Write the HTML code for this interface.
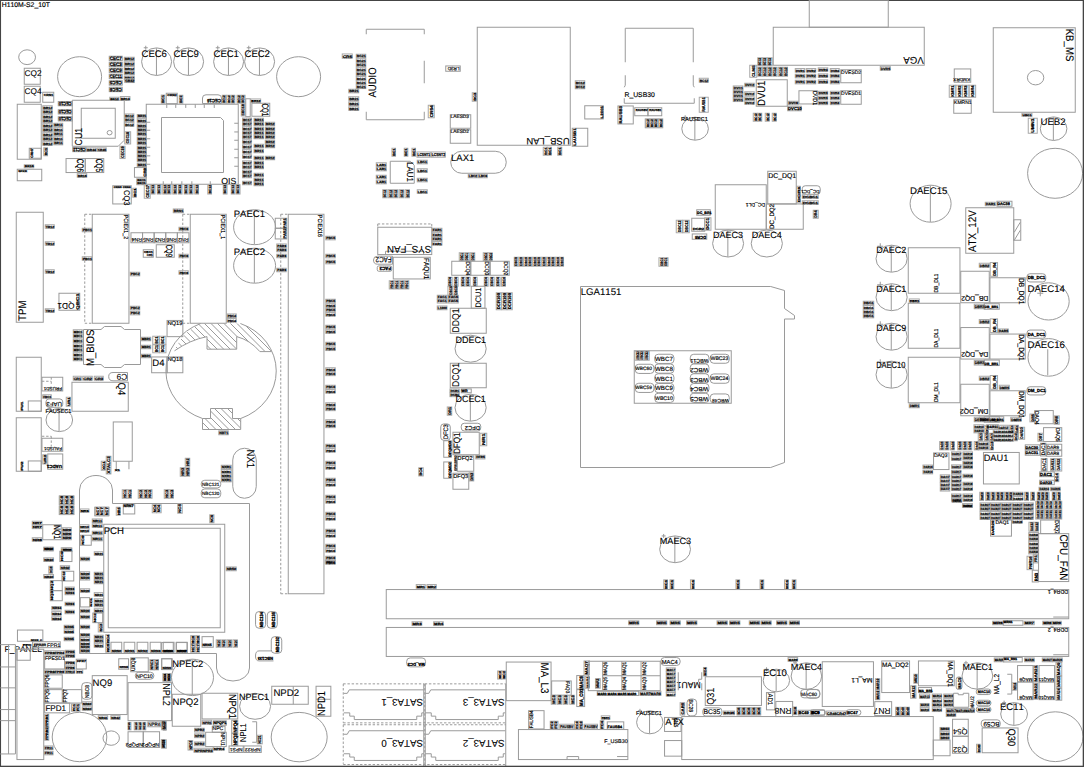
<!DOCTYPE html>
<html><head><meta charset="utf-8"><title>H110M-S2_10T</title>
<style>
html,body{margin:0;padding:0;background:#fff;}
body{width:1084px;height:767px;overflow:hidden;font-family:"Liberation Sans",sans-serif;}
svg{display:block}
svg rect,svg ellipse,svg line,svg polygon,svg polyline,svg path{fill:none;stroke:#9a9a9a;stroke-width:1}
svg text{font-family:"Liberation Sans",sans-serif;fill:#000;stroke:#000;stroke-width:0.1;font-kerning:none;text-rendering:geometricPrecision}
svg text.s{fill:#000;font-weight:bold;stroke:#000;stroke-width:0.25}
svg text.b{font-weight:bold}
svg rect.tb{stroke:#a8a8a8}
svg text.m{stroke:#000;stroke-width:0.16}
svg text.b{stroke:#000;stroke-width:0.3}
</style></head><body>
<svg width="1084" height="767" viewBox="0 0 1084 767">
<rect x="0" y="0" width="1084" height="767" style="fill:#fff;stroke:none"/>
<rect x="0" y="0" width="1084" height="1" style="fill:#444;stroke:none"/>
<rect x="0" y="0" width="1.05" height="767" style="fill:#444;stroke:none"/>
<text transform="translate(1.7 7.0)" font-size="6.85" text-anchor="start" class="t m">H110M-S2_10T</text>
<ellipse cx="27.1" cy="57.2" rx="8.4" ry="7.4"/>
<ellipse cx="79.6" cy="76.7" rx="22.0" ry="20.0"/>
<ellipse cx="298.6" cy="76.7" rx="22.0" ry="20.0"/>
<rect x="24.25" y="68.25" width="16.0" height="16.0"/>
<text transform="translate(24.5 76.0)" font-size="8.32" text-anchor="start" class="t">CQ2</text>
<rect x="24.25" y="86.25" width="16.0" height="16.0"/>
<text transform="translate(24.5 93.5)" font-size="8.32" text-anchor="start" class="t">CQ4</text>
<rect x="42.75" y="92.25" width="11.0" height="10.0"/>
<text x="43.7" y="95.6" font-size="3.0" textLength="9.4" lengthAdjust="spacingAndGlyphs" class="s">CRN1</text>
<rect x="17.25" y="104.25" width="24.0" height="55.0"/>
<rect x="29.25" y="148.25" width="12.0" height="10.0"/>
<text transform="translate(33.0 157.8) rotate(-90)" font-size="3.4" textLength="9.4" lengthAdjust="spacingAndGlyphs" class="s">CRN7</text>
<rect class="tb" x="42.75" y="105.75" width="9.5" height="3.6"/>
<text x="43.2" y="108.7" font-size="3.1" textLength="8.9" lengthAdjust="spacingAndGlyphs" class="s">BR12</text>
<rect class="tb" x="42.75" y="110.25" width="9.5" height="3.6"/>
<text x="43.2" y="113.2" font-size="3.1" textLength="8.9" lengthAdjust="spacingAndGlyphs" class="s">BR12</text>
<rect class="tb" x="42.75" y="114.75" width="9.5" height="3.6"/>
<text x="43.2" y="117.7" font-size="3.1" textLength="8.9" lengthAdjust="spacingAndGlyphs" class="s">BR12</text>
<rect class="tb" x="42.75" y="119.25" width="9.5" height="3.6"/>
<text x="43.2" y="122.2" font-size="3.1" textLength="8.9" lengthAdjust="spacingAndGlyphs" class="s">BR12</text>
<rect class="tb" x="42.75" y="123.75" width="9.5" height="3.6"/>
<text x="43.2" y="126.7" font-size="3.1" textLength="8.9" lengthAdjust="spacingAndGlyphs" class="s">BR12</text>
<rect class="tb" x="42.75" y="128.25" width="9.5" height="3.6"/>
<text x="43.2" y="131.2" font-size="3.1" textLength="8.9" lengthAdjust="spacingAndGlyphs" class="s">BR12</text>
<rect class="tb" x="42.75" y="132.75" width="9.5" height="3.6"/>
<text x="43.2" y="135.7" font-size="3.1" textLength="8.9" lengthAdjust="spacingAndGlyphs" class="s">BR12</text>
<rect class="tb" x="42.75" y="137.25" width="9.5" height="3.6"/>
<text x="43.2" y="140.2" font-size="3.1" textLength="8.9" lengthAdjust="spacingAndGlyphs" class="s">BR12</text>
<rect class="tb" x="42.75" y="141.75" width="9.5" height="3.6"/>
<text x="43.2" y="144.7" font-size="3.1" textLength="8.9" lengthAdjust="spacingAndGlyphs" class="s">BR12</text>
<rect class="tb" x="53.75" y="123.25" width="9.0" height="3.6"/>
<text x="54.2" y="126.2" font-size="3.1" textLength="8.4" lengthAdjust="spacingAndGlyphs" class="s">BR11</text>
<rect class="tb" x="53.75" y="127.75" width="9.0" height="3.6"/>
<text x="54.2" y="130.7" font-size="3.1" textLength="8.4" lengthAdjust="spacingAndGlyphs" class="s">BR11</text>
<rect class="tb" x="53.75" y="132.25" width="9.0" height="3.6"/>
<text x="54.2" y="135.2" font-size="3.1" textLength="8.4" lengthAdjust="spacingAndGlyphs" class="s">BR11</text>
<rect class="tb" x="53.75" y="136.75" width="9.0" height="3.6"/>
<text x="54.2" y="139.7" font-size="3.1" textLength="8.4" lengthAdjust="spacingAndGlyphs" class="s">BR11</text>
<rect class="tb" x="53.75" y="141.25" width="9.0" height="3.6"/>
<text x="54.2" y="144.2" font-size="3.1" textLength="8.4" lengthAdjust="spacingAndGlyphs" class="s">BR11</text>
<rect class="tb" x="43.75" y="147.75" width="3.8" height="8.0"/>
<text transform="translate(46.9 155.3) rotate(-90)" font-size="3.2" textLength="7.4" lengthAdjust="spacingAndGlyphs" class="s">BC1</text>
<rect x="58.25" y="101.55" width="14.0" height="4.2"/>
<text transform="translate(71.6 101.8) rotate(180)" font-size="4.9" text-anchor="start" textLength="12.8" lengthAdjust="spacingAndGlyphs" class="t b">CEC10</text>
<rect x="58.25" y="109.75" width="14.0" height="4.2"/>
<text transform="translate(71.6 110.0) rotate(180)" font-size="4.9" text-anchor="start" textLength="12.8" lengthAdjust="spacingAndGlyphs" class="t b">CEC10</text>
<rect x="58.25" y="116.75" width="14.0" height="4.2"/>
<text transform="translate(71.6 117.0) rotate(180)" font-size="4.9" text-anchor="start" textLength="12.8" lengthAdjust="spacingAndGlyphs" class="t b">CEC10</text>
<polygon points="72.25,100.25 124.25,100.25 124.25,140.25 118.25,146.25 72.25,146.25"/>
<rect x="81.25" y="108.25" width="34.0" height="30.0"/>
<ellipse cx="109.6" cy="132.7" rx="2.5" ry="2.2"/>
<text transform="translate(82.2 145.5) rotate(-90) scale(1 1.15)" font-size="8.83" text-anchor="start" class="t">CU1</text>
<rect class="tb" x="109.75" y="97.25" width="9.0" height="3.0"/>
<text x="110.2" y="99.7" font-size="2.5" textLength="8.4" lengthAdjust="spacingAndGlyphs" class="s">BR12</text>
<rect class="tb" x="120.25" y="96.55" width="9.7" height="3.7"/>
<text x="120.7" y="99.6" font-size="3.1" textLength="9.1" lengthAdjust="spacingAndGlyphs" class="s">BR13</text>
<rect class="tb" x="124.75" y="113.95" width="9.1" height="3.6"/>
<text x="125.2" y="116.9" font-size="3.1" textLength="8.5" lengthAdjust="spacingAndGlyphs" class="s">BC12</text>
<rect class="tb" x="124.75" y="118.25" width="9.1" height="3.6"/>
<text x="125.2" y="121.2" font-size="3.1" textLength="8.5" lengthAdjust="spacingAndGlyphs" class="s">BC12</text>
<rect class="tb" x="124.75" y="122.65" width="9.1" height="3.6"/>
<text x="125.2" y="125.6" font-size="3.1" textLength="8.5" lengthAdjust="spacingAndGlyphs" class="s">BC12</text>
<rect class="tb" x="124.75" y="131.75" width="5.9" height="12.2"/>
<text transform="translate(129.3 143.5) rotate(-90)" font-size="4.2" textLength="11.6" lengthAdjust="spacingAndGlyphs" class="s">CEC18</text>
<rect class="tb" x="119.95" y="146.25" width="5.1" height="12.3"/>
<text transform="translate(124.1 158.1) rotate(-90)" font-size="4.2" textLength="11.7" lengthAdjust="spacingAndGlyphs" class="s">CEC19</text>
<rect x="72.75" y="147.25" width="13.3" height="4.4"/>
<text transform="translate(85.5 147.7) rotate(180)" font-size="4.7" text-anchor="start" textLength="12.3" lengthAdjust="spacingAndGlyphs" class="t b">CEC12</text>
<rect class="tb" x="86.55" y="147.85" width="9.7" height="3.6"/>
<text x="87.0" y="150.8" font-size="3.1" textLength="9.1" lengthAdjust="spacingAndGlyphs" class="s">BR44</text>
<rect class="tb" x="97.25" y="147.85" width="9.0" height="3.6"/>
<text x="97.7" y="150.8" font-size="3.1" textLength="8.4" lengthAdjust="spacingAndGlyphs" class="s">CR45</text>
<rect x="66.05" y="158.55" width="19.2" height="14.0"/>
<rect x="85.25" y="158.55" width="18.5" height="14.0"/>
<text transform="translate(77.0 158.8) rotate(90) scale(1 1.45)" font-size="6.5" text-anchor="start" class="t m">CQ6</text>
<text transform="translate(96.0 158.8) rotate(90) scale(1 1.45)" font-size="6.5" text-anchor="start" class="t m">CQ5</text>
<rect class="tb" x="77.25" y="173.65" width="9.5" height="3.6"/>
<text x="77.7" y="176.6" font-size="3.1" textLength="8.9" lengthAdjust="spacingAndGlyphs" class="s">BR16</text>
<rect class="tb" x="24.25" y="164.75" width="9.5" height="3.0"/>
<text x="24.7" y="167.2" font-size="2.5" textLength="8.9" lengthAdjust="spacingAndGlyphs" class="s">BR15</text>
<rect x="17.25" y="169.25" width="24.5" height="11.5"/>
<text x="18.2" y="172.2" font-size="2.5" textLength="8.9" lengthAdjust="spacingAndGlyphs" class="s">SPKR</text>
<rect x="109.25" y="56.25" width="13.0" height="4.4"/>
<text transform="translate(109.8 60.2)" font-size="4.9" text-anchor="start" textLength="12.0" lengthAdjust="spacingAndGlyphs" class="t b">CEC7</text>
<rect x="109.25" y="62.25" width="13.0" height="4.4"/>
<text transform="translate(109.8 66.2)" font-size="4.9" text-anchor="start" textLength="12.0" lengthAdjust="spacingAndGlyphs" class="t b">CEC3</text>
<rect x="109.25" y="68.25" width="13.0" height="4.4"/>
<text transform="translate(109.8 72.2)" font-size="4.9" text-anchor="start" textLength="12.0" lengthAdjust="spacingAndGlyphs" class="t b">CEC9</text>
<rect x="109.25" y="74.25" width="13.0" height="4.4"/>
<text transform="translate(109.8 78.2)" font-size="4.9" text-anchor="start" textLength="12.0" lengthAdjust="spacingAndGlyphs" class="t b">CEC11</text>
<rect x="109.25" y="80.75" width="13.0" height="4.4"/>
<text transform="translate(121.7 81.2) rotate(180)" font-size="4.9" text-anchor="start" textLength="12.0" lengthAdjust="spacingAndGlyphs" class="t b">CEC5</text>
<rect x="109.25" y="87.25" width="13.0" height="4.4"/>
<text transform="translate(121.7 87.7) rotate(180)" font-size="4.9" text-anchor="start" textLength="12.0" lengthAdjust="spacingAndGlyphs" class="t b">CEC6</text>
<rect class="tb" x="124.25" y="57.25" width="10.0" height="3.6"/>
<text x="124.7" y="60.2" font-size="3.1" textLength="9.4" lengthAdjust="spacingAndGlyphs" class="s">BR12</text>
<rect class="tb" x="124.25" y="61.95" width="10.0" height="3.6"/>
<text x="124.7" y="64.9" font-size="3.1" textLength="9.4" lengthAdjust="spacingAndGlyphs" class="s">BR12</text>
<rect class="tb" x="124.25" y="66.55" width="10.0" height="3.6"/>
<text x="124.7" y="69.5" font-size="3.1" textLength="9.4" lengthAdjust="spacingAndGlyphs" class="s">BR12</text>
<rect class="tb" x="124.25" y="71.25" width="10.0" height="3.6"/>
<text x="124.7" y="74.2" font-size="3.1" textLength="9.4" lengthAdjust="spacingAndGlyphs" class="s">BR12</text>
<rect class="tb" x="124.25" y="76.25" width="10.0" height="3.6"/>
<text x="124.7" y="79.2" font-size="3.1" textLength="9.4" lengthAdjust="spacingAndGlyphs" class="s">BR12</text>
<rect class="tb" x="124.75" y="78.75" width="9.5" height="3.8"/>
<text x="125.2" y="81.9" font-size="3.2" textLength="8.9" lengthAdjust="spacingAndGlyphs" class="s">CR42</text>
<ellipse cx="156.6" cy="61.7" rx="15.0" ry="13.8"/>
<line x1="156.45" y1="48.25" x2="156.45" y2="75.25"/>
<line x1="145.75" y1="45.75" x2="145.75" y2="49.75"/>
<line x1="143.75" y1="47.75" x2="147.75" y2="47.75"/>
<text transform="translate(141.5 57.0)" font-size="9.54" text-anchor="start" class="t">CEC6</text>
<ellipse cx="188.6" cy="61.7" rx="15.0" ry="13.8"/>
<line x1="188.45" y1="48.25" x2="188.45" y2="75.25"/>
<line x1="177.75" y1="45.75" x2="177.75" y2="49.75"/>
<line x1="175.75" y1="47.75" x2="179.75" y2="47.75"/>
<text transform="translate(173.5 57.0)" font-size="9.54" text-anchor="start" class="t">CEC9</text>
<ellipse cx="228.6" cy="61.7" rx="15.0" ry="13.8"/>
<line x1="228.45" y1="48.25" x2="228.45" y2="75.25"/>
<line x1="217.75" y1="45.75" x2="217.75" y2="49.75"/>
<line x1="215.75" y1="47.75" x2="219.75" y2="47.75"/>
<text transform="translate(213.5 57.0)" font-size="9.54" text-anchor="start" class="t">CEC1</text>
<ellipse cx="259.6" cy="61.7" rx="15.0" ry="13.8"/>
<line x1="259.45" y1="48.25" x2="259.45" y2="75.25"/>
<line x1="248.75" y1="45.75" x2="248.75" y2="49.75"/>
<line x1="246.75" y1="47.75" x2="250.75" y2="47.75"/>
<text transform="translate(244.5 57.0)" font-size="9.54" text-anchor="start" class="t">CEC2</text>
<rect x="146.25" y="104.25" width="92.0" height="80.0"/>
<path d="M161.5 117.5 H220.5 L223.5 120.5 V172.5 H161.5 Z" />
<line x1="166.75" y1="104.25" x2="166.75" y2="107.95"/>
<line x1="175.75" y1="104.25" x2="175.75" y2="107.95"/>
<line x1="185.75" y1="104.25" x2="185.75" y2="107.95"/>
<line x1="195.25" y1="104.25" x2="195.25" y2="107.95"/>
<line x1="204.25" y1="104.25" x2="204.25" y2="107.95"/>
<line x1="214.25" y1="104.25" x2="214.25" y2="107.95"/>
<line x1="146.25" y1="122.25" x2="150.25" y2="122.25"/>
<line x1="146.25" y1="130.25" x2="150.25" y2="130.25"/>
<line x1="146.25" y1="138.75" x2="150.25" y2="138.75"/>
<line x1="146.25" y1="147.25" x2="150.25" y2="147.25"/>
<line x1="146.25" y1="155.85" x2="150.25" y2="155.85"/>
<line x1="146.25" y1="164.25" x2="150.25" y2="164.25"/>
<line x1="234.25" y1="123.25" x2="238.25" y2="123.25"/>
<line x1="234.25" y1="131.95" x2="238.25" y2="131.95"/>
<line x1="234.25" y1="140.25" x2="238.25" y2="140.25"/>
<line x1="234.25" y1="149.25" x2="238.25" y2="149.25"/>
<line x1="234.25" y1="157.75" x2="238.25" y2="157.75"/>
<line x1="234.25" y1="166.25" x2="238.25" y2="166.25"/>
<line x1="163.25" y1="181.25" x2="163.25" y2="184.25"/>
<line x1="171.75" y1="181.25" x2="171.75" y2="184.25"/>
<line x1="181.85" y1="181.25" x2="181.85" y2="184.25"/>
<line x1="191.85" y1="181.25" x2="191.85" y2="184.25"/>
<line x1="210.25" y1="181.25" x2="210.25" y2="184.25"/>
<text transform="translate(221.3 183.7)" font-size="8.73" text-anchor="start" class="t">OIS</text>
<rect class="tb" x="161.25" y="95.05" width="3.6" height="8.2"/>
<text transform="translate(164.2 102.8) rotate(-90)" font-size="3.1" textLength="7.6" lengthAdjust="spacingAndGlyphs" class="s">BC1</text>
<rect x="166.25" y="93.25" width="11.0" height="10.4"/>
<text x="167.2" y="96.2" font-size="2.7" textLength="9.4" lengthAdjust="spacingAndGlyphs" class="s">CRN2</text>
<rect class="tb" x="179.25" y="95.25" width="3.6" height="8.0"/>
<text transform="translate(182.2 102.8) rotate(-90)" font-size="3.1" textLength="7.4" lengthAdjust="spacingAndGlyphs" class="s">BC2</text>
<path d="M202.5 103.5 V98 Q202.5 94.8 206 94.8 H218 Q221.5 94.8 221.5 98 V103.5 Z" />
<text transform="translate(221.0 99.4) rotate(180)" font-size="4.9" text-anchor="start" textLength="14.0" lengthAdjust="spacingAndGlyphs" class="t b">CEC16</text>
<rect class="tb" x="222.25" y="95.25" width="3.6" height="8.0"/>
<text transform="translate(225.2 102.8) rotate(-90)" font-size="3.1" textLength="7.4" lengthAdjust="spacingAndGlyphs" class="s">BC12</text>
<rect class="tb" x="226.55" y="95.25" width="3.6" height="8.0"/>
<text transform="translate(229.5 102.8) rotate(-90)" font-size="3.1" textLength="7.4" lengthAdjust="spacingAndGlyphs" class="s">BC12</text>
<rect class="tb" x="231.25" y="95.25" width="3.6" height="8.0"/>
<text transform="translate(234.2 102.8) rotate(-90)" font-size="3.1" textLength="7.4" lengthAdjust="spacingAndGlyphs" class="s">BC12</text>
<rect class="tb" x="237.05" y="95.25" width="3.6" height="8.0"/>
<text transform="translate(240.0 102.8) rotate(-90)" font-size="3.1" textLength="7.4" lengthAdjust="spacingAndGlyphs" class="s">BC12</text>
<rect class="tb" x="241.45" y="95.25" width="3.6" height="8.0"/>
<text transform="translate(244.4 102.8) rotate(-90)" font-size="3.1" textLength="7.4" lengthAdjust="spacingAndGlyphs" class="s">BC12</text>
<rect class="tb" x="241.25" y="104.25" width="3.6" height="11.7"/>
<text transform="translate(244.2 115.5) rotate(-90)" font-size="3.1" textLength="11.1" lengthAdjust="spacingAndGlyphs" class="s">CEC18</text>
<rect x="245.75" y="98.75" width="4.5" height="17.9"/>
<rect class="tb" x="250.85" y="98.95" width="9.8" height="3.3"/>
<text x="251.3" y="101.7" font-size="2.8" textLength="9.2" lengthAdjust="spacingAndGlyphs" class="s">BR12</text>
<rect x="251.85" y="103.25" width="17.9" height="13.0"/>
<text transform="translate(262.3 103.5) rotate(90) scale(1 1.5)" font-size="6.2" text-anchor="start" class="t m">CQ1</text>
<rect class="tb" x="242.55" y="118.05" width="9.0" height="3.5"/>
<text x="243.0" y="120.9" font-size="3.0" textLength="8.4" lengthAdjust="spacingAndGlyphs" class="s">BC17</text>
<rect class="tb" x="242.55" y="122.25" width="9.0" height="3.5"/>
<text x="243.0" y="125.1" font-size="3.0" textLength="8.4" lengthAdjust="spacingAndGlyphs" class="s">BC17</text>
<rect class="tb" x="242.55" y="126.75" width="9.0" height="3.5"/>
<text x="243.0" y="129.6" font-size="3.0" textLength="8.4" lengthAdjust="spacingAndGlyphs" class="s">BC17</text>
<rect class="tb" x="242.55" y="131.25" width="9.0" height="3.5"/>
<text x="243.0" y="134.1" font-size="3.0" textLength="8.4" lengthAdjust="spacingAndGlyphs" class="s">BC17</text>
<rect class="tb" x="242.55" y="135.25" width="9.0" height="3.5"/>
<text x="243.0" y="138.1" font-size="3.0" textLength="8.4" lengthAdjust="spacingAndGlyphs" class="s">BC17</text>
<rect class="tb" x="242.55" y="139.85" width="9.0" height="3.5"/>
<text x="243.0" y="142.7" font-size="3.0" textLength="8.4" lengthAdjust="spacingAndGlyphs" class="s">BC17</text>
<rect class="tb" x="242.55" y="144.75" width="9.0" height="3.5"/>
<text x="243.0" y="147.6" font-size="3.0" textLength="8.4" lengthAdjust="spacingAndGlyphs" class="s">BC17</text>
<rect class="tb" x="242.55" y="149.65" width="9.0" height="3.5"/>
<text x="243.0" y="152.5" font-size="3.0" textLength="8.4" lengthAdjust="spacingAndGlyphs" class="s">BC17</text>
<rect class="tb" x="242.55" y="154.75" width="9.0" height="3.5"/>
<text x="243.0" y="157.6" font-size="3.0" textLength="8.4" lengthAdjust="spacingAndGlyphs" class="s">BC17</text>
<rect class="tb" x="242.55" y="160.85" width="9.0" height="3.5"/>
<text x="243.0" y="163.7" font-size="3.0" textLength="8.4" lengthAdjust="spacingAndGlyphs" class="s">BC17</text>
<rect class="tb" x="242.55" y="164.95" width="9.0" height="3.5"/>
<text x="243.0" y="167.8" font-size="3.0" textLength="8.4" lengthAdjust="spacingAndGlyphs" class="s">BC17</text>
<rect class="tb" x="242.55" y="170.05" width="9.0" height="3.5"/>
<text x="243.0" y="172.9" font-size="3.0" textLength="8.4" lengthAdjust="spacingAndGlyphs" class="s">BC17</text>
<rect class="tb" x="242.55" y="174.25" width="9.0" height="3.5"/>
<text x="243.0" y="177.1" font-size="3.0" textLength="8.4" lengthAdjust="spacingAndGlyphs" class="s">BC17</text>
<rect class="tb" x="242.55" y="181.25" width="9.0" height="3.5"/>
<text x="243.0" y="184.1" font-size="3.0" textLength="8.4" lengthAdjust="spacingAndGlyphs" class="s">BC17</text>
<rect class="tb" x="254.05" y="118.25" width="9.4" height="3.5"/>
<text x="254.5" y="121.1" font-size="3.0" textLength="8.8" lengthAdjust="spacingAndGlyphs" class="s">BR11</text>
<rect class="tb" x="254.05" y="122.25" width="9.4" height="3.5"/>
<text x="254.5" y="125.1" font-size="3.0" textLength="8.8" lengthAdjust="spacingAndGlyphs" class="s">BR11</text>
<rect class="tb" x="254.05" y="127.25" width="9.4" height="3.5"/>
<text x="254.5" y="130.1" font-size="3.0" textLength="8.8" lengthAdjust="spacingAndGlyphs" class="s">BR11</text>
<rect class="tb" x="254.05" y="131.25" width="9.4" height="3.5"/>
<text x="254.5" y="134.1" font-size="3.0" textLength="8.8" lengthAdjust="spacingAndGlyphs" class="s">BR11</text>
<rect class="tb" x="254.05" y="135.25" width="9.4" height="3.5"/>
<text x="254.5" y="138.1" font-size="3.0" textLength="8.8" lengthAdjust="spacingAndGlyphs" class="s">BR11</text>
<rect class="tb" x="254.05" y="144.25" width="9.4" height="3.5"/>
<text x="254.5" y="147.1" font-size="3.0" textLength="8.8" lengthAdjust="spacingAndGlyphs" class="s">BR11</text>
<rect class="tb" x="254.05" y="149.25" width="9.4" height="3.5"/>
<text x="254.5" y="152.1" font-size="3.0" textLength="8.8" lengthAdjust="spacingAndGlyphs" class="s">BR11</text>
<rect class="tb" x="254.05" y="156.25" width="9.4" height="3.5"/>
<text x="254.5" y="159.1" font-size="3.0" textLength="8.8" lengthAdjust="spacingAndGlyphs" class="s">BR11</text>
<rect class="tb" x="254.05" y="161.25" width="9.4" height="3.5"/>
<text x="254.5" y="164.1" font-size="3.0" textLength="8.8" lengthAdjust="spacingAndGlyphs" class="s">BR11</text>
<rect class="tb" x="254.05" y="165.25" width="9.4" height="3.5"/>
<text x="254.5" y="168.1" font-size="3.0" textLength="8.8" lengthAdjust="spacingAndGlyphs" class="s">BR11</text>
<rect class="tb" x="254.05" y="173.25" width="9.4" height="3.5"/>
<text x="254.5" y="176.1" font-size="3.0" textLength="8.8" lengthAdjust="spacingAndGlyphs" class="s">BR11</text>
<rect class="tb" x="254.05" y="178.25" width="9.4" height="3.5"/>
<text x="254.5" y="181.1" font-size="3.0" textLength="8.8" lengthAdjust="spacingAndGlyphs" class="s">BR11</text>
<rect class="tb" x="254.05" y="182.25" width="9.4" height="3.5"/>
<text x="254.5" y="185.1" font-size="3.0" textLength="8.8" lengthAdjust="spacingAndGlyphs" class="s">BR11</text>
<rect class="tb" x="265.25" y="122.25" width="9.4" height="3.5"/>
<text x="265.7" y="125.1" font-size="3.0" textLength="8.8" lengthAdjust="spacingAndGlyphs" class="s">BR12</text>
<rect class="tb" x="265.25" y="127.25" width="9.4" height="3.5"/>
<text x="265.7" y="130.1" font-size="3.0" textLength="8.8" lengthAdjust="spacingAndGlyphs" class="s">BR12</text>
<rect class="tb" x="265.25" y="131.25" width="9.4" height="3.5"/>
<text x="265.7" y="134.1" font-size="3.0" textLength="8.8" lengthAdjust="spacingAndGlyphs" class="s">BR12</text>
<rect class="tb" x="265.25" y="135.25" width="9.4" height="3.5"/>
<text x="265.7" y="138.1" font-size="3.0" textLength="8.8" lengthAdjust="spacingAndGlyphs" class="s">BR12</text>
<rect class="tb" x="265.25" y="140.25" width="9.4" height="3.5"/>
<text x="265.7" y="143.1" font-size="3.0" textLength="8.8" lengthAdjust="spacingAndGlyphs" class="s">BR12</text>
<rect class="tb" x="265.25" y="144.25" width="9.4" height="3.5"/>
<text x="265.7" y="147.1" font-size="3.0" textLength="8.8" lengthAdjust="spacingAndGlyphs" class="s">BR12</text>
<rect class="tb" x="265.25" y="156.25" width="9.4" height="3.5"/>
<text x="265.7" y="159.1" font-size="3.0" textLength="8.8" lengthAdjust="spacingAndGlyphs" class="s">BR12</text>
<rect class="tb" x="137.25" y="114.55" width="9.0" height="3.5"/>
<text x="137.7" y="117.4" font-size="3.0" textLength="8.4" lengthAdjust="spacingAndGlyphs" class="s">BR21</text>
<rect class="tb" x="137.25" y="118.85" width="9.0" height="3.5"/>
<text x="137.7" y="121.7" font-size="3.0" textLength="8.4" lengthAdjust="spacingAndGlyphs" class="s">BR21</text>
<rect class="tb" x="137.25" y="123.95" width="9.0" height="3.5"/>
<text x="137.7" y="126.8" font-size="3.0" textLength="8.4" lengthAdjust="spacingAndGlyphs" class="s">BR21</text>
<rect class="tb" x="137.25" y="128.25" width="9.0" height="3.5"/>
<text x="137.7" y="131.1" font-size="3.0" textLength="8.4" lengthAdjust="spacingAndGlyphs" class="s">BR21</text>
<rect class="tb" x="137.25" y="132.25" width="9.0" height="3.5"/>
<text x="137.7" y="135.1" font-size="3.0" textLength="8.4" lengthAdjust="spacingAndGlyphs" class="s">BR21</text>
<rect class="tb" x="137.25" y="137.25" width="9.0" height="3.5"/>
<text x="137.7" y="140.1" font-size="3.0" textLength="8.4" lengthAdjust="spacingAndGlyphs" class="s">BR21</text>
<rect class="tb" x="137.25" y="141.25" width="9.0" height="3.5"/>
<text x="137.7" y="144.1" font-size="3.0" textLength="8.4" lengthAdjust="spacingAndGlyphs" class="s">BR21</text>
<rect class="tb" x="137.25" y="146.25" width="9.0" height="3.5"/>
<text x="137.7" y="149.1" font-size="3.0" textLength="8.4" lengthAdjust="spacingAndGlyphs" class="s">BR21</text>
<rect class="tb" x="137.25" y="150.25" width="9.0" height="3.5"/>
<text x="137.7" y="153.1" font-size="3.0" textLength="8.4" lengthAdjust="spacingAndGlyphs" class="s">BR21</text>
<rect class="tb" x="137.25" y="154.25" width="9.0" height="3.5"/>
<text x="137.7" y="157.1" font-size="3.0" textLength="8.4" lengthAdjust="spacingAndGlyphs" class="s">BR21</text>
<rect class="tb" x="137.25" y="158.25" width="9.0" height="3.5"/>
<text x="137.7" y="161.1" font-size="3.0" textLength="8.4" lengthAdjust="spacingAndGlyphs" class="s">BR21</text>
<rect class="tb" x="137.25" y="163.25" width="9.0" height="3.5"/>
<text x="137.7" y="166.1" font-size="3.0" textLength="8.4" lengthAdjust="spacingAndGlyphs" class="s">BR21</text>
<rect x="134.45" y="167.55" width="11.8" height="9.7"/>
<text transform="translate(145.5 176.8) rotate(-90)" font-size="3.4" textLength="8.9" lengthAdjust="spacingAndGlyphs" class="s">CR8</text>
<rect class="tb" x="136.75" y="178.75" width="9.0" height="3.0"/>
<text x="137.2" y="181.2" font-size="2.5" textLength="8.4" lengthAdjust="spacingAndGlyphs" class="s">BR21</text>
<rect class="tb" x="136.75" y="181.75" width="9.0" height="3.0"/>
<text x="137.2" y="184.2" font-size="2.5" textLength="8.4" lengthAdjust="spacingAndGlyphs" class="s">BR21</text>
<polyline points="366.25,34.25 366.25,29.25 424.25,29.25 424.25,34.25"/>
<polyline points="366.25,111.75 366.25,119.75 424.25,119.75 424.25,111.75"/>
<line x1="424.25" y1="60.75" x2="424.25" y2="83.25"/>
<text transform="translate(376.0 97.5) rotate(-90) scale(1 1.13)" font-size="9.54" text-anchor="start" class="t">AUDIO</text>
<rect class="tb" x="342.25" y="53.95" width="10.0" height="4.3"/>
<text x="342.7" y="57.5" font-size="3.7" textLength="9.4" lengthAdjust="spacingAndGlyphs" class="s">CR5</text>
<rect class="tb" x="356.25" y="54.25" width="9.5" height="3.6"/>
<text x="356.7" y="57.2" font-size="3.1" textLength="8.9" lengthAdjust="spacingAndGlyphs" class="s">BC21</text>
<rect class="tb" x="356.25" y="58.75" width="9.5" height="3.6"/>
<text x="356.7" y="61.7" font-size="3.1" textLength="8.9" lengthAdjust="spacingAndGlyphs" class="s">BC21</text>
<rect class="tb" x="356.25" y="63.25" width="9.5" height="3.6"/>
<text x="356.7" y="66.2" font-size="3.1" textLength="8.9" lengthAdjust="spacingAndGlyphs" class="s">BC21</text>
<rect class="tb" x="356.25" y="67.75" width="9.5" height="3.6"/>
<text x="356.7" y="70.7" font-size="3.1" textLength="8.9" lengthAdjust="spacingAndGlyphs" class="s">BC21</text>
<rect class="tb" x="356.25" y="72.25" width="9.5" height="3.6"/>
<text x="356.7" y="75.2" font-size="3.1" textLength="8.9" lengthAdjust="spacingAndGlyphs" class="s">BC21</text>
<rect class="tb" x="356.25" y="76.55" width="9.5" height="3.6"/>
<text x="356.7" y="79.5" font-size="3.1" textLength="8.9" lengthAdjust="spacingAndGlyphs" class="s">BC21</text>
<rect class="tb" x="356.25" y="80.75" width="9.5" height="3.6"/>
<text x="356.7" y="83.7" font-size="3.1" textLength="8.9" lengthAdjust="spacingAndGlyphs" class="s">BC21</text>
<rect class="tb" x="356.25" y="84.95" width="9.5" height="3.6"/>
<text x="356.7" y="87.9" font-size="3.1" textLength="8.9" lengthAdjust="spacingAndGlyphs" class="s">BC21</text>
<rect class="tb" x="348.75" y="89.25" width="10.0" height="3.6"/>
<text x="349.2" y="92.2" font-size="3.1" textLength="9.4" lengthAdjust="spacingAndGlyphs" class="s">BR21</text>
<rect class="tb" x="348.75" y="96.75" width="10.0" height="3.6"/>
<text x="349.2" y="99.7" font-size="3.1" textLength="9.4" lengthAdjust="spacingAndGlyphs" class="s">BR21</text>
<rect class="tb" x="348.75" y="101.75" width="10.0" height="3.6"/>
<text x="349.2" y="104.7" font-size="3.1" textLength="9.4" lengthAdjust="spacingAndGlyphs" class="s">BR21</text>
<rect class="tb" x="348.75" y="106.75" width="10.0" height="3.6"/>
<text x="349.2" y="109.7" font-size="3.1" textLength="9.4" lengthAdjust="spacingAndGlyphs" class="s">BR21</text>
<rect class="tb" x="428.25" y="105.25" width="6.0" height="12.5"/>
<text transform="translate(432.8 117.3) rotate(-90)" font-size="4.2" textLength="11.9" lengthAdjust="spacingAndGlyphs" class="s">CR54</text>
<rect x="445.75" y="65.95" width="14.5" height="5.3"/>
<text transform="translate(459.4 67.1) rotate(180)" font-size="4.6" text-anchor="start" class="t m">LR3D</text>
<rect class="tb" x="472.25" y="92.75" width="4.0" height="8.5"/>
<text transform="translate(475.5 100.8) rotate(-90)" font-size="3.4" textLength="7.9" lengthAdjust="spacingAndGlyphs" class="s">BC3</text>
<rect x="477.25" y="27.25" width="93.0" height="118.0"/>
<text transform="translate(569.7 137.6) rotate(180)" font-size="9.54" text-anchor="start" class="t">USB_LAN</text>
<rect x="450.25" y="114.75" width="20.5" height="13.5"/>
<text transform="translate(450.6 118.3)" font-size="4.8" text-anchor="start" class="t m">LAESD3</text>
<rect x="450.25" y="129.75" width="20.5" height="13.5"/>
<text transform="translate(450.6 133.3)" font-size="4.8" text-anchor="start" class="t m">LAESD2</text>
<rect x="450.75" y="151.25" width="55.5" height="22.0" rx="11" ry="11"/>
<text transform="translate(451.0 160.7)" font-size="9.54" text-anchor="start" class="t">LAX1</text>
<rect class="tb" x="468.25" y="174.25" width="9.0" height="3.5"/>
<text x="468.7" y="177.1" font-size="3.0" textLength="8.4" lengthAdjust="spacingAndGlyphs" class="s">LBC2</text>
<rect class="tb" x="478.25" y="174.25" width="9.0" height="3.5"/>
<text x="478.7" y="177.1" font-size="3.0" textLength="8.4" lengthAdjust="spacingAndGlyphs" class="s">LBC3</text>
<rect class="tb" x="391.95" y="148.25" width="3.6" height="8.0"/>
<text transform="translate(394.9 155.8) rotate(-90)" font-size="3.1" textLength="7.4" lengthAdjust="spacingAndGlyphs" class="s">BC1</text>
<rect class="tb" x="404.25" y="148.25" width="3.6" height="8.0"/>
<text transform="translate(407.2 155.8) rotate(-90)" font-size="3.1" textLength="7.4" lengthAdjust="spacingAndGlyphs" class="s">BC1</text>
<rect class="tb" x="411.95" y="148.25" width="3.6" height="8.0"/>
<text transform="translate(414.9 155.8) rotate(-90)" font-size="3.1" textLength="7.4" lengthAdjust="spacingAndGlyphs" class="s">BC1</text>
<rect class="tb" x="416.95" y="151.95" width="13.3" height="5.3"/>
<text x="417.4" y="156.2" font-size="4.2" textLength="12.7" lengthAdjust="spacingAndGlyphs" class="s">LCSNT1</text>
<rect class="tb" x="431.25" y="151.95" width="14.0" height="5.3"/>
<text x="431.7" y="156.2" font-size="4.2" textLength="13.4" lengthAdjust="spacingAndGlyphs" class="s">LCSNT2</text>
<polygon points="390.25,161.25 410.25,161.25 414.25,165.25 414.25,183.25 390.25,183.25"/>
<text transform="translate(406.5 162.0) rotate(90) scale(1 1.13)" font-size="7.92" text-anchor="start" class="t">LAU1</text>
<rect class="tb" x="376.25" y="162.75" width="10.0" height="3.6"/>
<text x="376.7" y="165.7" font-size="3.1" textLength="9.4" lengthAdjust="spacingAndGlyphs" class="s">LAR1</text>
<rect class="tb" x="376.25" y="167.25" width="10.0" height="3.6"/>
<text x="376.7" y="170.2" font-size="3.1" textLength="9.4" lengthAdjust="spacingAndGlyphs" class="s">LAR1</text>
<rect class="tb" x="376.25" y="175.25" width="10.0" height="3.6"/>
<text x="376.7" y="178.2" font-size="3.1" textLength="9.4" lengthAdjust="spacingAndGlyphs" class="s">LAR1</text>
<rect class="tb" x="376.25" y="180.25" width="10.0" height="3.6"/>
<text x="376.7" y="183.2" font-size="3.1" textLength="9.4" lengthAdjust="spacingAndGlyphs" class="s">LAR1</text>
<rect class="tb" x="417.25" y="160.25" width="10.0" height="3.6"/>
<text x="417.7" y="163.2" font-size="3.1" textLength="9.4" lengthAdjust="spacingAndGlyphs" class="s">LBC1</text>
<rect class="tb" x="417.25" y="168.75" width="10.0" height="3.6"/>
<text x="417.7" y="171.7" font-size="3.1" textLength="9.4" lengthAdjust="spacingAndGlyphs" class="s">LBC1</text>
<rect class="tb" x="417.25" y="178.25" width="10.0" height="3.6"/>
<text x="417.7" y="181.2" font-size="3.1" textLength="9.4" lengthAdjust="spacingAndGlyphs" class="s">LBC1</text>
<rect class="tb" x="417.25" y="189.75" width="10.0" height="3.6"/>
<text x="417.7" y="192.7" font-size="3.1" textLength="9.4" lengthAdjust="spacingAndGlyphs" class="s">LBC1</text>
<rect class="tb" x="382.75" y="189.75" width="4.4" height="8.0"/>
<text transform="translate(386.3 197.3) rotate(-90)" font-size="3.7" textLength="7.4" lengthAdjust="spacingAndGlyphs" class="s">BC12</text>
<rect class="tb" x="388.25" y="189.75" width="4.4" height="8.0"/>
<text transform="translate(391.8 197.3) rotate(-90)" font-size="3.7" textLength="7.4" lengthAdjust="spacingAndGlyphs" class="s">BC12</text>
<rect class="tb" x="393.55" y="189.75" width="4.4" height="8.0"/>
<text transform="translate(397.1 197.3) rotate(-90)" font-size="3.7" textLength="7.4" lengthAdjust="spacingAndGlyphs" class="s">BC12</text>
<rect class="tb" x="399.25" y="189.75" width="4.4" height="8.0"/>
<text transform="translate(402.8 197.3) rotate(-90)" font-size="3.7" textLength="7.4" lengthAdjust="spacingAndGlyphs" class="s">BC12</text>
<rect class="tb" x="405.05" y="189.75" width="4.4" height="8.0"/>
<text transform="translate(408.6 197.3) rotate(-90)" font-size="3.7" textLength="7.4" lengthAdjust="spacingAndGlyphs" class="s">BC12</text>
<rect class="tb" x="575.25" y="80.75" width="9.5" height="3.5"/>
<text x="575.7" y="83.6" font-size="3.0" textLength="8.9" lengthAdjust="spacingAndGlyphs" class="s">BC12</text>
<rect class="tb" x="575.25" y="85.25" width="9.5" height="3.5"/>
<text x="575.7" y="88.1" font-size="3.0" textLength="8.9" lengthAdjust="spacingAndGlyphs" class="s">BC12</text>
<rect x="584.75" y="105.75" width="18.5" height="13.2"/>
<text transform="translate(602.5 118.5) rotate(-90)" font-size="3.4" textLength="12.6" lengthAdjust="spacingAndGlyphs" class="s">L2001</text>
<rect x="572.25" y="128.25" width="15.5" height="18.0"/>
<text transform="translate(575.9 145.8) rotate(-90)" font-size="3.8" textLength="17.4" lengthAdjust="spacingAndGlyphs" class="s">LAUSB1</text>
<rect class="tb" x="543.25" y="147.25" width="4.0" height="8.0"/>
<text transform="translate(546.5 154.8) rotate(-90)" font-size="3.4" textLength="7.4" lengthAdjust="spacingAndGlyphs" class="s">BC1</text>
<rect class="tb" x="547.25" y="147.25" width="4.0" height="8.0"/>
<text transform="translate(550.5 154.8) rotate(-90)" font-size="3.4" textLength="7.4" lengthAdjust="spacingAndGlyphs" class="s">BC1</text>
<rect class="tb" x="557.75" y="147.25" width="4.0" height="8.0"/>
<text transform="translate(561.0 154.8) rotate(-90)" font-size="3.4" textLength="7.4" lengthAdjust="spacingAndGlyphs" class="s">BC1</text>
<polyline points="625.25,62.25 625.25,28.25 693.25,28.25 693.25,62.25"/>
<line x1="625.25" y1="75.25" x2="625.25" y2="85.25"/>
<line x1="693.25" y1="75.25" x2="693.25" y2="85.25"/>
<line x1="625.25" y1="85.25" x2="624.25" y2="87.25"/>
<line x1="693.25" y1="85.25" x2="694.25" y2="87.25"/>
<polyline points="624.25,98.25 624.25,103.25 694.25,103.25 694.25,98.25"/>
<text transform="translate(624.5 97.0)" font-size="6.8" text-anchor="start" class="t m">R_USB30</text>
<rect class="tb" x="699.25" y="78.25" width="9.0" height="4.0"/>
<text x="699.7" y="81.5" font-size="3.4" textLength="8.4" lengthAdjust="spacingAndGlyphs" class="s">BC12</text>
<rect class="tb" x="699.25" y="97.25" width="9.0" height="15.0"/>
<text transform="translate(705.3 111.8) rotate(-90)" font-size="4.2" textLength="14.4" lengthAdjust="spacingAndGlyphs" class="s">RAUSB1</text>
<rect x="617.95" y="105.95" width="15.3" height="18.0"/>
<text transform="translate(621.9 123.5) rotate(-90)" font-size="4.1" textLength="17.4" lengthAdjust="spacingAndGlyphs" class="s">RAUSB3</text>
<rect x="634.75" y="107.75" width="13.2" height="8.0"/>
<rect x="647.95" y="107.75" width="13.8" height="8.0"/>
<text x="635.7" y="110.7" font-size="2.8" textLength="11.9" lengthAdjust="spacingAndGlyphs" class="s">RAUSBV</text>
<text x="649.2" y="110.7" font-size="2.8" textLength="11.9" lengthAdjust="spacingAndGlyphs" class="s">RAUSB1</text>
<rect x="645.25" y="118.95" width="17.5" height="8.8"/>
<rect class="tb" x="645.75" y="119.25" width="3.8" height="8.3"/>
<text transform="translate(648.9 127.1) rotate(-90)" font-size="3.2" textLength="7.7" lengthAdjust="spacingAndGlyphs" class="s">BC12</text>
<rect class="tb" x="649.95" y="119.25" width="3.8" height="8.3"/>
<text transform="translate(653.1 127.1) rotate(-90)" font-size="3.2" textLength="7.7" lengthAdjust="spacingAndGlyphs" class="s">BC12</text>
<rect class="tb" x="654.25" y="119.25" width="3.8" height="8.3"/>
<text transform="translate(657.4 127.1) rotate(-90)" font-size="3.2" textLength="7.7" lengthAdjust="spacingAndGlyphs" class="s">BC12</text>
<rect class="tb" x="658.55" y="119.25" width="3.8" height="8.3"/>
<text transform="translate(661.7 127.1) rotate(-90)" font-size="3.2" textLength="7.7" lengthAdjust="spacingAndGlyphs" class="s">BC12</text>
<ellipse cx="695.1" cy="128.7" rx="13.3" ry="11.5"/>
<line x1="694.85" y1="117.45" x2="694.85" y2="139.95"/>
<line x1="685.17" y1="115.25" x2="685.17" y2="119.25"/>
<line x1="683.17" y1="117.25" x2="687.17" y2="117.25"/>
<text transform="translate(681.0 121.0)" font-size="5.7" text-anchor="start" class="t m">RAUSEC1</text>
<rect x="756.25" y="79.75" width="31.0" height="26.5"/>
<text transform="translate(765.0 106.0) rotate(-90) scale(1 1.13)" font-size="9.54" text-anchor="start" class="t">DVU1</text>
<rect x="773.25" y="27.25" width="151.0" height="38.0"/>
<rect x="809.25" y="0.25" width="79.0" height="27.0"/>
<text transform="translate(923.7 57.0) rotate(180)" font-size="9.64" text-anchor="start" class="t">VGA</text>
<rect class="tb" x="757.75" y="57.75" width="4.5" height="8.0"/>
<text transform="translate(761.4 65.3) rotate(-90)" font-size="3.8" textLength="7.4" lengthAdjust="spacingAndGlyphs" class="s">BC12</text>
<rect class="tb" x="762.75" y="57.75" width="4.5" height="8.0"/>
<text transform="translate(766.4 65.3) rotate(-90)" font-size="3.8" textLength="7.4" lengthAdjust="spacingAndGlyphs" class="s">BC12</text>
<rect class="tb" x="767.75" y="57.75" width="4.5" height="8.0"/>
<text transform="translate(771.4 65.3) rotate(-90)" font-size="3.8" textLength="7.4" lengthAdjust="spacingAndGlyphs" class="s">BC12</text>
<rect class="tb" x="749.75" y="65.25" width="7.0" height="12.0"/>
<text transform="translate(754.8 76.8) rotate(-90)" font-size="4.2" textLength="11.4" lengthAdjust="spacingAndGlyphs" class="s">CLMS</text>
<rect class="tb" x="757.75" y="67.25" width="4.3" height="9.0"/>
<text transform="translate(761.3 75.8) rotate(-90)" font-size="3.7" textLength="8.4" lengthAdjust="spacingAndGlyphs" class="s">BC12</text>
<rect class="tb" x="762.55" y="67.25" width="4.3" height="9.0"/>
<text transform="translate(766.1 75.8) rotate(-90)" font-size="3.7" textLength="8.4" lengthAdjust="spacingAndGlyphs" class="s">BC12</text>
<rect class="tb" x="767.25" y="67.25" width="4.3" height="9.0"/>
<text transform="translate(770.8 75.8) rotate(-90)" font-size="3.7" textLength="8.4" lengthAdjust="spacingAndGlyphs" class="s">BC12</text>
<rect class="tb" x="772.75" y="67.25" width="4.3" height="9.0"/>
<text transform="translate(776.3 75.8) rotate(-90)" font-size="3.7" textLength="8.4" lengthAdjust="spacingAndGlyphs" class="s">BC12</text>
<rect class="tb" x="778.25" y="67.25" width="4.3" height="9.0"/>
<text transform="translate(781.8 75.8) rotate(-90)" font-size="3.7" textLength="8.4" lengthAdjust="spacingAndGlyphs" class="s">BC12</text>
<rect class="tb" x="783.25" y="67.25" width="4.3" height="9.0"/>
<text transform="translate(786.8 75.8) rotate(-90)" font-size="3.7" textLength="8.4" lengthAdjust="spacingAndGlyphs" class="s">BC12</text>
<rect class="tb" x="795.25" y="68.55" width="9.5" height="3.6"/>
<text x="795.7" y="71.5" font-size="3.1" textLength="8.9" lengthAdjust="spacingAndGlyphs" class="s">DVR1</text>
<rect class="tb" x="795.25" y="74.25" width="9.5" height="3.6"/>
<text x="795.7" y="77.2" font-size="3.1" textLength="8.9" lengthAdjust="spacingAndGlyphs" class="s">DVR1</text>
<rect class="tb" x="795.25" y="80.25" width="9.5" height="3.6"/>
<text x="795.7" y="83.2" font-size="3.1" textLength="8.9" lengthAdjust="spacingAndGlyphs" class="s">DVR1</text>
<rect class="tb" x="806.25" y="68.55" width="9.5" height="3.6"/>
<text x="806.7" y="71.5" font-size="3.1" textLength="8.9" lengthAdjust="spacingAndGlyphs" class="s">DVR2</text>
<rect class="tb" x="806.25" y="74.25" width="9.5" height="3.6"/>
<text x="806.7" y="77.2" font-size="3.1" textLength="8.9" lengthAdjust="spacingAndGlyphs" class="s">DVR2</text>
<rect class="tb" x="806.25" y="80.25" width="9.5" height="3.6"/>
<text x="806.7" y="83.2" font-size="3.1" textLength="8.9" lengthAdjust="spacingAndGlyphs" class="s">DVR2</text>
<rect class="tb" x="733.25" y="85.95" width="9.7" height="3.5"/>
<text x="733.7" y="88.8" font-size="3.0" textLength="9.1" lengthAdjust="spacingAndGlyphs" class="s">DVC1</text>
<rect class="tb" x="733.25" y="90.25" width="9.7" height="3.5"/>
<text x="733.7" y="93.1" font-size="3.0" textLength="9.1" lengthAdjust="spacingAndGlyphs" class="s">DVC1</text>
<rect class="tb" x="733.25" y="94.25" width="9.7" height="3.5"/>
<text x="733.7" y="97.1" font-size="3.0" textLength="9.1" lengthAdjust="spacingAndGlyphs" class="s">DVC1</text>
<rect class="tb" x="733.25" y="98.05" width="9.7" height="3.5"/>
<text x="733.7" y="100.9" font-size="3.0" textLength="9.1" lengthAdjust="spacingAndGlyphs" class="s">DVC1</text>
<rect class="tb" x="744.75" y="83.25" width="9.5" height="3.5"/>
<text x="745.2" y="86.1" font-size="3.0" textLength="8.9" lengthAdjust="spacingAndGlyphs" class="s">DVC2</text>
<rect class="tb" x="744.75" y="91.75" width="9.5" height="3.5"/>
<text x="745.2" y="94.6" font-size="3.0" textLength="8.9" lengthAdjust="spacingAndGlyphs" class="s">DVC2</text>
<rect class="tb" x="744.75" y="96.75" width="9.5" height="3.5"/>
<text x="745.2" y="99.6" font-size="3.0" textLength="8.9" lengthAdjust="spacingAndGlyphs" class="s">DVC2</text>
<rect class="tb" x="744.75" y="100.75" width="9.5" height="3.5"/>
<text x="745.2" y="103.6" font-size="3.0" textLength="8.9" lengthAdjust="spacingAndGlyphs" class="s">DVC2</text>
<rect x="798.95" y="90.75" width="18.3" height="13.2"/>
<text transform="translate(812.8 91.0) rotate(90) scale(1 1.13)" font-size="5.3" text-anchor="start" class="t m">DVD1</text>
<rect class="tb" x="788.25" y="101.25" width="10.0" height="3.5"/>
<text x="788.7" y="104.1" font-size="3.0" textLength="9.4" lengthAdjust="spacingAndGlyphs" class="s">DVC9</text>
<rect x="787.75" y="106.25" width="13.5" height="4.5"/>
<text transform="translate(788.1 109.9)" font-size="4.2" text-anchor="start" class="t b">DVC10</text>
<rect class="tb" x="753.25" y="113.25" width="4.0" height="8.0"/>
<text transform="translate(756.5 120.8) rotate(-90)" font-size="3.4" textLength="7.4" lengthAdjust="spacingAndGlyphs" class="s">BC12</text>
<rect class="tb" x="757.75" y="113.25" width="4.0" height="8.0"/>
<text transform="translate(761.0 120.8) rotate(-90)" font-size="3.4" textLength="7.4" lengthAdjust="spacingAndGlyphs" class="s">BC12</text>
<rect class="tb" x="765.25" y="113.25" width="4.0" height="8.0"/>
<text transform="translate(768.5 120.8) rotate(-90)" font-size="3.4" textLength="7.4" lengthAdjust="spacingAndGlyphs" class="s">BC12</text>
<rect class="tb" x="772.25" y="113.25" width="4.0" height="8.0"/>
<text transform="translate(775.5 120.8) rotate(-90)" font-size="3.4" textLength="7.4" lengthAdjust="spacingAndGlyphs" class="s">BC12</text>
<rect x="767.75" y="171.25" width="28.5" height="32.7"/>
<text transform="translate(768.2 178.2)" font-size="6.9" text-anchor="start" class="t m">DC_DQ1</text>
<rect x="715.25" y="184.75" width="51.0" height="44.5"/>
<rect class="tb" x="880.25" y="66.25" width="10.0" height="4.0"/>
<text x="880.7" y="69.5" font-size="3.4" textLength="9.4" lengthAdjust="spacingAndGlyphs" class="s">DVR5</text>
<rect x="840.75" y="69.75" width="20.5" height="13.0"/>
<text transform="translate(841.1 73.5)" font-size="5" text-anchor="start" class="t m">DVESD2</text>
<rect x="840.75" y="90.75" width="20.5" height="13.5"/>
<text transform="translate(841.1 94.5)" font-size="5" text-anchor="start" class="t m">DVESD1</text>
<rect class="tb" x="818.25" y="67.85" width="9.5" height="3.6"/>
<text x="818.7" y="70.8" font-size="3.1" textLength="8.9" lengthAdjust="spacingAndGlyphs" class="s">DVR3</text>
<rect class="tb" x="818.25" y="73.85" width="9.5" height="3.6"/>
<text x="818.7" y="76.8" font-size="3.1" textLength="8.9" lengthAdjust="spacingAndGlyphs" class="s">DVR3</text>
<rect class="tb" x="818.25" y="79.85" width="9.5" height="3.6"/>
<text x="818.7" y="82.8" font-size="3.1" textLength="8.9" lengthAdjust="spacingAndGlyphs" class="s">DVR3</text>
<rect class="tb" x="830.25" y="68.55" width="9.0" height="3.6"/>
<text x="830.7" y="71.5" font-size="3.1" textLength="8.4" lengthAdjust="spacingAndGlyphs" class="s">DVR4</text>
<rect class="tb" x="830.25" y="74.25" width="9.0" height="3.6"/>
<text x="830.7" y="77.2" font-size="3.1" textLength="8.4" lengthAdjust="spacingAndGlyphs" class="s">DVR4</text>
<rect class="tb" x="830.25" y="80.25" width="9.0" height="3.6"/>
<text x="830.7" y="83.2" font-size="3.1" textLength="8.4" lengthAdjust="spacingAndGlyphs" class="s">DVR4</text>
<rect class="tb" x="818.25" y="91.25" width="9.5" height="3.4"/>
<text x="818.7" y="94.0" font-size="2.9" textLength="8.9" lengthAdjust="spacingAndGlyphs" class="s">DVR3</text>
<rect class="tb" x="818.25" y="96.25" width="9.5" height="3.4"/>
<text x="818.7" y="99.0" font-size="2.9" textLength="8.9" lengthAdjust="spacingAndGlyphs" class="s">DVR3</text>
<rect class="tb" x="818.25" y="101.25" width="9.5" height="3.4"/>
<text x="818.7" y="104.0" font-size="2.9" textLength="8.9" lengthAdjust="spacingAndGlyphs" class="s">DVR3</text>
<rect class="tb" x="830.25" y="91.25" width="9.0" height="3.4"/>
<text x="830.7" y="94.0" font-size="2.9" textLength="8.4" lengthAdjust="spacingAndGlyphs" class="s">DVR4</text>
<rect class="tb" x="830.25" y="96.25" width="9.0" height="3.4"/>
<text x="830.7" y="99.0" font-size="2.9" textLength="8.4" lengthAdjust="spacingAndGlyphs" class="s">DVR4</text>
<rect class="tb" x="830.25" y="101.25" width="9.0" height="3.4"/>
<text x="830.7" y="104.0" font-size="2.9" textLength="8.4" lengthAdjust="spacingAndGlyphs" class="s">DVR4</text>
<rect x="954.25" y="68.95" width="16.5" height="13.3"/>
<text transform="translate(969.9 78.1) rotate(180)" font-size="4.6" text-anchor="start" class="t m">KMDRX</text>
<rect class="tb" x="949.25" y="85.25" width="6.6" height="12.0"/>
<text transform="translate(954.1 96.8) rotate(-90)" font-size="4.2" textLength="11.4" lengthAdjust="spacingAndGlyphs" class="s">KMR1</text>
<rect class="tb" x="955.85" y="85.25" width="6.6" height="12.0"/>
<text transform="translate(960.7 96.8) rotate(-90)" font-size="4.2" textLength="11.4" lengthAdjust="spacingAndGlyphs" class="s">KMR2</text>
<rect class="tb" x="962.45" y="85.25" width="6.6" height="12.0"/>
<text transform="translate(967.3 96.8) rotate(-90)" font-size="4.2" textLength="11.4" lengthAdjust="spacingAndGlyphs" class="s">KMR3</text>
<rect class="tb" x="969.05" y="85.25" width="6.6" height="12.0"/>
<text transform="translate(973.9 96.8) rotate(-90)" font-size="4.2" textLength="11.4" lengthAdjust="spacingAndGlyphs" class="s">KMR4</text>
<rect x="953.75" y="99.75" width="17.5" height="13.5"/>
<text transform="translate(954.1 103.5)" font-size="5" text-anchor="start" class="t m">KMRN1</text>
<rect x="993.25" y="27.75" width="82.0" height="84.5"/>
<ellipse cx="1035.6" cy="77.7" rx="8.2" ry="7.2"/>
<text transform="translate(1065.8 28.7) rotate(90) scale(1 1.13)" font-size="9.64" text-anchor="start" class="t">KB_MS</text>
<rect class="tb" x="1021.95" y="113.25" width="10.0" height="3.0"/>
<text x="1022.4" y="115.7" font-size="2.5" textLength="9.4" lengthAdjust="spacingAndGlyphs" class="s">UBC1</text>
<rect class="tb" x="1028.25" y="118.25" width="9.0" height="15.0"/>
<text transform="translate(1034.3 132.8) rotate(-90)" font-size="4.2" textLength="14.4" lengthAdjust="spacingAndGlyphs" class="s">UMN1</text>
<ellipse cx="1053.6" cy="128.7" rx="13.3" ry="11.8"/>
<line x1="1053.35" y1="117.15" x2="1053.35" y2="140.25"/>
<text transform="translate(1040.5 124.5)" font-size="9.64" text-anchor="start" class="t">UEB2</text>
<ellipse cx="1055.1" cy="173.3" rx="27.5" ry="25.0"/>
<rect class="tb" x="144.25" y="184.75" width="6.0" height="13.5"/>
<text transform="translate(148.8 197.8) rotate(-90)" font-size="4.2" textLength="12.9" lengthAdjust="spacingAndGlyphs" class="s">CEC17</text>
<rect class="tb" x="151.25" y="184.75" width="3.8" height="9.3"/>
<text transform="translate(154.4 193.6) rotate(-90)" font-size="3.2" textLength="8.7" lengthAdjust="spacingAndGlyphs" class="s">BC12</text>
<rect class="tb" x="157.25" y="184.75" width="3.8" height="9.3"/>
<text transform="translate(160.4 193.6) rotate(-90)" font-size="3.2" textLength="8.7" lengthAdjust="spacingAndGlyphs" class="s">BC12</text>
<rect class="tb" x="162.75" y="184.75" width="3.8" height="9.3"/>
<text transform="translate(165.9 193.6) rotate(-90)" font-size="3.2" textLength="8.7" lengthAdjust="spacingAndGlyphs" class="s">BC12</text>
<rect class="tb" x="167.25" y="184.75" width="3.8" height="9.3"/>
<text transform="translate(170.4 193.6) rotate(-90)" font-size="3.2" textLength="8.7" lengthAdjust="spacingAndGlyphs" class="s">BC12</text>
<rect class="tb" x="172.75" y="184.75" width="3.8" height="9.3"/>
<text transform="translate(175.9 193.6) rotate(-90)" font-size="3.2" textLength="8.7" lengthAdjust="spacingAndGlyphs" class="s">BC12</text>
<rect class="tb" x="178.25" y="184.75" width="3.8" height="9.3"/>
<text transform="translate(181.4 193.6) rotate(-90)" font-size="3.2" textLength="8.7" lengthAdjust="spacingAndGlyphs" class="s">BC12</text>
<rect class="tb" x="184.25" y="184.75" width="3.8" height="9.3"/>
<text transform="translate(187.4 193.6) rotate(-90)" font-size="3.2" textLength="8.7" lengthAdjust="spacingAndGlyphs" class="s">BC12</text>
<rect class="tb" x="189.25" y="184.75" width="3.8" height="9.3"/>
<text transform="translate(192.4 193.6) rotate(-90)" font-size="3.2" textLength="8.7" lengthAdjust="spacingAndGlyphs" class="s">BC12</text>
<rect class="tb" x="194.75" y="184.75" width="3.8" height="9.3"/>
<text transform="translate(197.9 193.6) rotate(-90)" font-size="3.2" textLength="8.7" lengthAdjust="spacingAndGlyphs" class="s">BC12</text>
<rect class="tb" x="207.75" y="184.75" width="3.8" height="9.3"/>
<text transform="translate(210.9 193.6) rotate(-90)" font-size="3.2" textLength="8.7" lengthAdjust="spacingAndGlyphs" class="s">BC12</text>
<rect class="tb" x="223.25" y="184.75" width="3.8" height="9.3"/>
<text transform="translate(226.4 193.6) rotate(-90)" font-size="3.2" textLength="8.7" lengthAdjust="spacingAndGlyphs" class="s">BC12</text>
<rect class="tb" x="231.25" y="184.75" width="3.8" height="9.3"/>
<text transform="translate(234.4 193.6) rotate(-90)" font-size="3.2" textLength="8.7" lengthAdjust="spacingAndGlyphs" class="s">BC12</text>
<rect class="tb" x="236.25" y="184.75" width="3.8" height="9.3"/>
<text transform="translate(239.4 193.6) rotate(-90)" font-size="3.2" textLength="8.7" lengthAdjust="spacingAndGlyphs" class="s">BC12</text>
<rect x="112.75" y="185.75" width="18.5" height="18.2"/>
<text x="113.7" y="188.4" font-size="2.5" textLength="7.9" lengthAdjust="spacingAndGlyphs" class="s">CRN5</text>
<text x="122.7" y="188.4" font-size="2.5" textLength="7.9" lengthAdjust="spacingAndGlyphs" class="s">CRN6</text>
<text transform="translate(123.5 190.0) rotate(90) scale(1 1.1)" font-size="7.51" text-anchor="start" class="t">CQ3</text>
<rect class="tb" x="132.75" y="188.25" width="3.5" height="9.0"/>
<text transform="translate(135.6 196.8) rotate(-90)" font-size="3.0" textLength="8.4" lengthAdjust="spacingAndGlyphs" class="s">BC1</text>
<rect x="16.25" y="212.25" width="27.0" height="110.0"/>
<text transform="translate(26.0 321.0) rotate(-90) scale(1 1.13)" font-size="9.74" text-anchor="start" class="t">TPM</text>
<rect class="tb" x="45.25" y="224.75" width="9.0" height="3.5"/>
<text x="45.7" y="227.6" font-size="3.0" textLength="8.4" lengthAdjust="spacingAndGlyphs" class="s">TR12</text>
<rect class="tb" x="45.25" y="241.75" width="9.0" height="3.5"/>
<text x="45.7" y="244.6" font-size="3.0" textLength="8.4" lengthAdjust="spacingAndGlyphs" class="s">TR12</text>
<rect class="tb" x="45.25" y="269.75" width="9.0" height="3.5"/>
<text x="45.7" y="272.6" font-size="3.0" textLength="8.4" lengthAdjust="spacingAndGlyphs" class="s">TR12</text>
<rect class="tb" x="45.25" y="308.75" width="9.0" height="3.5"/>
<text x="45.7" y="311.6" font-size="3.0" textLength="8.4" lengthAdjust="spacingAndGlyphs" class="s">TR12</text>
<line x1="84.75" y1="214.25" x2="84.75" y2="323.25" stroke-dasharray="2.4 1.8"/>
<line x1="84.75" y1="214.25" x2="92.25" y2="214.25" stroke-dasharray="2.4 1.8"/>
<line x1="84.75" y1="323.25" x2="92.25" y2="323.25" stroke-dasharray="2.4 1.8"/>
<rect x="92.25" y="214.25" width="36.7" height="109.0"/>
<text transform="translate(123.5 214.8) rotate(90) scale(1 1.13)" font-size="5.2" text-anchor="start" class="t m">PCIEX1_2</text>
<rect class="tb" x="82.25" y="228.25" width="9.7" height="3.5"/>
<text x="82.7" y="231.1" font-size="3.0" textLength="9.1" lengthAdjust="spacingAndGlyphs" class="s">PBC1</text>
<rect class="tb" x="82.25" y="256.75" width="9.7" height="3.5"/>
<text x="82.7" y="259.6" font-size="3.0" textLength="9.1" lengthAdjust="spacingAndGlyphs" class="s">PBC1</text>
<rect class="tb" x="130.25" y="272.25" width="9.5" height="3.6"/>
<text x="130.7" y="275.2" font-size="3.1" textLength="8.9" lengthAdjust="spacingAndGlyphs" class="s">PBC2</text>
<rect class="tb" x="130.25" y="306.25" width="9.5" height="3.6"/>
<text x="130.7" y="309.2" font-size="3.1" textLength="8.9" lengthAdjust="spacingAndGlyphs" class="s">PBC2</text>
<rect class="tb" x="130.25" y="311.25" width="9.5" height="3.6"/>
<text x="130.7" y="314.2" font-size="3.1" textLength="8.9" lengthAdjust="spacingAndGlyphs" class="s">PBC2</text>
<rect x="130.95" y="232.75" width="11.6" height="10.0"/>
<text transform="translate(142.0 238.3) rotate(180)" font-size="5.2" text-anchor="start" class="t m">RN4</text>
<rect x="142.55" y="232.75" width="11.6" height="10.0"/>
<text transform="translate(153.6 238.3) rotate(180)" font-size="5.2" text-anchor="start" class="t m">RN5</text>
<rect x="154.15" y="232.75" width="11.6" height="10.0"/>
<text transform="translate(165.2 238.3) rotate(180)" font-size="5.2" text-anchor="start" class="t m">RN3</text>
<rect x="165.75" y="232.75" width="11.6" height="10.0"/>
<text transform="translate(176.8 238.3) rotate(180)" font-size="5.2" text-anchor="start" class="t m">RN6</text>
<rect x="177.35" y="232.75" width="11.6" height="10.0"/>
<text transform="translate(188.4 238.3) rotate(180)" font-size="5.2" text-anchor="start" class="t m">RN2</text>
<rect x="156.25" y="244.75" width="18.0" height="12.5"/>
<text transform="translate(166.3 244.8) rotate(90) scale(1 1.55)" font-size="5.9" text-anchor="start" class="t m">CQ9</text>
<rect x="143.25" y="249.75" width="10.0" height="7.5"/>
<text x="144.0" y="252.7" font-size="2.8" textLength="8.8" lengthAdjust="spacingAndGlyphs" class="s">CBC1</text>
<text x="146.7" y="256.3" font-size="2.9" textLength="6.1" lengthAdjust="spacingAndGlyphs" class="s">CR1</text>
<rect class="tb" x="173.25" y="208.95" width="10.0" height="3.8"/>
<text x="173.7" y="212.1" font-size="3.2" textLength="9.4" lengthAdjust="spacingAndGlyphs" class="s">BRN1</text>
<line x1="182.75" y1="214.25" x2="182.75" y2="323.25" stroke-dasharray="2.4 1.8"/>
<line x1="182.75" y1="214.25" x2="190.25" y2="214.25" stroke-dasharray="2.4 1.8"/>
<line x1="182.75" y1="323.25" x2="190.25" y2="323.25" stroke-dasharray="2.4 1.8"/>
<rect x="190.25" y="214.25" width="36.0" height="109.0"/>
<text transform="translate(221.0 214.8) rotate(90) scale(1 1.13)" font-size="5.2" text-anchor="start" class="t m">PCIEX1_1</text>
<rect class="tb" x="178.95" y="227.25" width="9.3" height="3.5"/>
<text x="179.4" y="230.1" font-size="3.0" textLength="8.7" lengthAdjust="spacingAndGlyphs" class="s">PBC3</text>
<rect class="tb" x="178.95" y="254.25" width="9.3" height="3.5"/>
<text x="179.4" y="257.1" font-size="3.0" textLength="8.7" lengthAdjust="spacingAndGlyphs" class="s">PBC3</text>
<rect class="tb" x="178.95" y="270.75" width="9.3" height="3.5"/>
<text x="179.4" y="273.6" font-size="3.0" textLength="8.7" lengthAdjust="spacingAndGlyphs" class="s">PBC3</text>
<rect class="tb" x="227.25" y="313.95" width="9.0" height="3.6"/>
<text x="227.7" y="316.9" font-size="3.1" textLength="8.4" lengthAdjust="spacingAndGlyphs" class="s">PBC4</text>
<rect class="tb" x="227.25" y="318.55" width="9.0" height="3.6"/>
<text x="227.7" y="321.5" font-size="3.1" textLength="8.4" lengthAdjust="spacingAndGlyphs" class="s">PBC4</text>
<ellipse cx="254.6" cy="227.2" rx="21.0" ry="17.5"/>
<line x1="254.35" y1="209.95" x2="254.35" y2="244.45"/>
<text transform="translate(233.7 216.7)" font-size="9.54" text-anchor="start" class="t">PAEC1</text>
<ellipse cx="254.6" cy="265.7" rx="21.0" ry="17.5"/>
<line x1="254.35" y1="248.45" x2="254.35" y2="282.95"/>
<text transform="translate(233.7 255.0)" font-size="9.54" text-anchor="start" class="t">PAEC2</text>
<rect x="58.95" y="293.25" width="20.8" height="17.0"/>
<text transform="translate(74.5 302.7) rotate(180)" font-size="8.32" text-anchor="start" class="t">QD1</text>
<text transform="translate(78.9 309.8) rotate(-90)" font-size="3.8" textLength="16.4" lengthAdjust="spacingAndGlyphs" class="s">QBC1</text>
<path d="M83.5 329.5 H101 L104.5 326.5 H121 L124.5 329.5 H140.5 V364.5 H124.5 L121 367.5 H104.5 L101 364.5 H83.5 Z" />
<text transform="translate(94.3 366.0) rotate(-90) scale(1 1.13)" font-size="9.64" text-anchor="start" class="t">M_BIOS</text>
<rect class="tb" x="73.25" y="329.75" width="9.0" height="3.5"/>
<text x="73.7" y="332.6" font-size="3.0" textLength="8.4" lengthAdjust="spacingAndGlyphs" class="s">MBC1</text>
<rect class="tb" x="73.25" y="334.25" width="9.0" height="3.5"/>
<text x="73.7" y="337.1" font-size="3.0" textLength="8.4" lengthAdjust="spacingAndGlyphs" class="s">MBC1</text>
<rect class="tb" x="73.25" y="338.95" width="9.0" height="3.5"/>
<text x="73.7" y="341.8" font-size="3.0" textLength="8.4" lengthAdjust="spacingAndGlyphs" class="s">MBC1</text>
<rect class="tb" x="73.25" y="343.75" width="9.0" height="3.5"/>
<text x="73.7" y="346.6" font-size="3.0" textLength="8.4" lengthAdjust="spacingAndGlyphs" class="s">MBC1</text>
<rect class="tb" x="73.25" y="348.25" width="9.0" height="3.5"/>
<text x="73.7" y="351.1" font-size="3.0" textLength="8.4" lengthAdjust="spacingAndGlyphs" class="s">MBC1</text>
<rect class="tb" x="73.25" y="352.75" width="9.0" height="3.5"/>
<text x="73.7" y="355.6" font-size="3.0" textLength="8.4" lengthAdjust="spacingAndGlyphs" class="s">MBC1</text>
<rect class="tb" x="73.25" y="357.25" width="9.0" height="3.5"/>
<text x="73.7" y="360.1" font-size="3.0" textLength="8.4" lengthAdjust="spacingAndGlyphs" class="s">MBC1</text>
<rect class="tb" x="141.25" y="337.25" width="9.5" height="3.5"/>
<text x="141.7" y="340.1" font-size="3.0" textLength="8.9" lengthAdjust="spacingAndGlyphs" class="s">MBR1</text>
<rect class="tb" x="141.25" y="345.25" width="9.5" height="3.5"/>
<text x="141.7" y="348.1" font-size="3.0" textLength="8.9" lengthAdjust="spacingAndGlyphs" class="s">MBR1</text>
<rect class="tb" x="141.25" y="354.25" width="9.5" height="3.5"/>
<text x="141.7" y="357.1" font-size="3.0" textLength="8.9" lengthAdjust="spacingAndGlyphs" class="s">MBR1</text>
<rect class="tb" x="152.75" y="336.25" width="6.5" height="8.0"/>
<text transform="translate(157.6 343.8) rotate(-90)" font-size="4.2" textLength="7.4" lengthAdjust="spacingAndGlyphs" class="s">BC1</text>
<rect class="tb" x="159.45" y="336.25" width="6.5" height="8.0"/>
<text transform="translate(164.3 343.8) rotate(-90)" font-size="4.2" textLength="7.4" lengthAdjust="spacingAndGlyphs" class="s">BC1</text>
<rect class="tb" x="152.75" y="344.75" width="6.5" height="8.0"/>
<text transform="translate(157.6 352.3) rotate(-90)" font-size="4.2" textLength="7.4" lengthAdjust="spacingAndGlyphs" class="s">BC1</text>
<rect class="tb" x="159.45" y="344.75" width="6.5" height="8.0"/>
<text transform="translate(164.3 352.3) rotate(-90)" font-size="4.2" textLength="7.4" lengthAdjust="spacingAndGlyphs" class="s">BC1</text>
<rect x="167.05" y="320.45" width="15.8" height="16.2"/>
<text transform="translate(167.4 324.8)" font-size="5.8" text-anchor="start" class="t m">NQ19</text>
<rect x="167.05" y="356.95" width="15.8" height="15.8"/>
<text transform="translate(167.4 361.3)" font-size="5.8" text-anchor="start" class="t m">NQ18</text>
<rect x="151.65" y="356.95" width="15.4" height="15.8"/>
<text transform="translate(152.3 365.6)" font-size="9.54" text-anchor="start" class="t">D4</text>
<path d="M200.7 323.5 A55.3 50.8 0 0 0 202.5 418.5 M240.7 418.5 A55.3 50.8 0 0 0 240.4 323.5" />
<clipPath id="cres"><path d="M174.5 350.8 Q190 340 207 336.6 V349.2 H236.7 V336.6 Q250 340 259.9 351.6 H271.4 A55.3 50.8 0 0 0 240.4 323.5 H200.7 A55.3 50.8 0 0 0 174.5 350.8 Z"/></clipPath>
<path d="M174.5 350.8 Q190 340 207 336.6 V349.2 H236.7 V336.6 Q250 340 259.9 351.6 H271.4" />
<g clip-path="url(#cres)"><line x1="95.0" y1="318" x2="135.0" y2="358"/><line x1="101.5" y1="318" x2="141.5" y2="358"/><line x1="108.0" y1="318" x2="148.0" y2="358"/><line x1="114.5" y1="318" x2="154.5" y2="358"/><line x1="121.0" y1="318" x2="161.0" y2="358"/><line x1="127.5" y1="318" x2="167.5" y2="358"/><line x1="134.0" y1="318" x2="174.0" y2="358"/><line x1="140.5" y1="318" x2="180.5" y2="358"/><line x1="147.0" y1="318" x2="187.0" y2="358"/><line x1="153.5" y1="318" x2="193.5" y2="358"/><line x1="160.0" y1="318" x2="200.0" y2="358"/><line x1="166.5" y1="318" x2="206.5" y2="358"/><line x1="173.0" y1="318" x2="213.0" y2="358"/><line x1="179.5" y1="318" x2="219.5" y2="358"/><line x1="186.0" y1="318" x2="226.0" y2="358"/><line x1="192.5" y1="318" x2="232.5" y2="358"/><line x1="199.0" y1="318" x2="239.0" y2="358"/><line x1="205.5" y1="318" x2="245.5" y2="358"/><line x1="212.0" y1="318" x2="252.0" y2="358"/><line x1="218.5" y1="318" x2="258.5" y2="358"/><line x1="225.0" y1="318" x2="265.0" y2="358"/><line x1="231.5" y1="318" x2="271.5" y2="358"/><line x1="238.0" y1="318" x2="278.0" y2="358"/><line x1="244.5" y1="318" x2="284.5" y2="358"/><line x1="251.0" y1="318" x2="291.0" y2="358"/><line x1="257.5" y1="318" x2="297.5" y2="358"/><line x1="264.0" y1="318" x2="304.0" y2="358"/><line x1="270.5" y1="318" x2="310.5" y2="358"/><line x1="277.0" y1="318" x2="317.0" y2="358"/><line x1="283.5" y1="318" x2="323.5" y2="358"/><line x1="290.0" y1="318" x2="330.0" y2="358"/><line x1="296.5" y1="318" x2="336.5" y2="358"/><line x1="303.0" y1="318" x2="343.0" y2="358"/><line x1="309.5" y1="318" x2="349.5" y2="358"/><line x1="316.0" y1="318" x2="356.0" y2="358"/><line x1="322.5" y1="318" x2="362.5" y2="358"/><line x1="329.0" y1="318" x2="369.0" y2="358"/><line x1="335.5" y1="318" x2="375.5" y2="358"/><line x1="342.0" y1="318" x2="382.0" y2="358"/><line x1="348.5" y1="318" x2="388.5" y2="358"/></g>
<clipPath id="clipb"><path d="M210.5 408.5 H232.5 V418.5 H240.7 V429.5 H202.5 V418.5 H210.5 Z"/></clipPath>
<path d="M210.5 408.5 H232.5 V418.5 H240.7 V429.5 H202.5 V418.5 H210.5 Z" />
<g clip-path="url(#clipb)"><line x1="115.0" y1="400" x2="155.0" y2="440"/><line x1="121.5" y1="400" x2="161.5" y2="440"/><line x1="128.0" y1="400" x2="168.0" y2="440"/><line x1="134.5" y1="400" x2="174.5" y2="440"/><line x1="141.0" y1="400" x2="181.0" y2="440"/><line x1="147.5" y1="400" x2="187.5" y2="440"/><line x1="154.0" y1="400" x2="194.0" y2="440"/><line x1="160.5" y1="400" x2="200.5" y2="440"/><line x1="167.0" y1="400" x2="207.0" y2="440"/><line x1="173.5" y1="400" x2="213.5" y2="440"/><line x1="180.0" y1="400" x2="220.0" y2="440"/><line x1="186.5" y1="400" x2="226.5" y2="440"/><line x1="193.0" y1="400" x2="233.0" y2="440"/><line x1="199.5" y1="400" x2="239.5" y2="440"/><line x1="206.0" y1="400" x2="246.0" y2="440"/><line x1="212.5" y1="400" x2="252.5" y2="440"/><line x1="219.0" y1="400" x2="259.0" y2="440"/><line x1="225.5" y1="400" x2="265.5" y2="440"/><line x1="232.0" y1="400" x2="272.0" y2="440"/><line x1="238.5" y1="400" x2="278.5" y2="440"/><line x1="245.0" y1="400" x2="285.0" y2="440"/><line x1="251.5" y1="400" x2="291.5" y2="440"/><line x1="258.0" y1="400" x2="298.0" y2="440"/><line x1="264.5" y1="400" x2="304.5" y2="440"/><line x1="271.0" y1="400" x2="311.0" y2="440"/><line x1="277.5" y1="400" x2="317.5" y2="440"/><line x1="284.0" y1="400" x2="324.0" y2="440"/><line x1="290.5" y1="400" x2="330.5" y2="440"/><line x1="297.0" y1="400" x2="337.0" y2="440"/><line x1="303.5" y1="400" x2="343.5" y2="440"/></g>
<rect class="tb" x="218.75" y="430.85" width="9.5" height="3.9"/>
<text x="219.2" y="434.0" font-size="3.3" textLength="8.9" lengthAdjust="spacingAndGlyphs" class="s">NBT1</text>
<rect x="16.25" y="357.25" width="25.0" height="54.0"/>
<rect x="28.25" y="400.95" width="13.0" height="10.3"/>
<text transform="translate(22.6 410.8) rotate(-90)" font-size="3.0" textLength="9.4" lengthAdjust="spacingAndGlyphs" class="s">FU1</text>
<line x1="280.75" y1="214.25" x2="280.75" y2="593.75" stroke-dasharray="2.4 1.8"/>
<line x1="280.75" y1="214.25" x2="288.25" y2="214.25" stroke-dasharray="2.4 1.8"/>
<line x1="280.75" y1="593.75" x2="288.25" y2="593.75" stroke-dasharray="2.4 1.8"/>
<rect x="288.25" y="214.25" width="35.7" height="379.5"/>
<text transform="translate(318.2 214.8) rotate(90) scale(1 1.13)" font-size="5.4" text-anchor="start" class="t m">PCIEX16</text>
<rect x="275.25" y="218.25" width="11.5" height="10.0"/>
<rect x="275.25" y="228.25" width="11.5" height="10.7"/>
<text transform="translate(285.9 227.8) rotate(-90)" font-size="3.8" textLength="9.4" lengthAdjust="spacingAndGlyphs" class="s">PAR1</text>
<text transform="translate(285.9 238.5) rotate(-90)" font-size="3.8" textLength="10.1" lengthAdjust="spacingAndGlyphs" class="s">PAR2</text>
<rect class="tb" x="276.75" y="243.95" width="9.5" height="3.5"/>
<text x="277.2" y="246.8" font-size="3.0" textLength="8.9" lengthAdjust="spacingAndGlyphs" class="s">PAR3</text>
<rect class="tb" x="276.75" y="248.25" width="9.5" height="3.5"/>
<text x="277.2" y="251.1" font-size="3.0" textLength="8.9" lengthAdjust="spacingAndGlyphs" class="s">PAR3</text>
<rect class="tb" x="276.75" y="254.25" width="9.5" height="3.5"/>
<text x="277.2" y="257.1" font-size="3.0" textLength="8.9" lengthAdjust="spacingAndGlyphs" class="s">PAR3</text>
<rect class="tb" x="276.75" y="268.25" width="9.5" height="3.5"/>
<text x="277.2" y="271.1" font-size="3.0" textLength="8.9" lengthAdjust="spacingAndGlyphs" class="s">PAR3</text>
<rect class="tb" x="325.75" y="236.25" width="9.5" height="3.6"/>
<text x="326.2" y="239.2" font-size="3.1" textLength="8.9" lengthAdjust="spacingAndGlyphs" class="s">PBC5</text>
<rect class="tb" x="325.75" y="254.25" width="9.5" height="3.6"/>
<text x="326.2" y="257.2" font-size="3.1" textLength="8.9" lengthAdjust="spacingAndGlyphs" class="s">PBC5</text>
<rect class="tb" x="325.75" y="260.25" width="9.5" height="3.6"/>
<text x="326.2" y="263.2" font-size="3.1" textLength="8.9" lengthAdjust="spacingAndGlyphs" class="s">PBC5</text>
<rect class="tb" x="325.75" y="299.25" width="9.5" height="3.6"/>
<text x="326.2" y="302.2" font-size="3.1" textLength="8.9" lengthAdjust="spacingAndGlyphs" class="s">PBC5</text>
<rect class="tb" x="325.75" y="303.75" width="9.5" height="3.6"/>
<text x="326.2" y="306.7" font-size="3.1" textLength="8.9" lengthAdjust="spacingAndGlyphs" class="s">PBC5</text>
<rect class="tb" x="325.75" y="308.25" width="9.5" height="3.6"/>
<text x="326.2" y="311.2" font-size="3.1" textLength="8.9" lengthAdjust="spacingAndGlyphs" class="s">PBC5</text>
<rect class="tb" x="325.75" y="312.55" width="9.5" height="3.6"/>
<text x="326.2" y="315.5" font-size="3.1" textLength="8.9" lengthAdjust="spacingAndGlyphs" class="s">PBC5</text>
<rect class="tb" x="325.75" y="325.25" width="9.5" height="3.6"/>
<text x="326.2" y="328.2" font-size="3.1" textLength="8.9" lengthAdjust="spacingAndGlyphs" class="s">PBC5</text>
<rect class="tb" x="325.75" y="329.75" width="9.5" height="3.6"/>
<text x="326.2" y="332.7" font-size="3.1" textLength="8.9" lengthAdjust="spacingAndGlyphs" class="s">PBC5</text>
<rect class="tb" x="325.75" y="342.25" width="9.5" height="3.6"/>
<text x="326.2" y="345.2" font-size="3.1" textLength="8.9" lengthAdjust="spacingAndGlyphs" class="s">PBC5</text>
<rect class="tb" x="325.75" y="346.95" width="9.5" height="3.6"/>
<text x="326.2" y="349.9" font-size="3.1" textLength="8.9" lengthAdjust="spacingAndGlyphs" class="s">PBC5</text>
<rect class="tb" x="325.75" y="367.75" width="9.5" height="3.6"/>
<text x="326.2" y="370.7" font-size="3.1" textLength="8.9" lengthAdjust="spacingAndGlyphs" class="s">PBC6</text>
<rect class="tb" x="325.75" y="372.05" width="9.5" height="3.6"/>
<text x="326.2" y="375.0" font-size="3.1" textLength="8.9" lengthAdjust="spacingAndGlyphs" class="s">PBC6</text>
<rect class="tb" x="325.75" y="385.25" width="9.5" height="3.6"/>
<text x="326.2" y="388.2" font-size="3.1" textLength="8.9" lengthAdjust="spacingAndGlyphs" class="s">PBC6</text>
<rect class="tb" x="325.75" y="389.55" width="9.5" height="3.6"/>
<text x="326.2" y="392.5" font-size="3.1" textLength="8.9" lengthAdjust="spacingAndGlyphs" class="s">PBC6</text>
<rect class="tb" x="325.75" y="402.75" width="9.5" height="3.6"/>
<text x="326.2" y="405.7" font-size="3.1" textLength="8.9" lengthAdjust="spacingAndGlyphs" class="s">PBC6</text>
<rect class="tb" x="325.75" y="407.05" width="9.5" height="3.6"/>
<text x="326.2" y="410.0" font-size="3.1" textLength="8.9" lengthAdjust="spacingAndGlyphs" class="s">PBC6</text>
<rect class="tb" x="325.75" y="419.75" width="9.5" height="3.6"/>
<text x="326.2" y="422.7" font-size="3.1" textLength="8.9" lengthAdjust="spacingAndGlyphs" class="s">PBC6</text>
<rect class="tb" x="325.75" y="424.05" width="9.5" height="3.6"/>
<text x="326.2" y="427.0" font-size="3.1" textLength="8.9" lengthAdjust="spacingAndGlyphs" class="s">PBC6</text>
<rect class="tb" x="325.75" y="444.25" width="9.5" height="3.6"/>
<text x="326.2" y="447.2" font-size="3.1" textLength="8.9" lengthAdjust="spacingAndGlyphs" class="s">PBC6</text>
<rect class="tb" x="325.75" y="448.55" width="9.5" height="3.6"/>
<text x="326.2" y="451.5" font-size="3.1" textLength="8.9" lengthAdjust="spacingAndGlyphs" class="s">PBC6</text>
<rect class="tb" x="325.75" y="461.25" width="9.5" height="3.6"/>
<text x="326.2" y="464.2" font-size="3.1" textLength="8.9" lengthAdjust="spacingAndGlyphs" class="s">PBC6</text>
<rect class="tb" x="325.75" y="465.55" width="9.5" height="3.6"/>
<text x="326.2" y="468.5" font-size="3.1" textLength="8.9" lengthAdjust="spacingAndGlyphs" class="s">PBC6</text>
<rect class="tb" x="325.75" y="478.25" width="9.5" height="3.6"/>
<text x="326.2" y="481.2" font-size="3.1" textLength="8.9" lengthAdjust="spacingAndGlyphs" class="s">PBC6</text>
<rect class="tb" x="325.75" y="482.55" width="9.5" height="3.6"/>
<text x="326.2" y="485.5" font-size="3.1" textLength="8.9" lengthAdjust="spacingAndGlyphs" class="s">PBC6</text>
<rect class="tb" x="325.75" y="495.25" width="9.5" height="3.6"/>
<text x="326.2" y="498.2" font-size="3.1" textLength="8.9" lengthAdjust="spacingAndGlyphs" class="s">PBC6</text>
<rect class="tb" x="325.75" y="499.55" width="9.5" height="3.6"/>
<text x="326.2" y="502.5" font-size="3.1" textLength="8.9" lengthAdjust="spacingAndGlyphs" class="s">PBC6</text>
<rect class="tb" x="325.75" y="512.25" width="9.5" height="3.6"/>
<text x="326.2" y="515.2" font-size="3.1" textLength="8.9" lengthAdjust="spacingAndGlyphs" class="s">PBC6</text>
<rect class="tb" x="325.75" y="516.55" width="9.5" height="3.6"/>
<text x="326.2" y="519.5" font-size="3.1" textLength="8.9" lengthAdjust="spacingAndGlyphs" class="s">PBC6</text>
<rect class="tb" x="325.75" y="529.25" width="9.5" height="3.6"/>
<text x="326.2" y="532.2" font-size="3.1" textLength="8.9" lengthAdjust="spacingAndGlyphs" class="s">PBC6</text>
<rect class="tb" x="325.75" y="533.55" width="9.5" height="3.6"/>
<text x="326.2" y="536.5" font-size="3.1" textLength="8.9" lengthAdjust="spacingAndGlyphs" class="s">PBC6</text>
<rect class="tb" x="325.75" y="544.25" width="9.5" height="3.6"/>
<text x="326.2" y="547.2" font-size="3.1" textLength="8.9" lengthAdjust="spacingAndGlyphs" class="s">PBC6</text>
<rect class="tb" x="325.75" y="548.55" width="9.5" height="3.6"/>
<text x="326.2" y="551.5" font-size="3.1" textLength="8.9" lengthAdjust="spacingAndGlyphs" class="s">PBC6</text>
<rect class="tb" x="325.25" y="560.25" width="10.0" height="3.5"/>
<text x="325.7" y="563.1" font-size="3.0" textLength="9.4" lengthAdjust="spacingAndGlyphs" class="s">PBC7</text>
<line x1="377.75" y1="223.95" x2="431.75" y2="223.95" stroke-dasharray="2.4 1.8"/>
<line x1="377.75" y1="223.95" x2="377.75" y2="227.25" stroke-dasharray="2.4 1.8"/>
<line x1="431.75" y1="223.95" x2="431.75" y2="227.25" stroke-dasharray="2.4 1.8"/>
<rect x="377.75" y="227.25" width="54.0" height="27.3"/>
<polyline points="385.55,254.55 385.55,251.25 423.65,251.25 423.65,254.55"/>
<text transform="translate(431.3 245.6) rotate(180)" font-size="9.74" text-anchor="start" class="t">SYS_FAN</text>
<rect class="tb" x="432.25" y="228.25" width="9.7" height="3.6"/>
<text x="432.7" y="231.2" font-size="3.1" textLength="9.1" lengthAdjust="spacingAndGlyphs" class="s">FAR1</text>
<rect class="tb" x="432.25" y="232.75" width="9.7" height="3.6"/>
<text x="432.7" y="235.7" font-size="3.1" textLength="9.1" lengthAdjust="spacingAndGlyphs" class="s">FAR1</text>
<rect class="tb" x="432.25" y="237.25" width="9.7" height="3.6"/>
<text x="432.7" y="240.2" font-size="3.1" textLength="9.1" lengthAdjust="spacingAndGlyphs" class="s">FAR1</text>
<rect class="tb" x="432.25" y="241.55" width="9.7" height="3.6"/>
<text x="432.7" y="244.5" font-size="3.1" textLength="9.1" lengthAdjust="spacingAndGlyphs" class="s">FAR1</text>
<path d="M392.5 256.2 H377.5 Q373.5 256.2 373.5 260 Q373.5 264.2 377.5 264.2 H392.5 Z" />
<text transform="translate(391.7 257.4) rotate(180) scale(1 1.2)" font-size="6.3" text-anchor="start" class="t m">FAC2</text>
<rect x="377.25" y="265.95" width="14.5" height="5.3" rx="1.5" ry="1.5"/>
<text transform="translate(391.0 267.4) rotate(180)" font-size="4.4" text-anchor="start" class="t b">FAC3</text>
<rect x="393.25" y="257.25" width="37.0" height="21.7"/>
<text transform="translate(423.6 258.0) rotate(90) scale(1 1.13)" font-size="6.4" text-anchor="start" class="t m">FAQU1</text>
<rect class="tb" x="389.25" y="280.75" width="4.3" height="8.2"/>
<text transform="translate(392.8 288.5) rotate(-90)" font-size="3.7" textLength="7.6" lengthAdjust="spacingAndGlyphs" class="s">FBC1</text>
<rect class="tb" x="394.25" y="280.75" width="4.3" height="8.2"/>
<text transform="translate(397.8 288.5) rotate(-90)" font-size="3.7" textLength="7.6" lengthAdjust="spacingAndGlyphs" class="s">FBC1</text>
<rect class="tb" x="399.25" y="280.75" width="4.3" height="8.2"/>
<text transform="translate(402.8 288.5) rotate(-90)" font-size="3.7" textLength="7.6" lengthAdjust="spacingAndGlyphs" class="s">FBC1</text>
<rect class="tb" x="404.55" y="280.75" width="4.3" height="8.2"/>
<text transform="translate(408.1 288.5) rotate(-90)" font-size="3.7" textLength="7.6" lengthAdjust="spacingAndGlyphs" class="s">FBC1</text>
<rect class="tb" x="459.25" y="252.75" width="4.5" height="8.0"/>
<text transform="translate(462.9 260.3) rotate(-90)" font-size="3.8" textLength="7.4" lengthAdjust="spacingAndGlyphs" class="s">DBC1</text>
<rect class="tb" x="464.75" y="252.75" width="4.5" height="8.0"/>
<text transform="translate(468.4 260.3) rotate(-90)" font-size="3.8" textLength="7.4" lengthAdjust="spacingAndGlyphs" class="s">DBC1</text>
<rect class="tb" x="470.25" y="252.75" width="4.5" height="8.0"/>
<text transform="translate(473.9 260.3) rotate(-90)" font-size="3.8" textLength="7.4" lengthAdjust="spacingAndGlyphs" class="s">DBC1</text>
<rect class="tb" x="483.25" y="252.75" width="4.3" height="8.0"/>
<text transform="translate(486.8 260.3) rotate(-90)" font-size="3.7" textLength="7.4" lengthAdjust="spacingAndGlyphs" class="s">DBC2</text>
<rect class="tb" x="487.95" y="252.75" width="4.3" height="8.0"/>
<text transform="translate(491.5 260.3) rotate(-90)" font-size="3.7" textLength="7.4" lengthAdjust="spacingAndGlyphs" class="s">DBC2</text>
<rect x="451.75" y="261.25" width="19.0" height="14.0"/>
<text transform="translate(465.8 261.5) rotate(90) scale(1 1.13)" font-size="5" text-anchor="start" class="t m">DCQ4</text>
<rect x="470.75" y="261.25" width="19.0" height="14.0"/>
<text transform="translate(484.8 261.5) rotate(90) scale(1 1.13)" font-size="5" text-anchor="start" class="t m">DCQ3</text>
<rect x="490.25" y="261.25" width="19.0" height="14.0"/>
<text transform="translate(504.3 261.5) rotate(90) scale(1 1.13)" font-size="5" text-anchor="start" class="t m">DCQ2</text>
<rect class="tb" x="514.25" y="257.25" width="3.8" height="9.0"/>
<text transform="translate(517.4 265.8) rotate(-90)" font-size="3.2" textLength="8.4" lengthAdjust="spacingAndGlyphs" class="s">DBC3</text>
<rect class="tb" x="518.85" y="257.25" width="3.8" height="9.0"/>
<text transform="translate(522.0 265.8) rotate(-90)" font-size="3.2" textLength="8.4" lengthAdjust="spacingAndGlyphs" class="s">DBC3</text>
<rect class="tb" x="523.45" y="257.25" width="3.8" height="9.0"/>
<text transform="translate(526.6 265.8) rotate(-90)" font-size="3.2" textLength="8.4" lengthAdjust="spacingAndGlyphs" class="s">DBC3</text>
<rect class="tb" x="528.05" y="257.25" width="3.8" height="9.0"/>
<text transform="translate(531.2 265.8) rotate(-90)" font-size="3.2" textLength="8.4" lengthAdjust="spacingAndGlyphs" class="s">DBC3</text>
<rect class="tb" x="532.65" y="257.25" width="3.8" height="9.0"/>
<text transform="translate(535.8 265.8) rotate(-90)" font-size="3.2" textLength="8.4" lengthAdjust="spacingAndGlyphs" class="s">DBC3</text>
<rect class="tb" x="537.25" y="257.25" width="3.8" height="9.0"/>
<text transform="translate(540.4 265.8) rotate(-90)" font-size="3.2" textLength="8.4" lengthAdjust="spacingAndGlyphs" class="s">DBC3</text>
<rect class="tb" x="541.85" y="257.25" width="3.8" height="9.0"/>
<text transform="translate(545.0 265.8) rotate(-90)" font-size="3.2" textLength="8.4" lengthAdjust="spacingAndGlyphs" class="s">DBC3</text>
<rect class="tb" x="546.45" y="257.25" width="3.8" height="9.0"/>
<text transform="translate(549.6 265.8) rotate(-90)" font-size="3.2" textLength="8.4" lengthAdjust="spacingAndGlyphs" class="s">DBC3</text>
<rect class="tb" x="551.05" y="257.25" width="3.8" height="9.0"/>
<text transform="translate(554.2 265.8) rotate(-90)" font-size="3.2" textLength="8.4" lengthAdjust="spacingAndGlyphs" class="s">DBC3</text>
<rect class="tb" x="555.65" y="257.25" width="3.8" height="9.0"/>
<text transform="translate(558.8 265.8) rotate(-90)" font-size="3.2" textLength="8.4" lengthAdjust="spacingAndGlyphs" class="s">DBC3</text>
<rect class="tb" x="559.75" y="257.25" width="3.8" height="9.0"/>
<text transform="translate(562.9 265.8) rotate(-90)" font-size="3.2" textLength="8.4" lengthAdjust="spacingAndGlyphs" class="s">DBC3</text>
<rect class="tb" x="448.25" y="277.25" width="3.9" height="9.0"/>
<text transform="translate(451.4 285.8) rotate(-90)" font-size="3.3" textLength="8.4" lengthAdjust="spacingAndGlyphs" class="s">DBC4</text>
<rect class="tb" x="454.25" y="277.25" width="3.9" height="9.0"/>
<text transform="translate(457.4 285.8) rotate(-90)" font-size="3.3" textLength="8.4" lengthAdjust="spacingAndGlyphs" class="s">DBC4</text>
<rect class="tb" x="461.25" y="277.25" width="3.9" height="9.0"/>
<text transform="translate(464.4 285.8) rotate(-90)" font-size="3.3" textLength="8.4" lengthAdjust="spacingAndGlyphs" class="s">DBC4</text>
<rect class="tb" x="466.25" y="277.25" width="3.9" height="9.0"/>
<text transform="translate(469.4 285.8) rotate(-90)" font-size="3.3" textLength="8.4" lengthAdjust="spacingAndGlyphs" class="s">DBC4</text>
<rect class="tb" x="473.25" y="277.25" width="3.9" height="9.0"/>
<text transform="translate(476.4 285.8) rotate(-90)" font-size="3.3" textLength="8.4" lengthAdjust="spacingAndGlyphs" class="s">DBC4</text>
<rect class="tb" x="484.25" y="277.25" width="3.9" height="9.0"/>
<text transform="translate(487.4 285.8) rotate(-90)" font-size="3.3" textLength="8.4" lengthAdjust="spacingAndGlyphs" class="s">DBC4</text>
<rect class="tb" x="490.25" y="277.25" width="3.9" height="9.0"/>
<text transform="translate(493.4 285.8) rotate(-90)" font-size="3.3" textLength="8.4" lengthAdjust="spacingAndGlyphs" class="s">DBC4</text>
<rect class="tb" x="496.25" y="277.25" width="3.9" height="9.0"/>
<text transform="translate(499.4 285.8) rotate(-90)" font-size="3.3" textLength="8.4" lengthAdjust="spacingAndGlyphs" class="s">DBC4</text>
<rect class="tb" x="501.55" y="277.25" width="3.9" height="9.0"/>
<text transform="translate(504.7 285.8) rotate(-90)" font-size="3.3" textLength="8.4" lengthAdjust="spacingAndGlyphs" class="s">DBC4</text>
<rect class="tb" x="447.95" y="286.25" width="4.3" height="9.0"/>
<text transform="translate(451.5 294.8) rotate(-90)" font-size="3.7" textLength="8.4" lengthAdjust="spacingAndGlyphs" class="s">DBC5</text>
<rect class="tb" x="452.95" y="286.25" width="4.3" height="9.0"/>
<text transform="translate(456.5 294.8) rotate(-90)" font-size="3.7" textLength="8.4" lengthAdjust="spacingAndGlyphs" class="s">DBC5</text>
<rect class="tb" x="437.25" y="295.25" width="9.7" height="3.6"/>
<text x="437.7" y="298.2" font-size="3.1" textLength="9.1" lengthAdjust="spacingAndGlyphs" class="s">FAC1</text>
<rect class="tb" x="437.25" y="299.45" width="9.7" height="3.6"/>
<text x="437.7" y="302.4" font-size="3.1" textLength="9.1" lengthAdjust="spacingAndGlyphs" class="s">FAC1</text>
<rect class="tb" x="447.95" y="295.25" width="10.3" height="3.6"/>
<text x="448.4" y="298.2" font-size="3.1" textLength="9.7" lengthAdjust="spacingAndGlyphs" class="s">FAC5</text>
<rect class="tb" x="447.95" y="299.45" width="10.3" height="3.6"/>
<text x="448.4" y="302.4" font-size="3.1" textLength="9.7" lengthAdjust="spacingAndGlyphs" class="s">FAC5</text>
<rect class="tb" x="437.25" y="305.95" width="9.7" height="3.8"/>
<text x="437.7" y="309.1" font-size="3.2" textLength="9.1" lengthAdjust="spacingAndGlyphs" class="s">L1000</text>
<rect x="471.25" y="286.25" width="13.7" height="22.0"/>
<text transform="translate(480.8 307.5) rotate(-90) scale(1 1.1)" font-size="7.31" text-anchor="start" class="t">DCU1</text>
<rect class="tb" x="496.25" y="292.75" width="5.0" height="17.0"/>
<text transform="translate(500.3 309.3) rotate(-90)" font-size="4.2" textLength="16.4" lengthAdjust="spacingAndGlyphs" class="s">DCR100</text>
<rect class="tb" x="501.75" y="292.75" width="5.0" height="17.0"/>
<text transform="translate(505.8 309.3) rotate(-90)" font-size="4.2" textLength="16.4" lengthAdjust="spacingAndGlyphs" class="s">DCR100</text>
<rect class="tb" x="507.25" y="292.75" width="5.0" height="17.0"/>
<text transform="translate(511.3 309.3) rotate(-90)" font-size="4.2" textLength="16.4" lengthAdjust="spacingAndGlyphs" class="s">DCR100</text>
<rect x="450.25" y="308.25" width="36.0" height="25.0"/>
<text transform="translate(459.0 332.5) rotate(-90) scale(1 1.13)" font-size="8.63" text-anchor="start" class="t">DDQ1</text>
<ellipse cx="470.6" cy="348.7" rx="15.6" ry="13.5"/>
<text transform="translate(455.6 342.8)" font-size="8.98" text-anchor="start" class="t">DDEC1</text>
<rect x="450.25" y="363.25" width="36.0" height="24.5"/>
<text transform="translate(459.0 387.0) rotate(-90) scale(1 1.13)" font-size="8.63" text-anchor="start" class="t">DCQ1</text>
<rect class="tb" x="449.95" y="388.95" width="9.3" height="3.6"/>
<text x="450.4" y="391.9" font-size="3.1" textLength="8.7" lengthAdjust="spacingAndGlyphs" class="s">DCR1</text>
<rect class="tb" x="449.95" y="393.05" width="9.3" height="3.6"/>
<text x="450.4" y="396.0" font-size="3.1" textLength="8.7" lengthAdjust="spacingAndGlyphs" class="s">DCR1</text>
<rect x="461.25" y="388.95" width="10.0" height="3.8"/>
<text transform="translate(461.6 391.6)" font-size="3.6" text-anchor="start" class="t b">WR</text>
<ellipse cx="470.6" cy="407.7" rx="15.6" ry="13.5"/>
<line x1="470.35" y1="394.45" x2="470.35" y2="420.95"/>
<text transform="translate(455.5 402.0)" font-size="8.93" text-anchor="start" class="t">DCEC1</text>
<rect class="tb" x="447.25" y="406.95" width="4.5" height="8.3"/>
<text transform="translate(450.9 414.8) rotate(-90)" font-size="3.8" textLength="7.7" lengthAdjust="spacingAndGlyphs" class="s">DR1</text>
<rect x="461.25" y="423.25" width="19.5" height="7.7" rx="3" ry="3"/>
<text transform="translate(480.0 425.6) rotate(180)" font-size="5.8" text-anchor="start" class="t m">DFC2</text>
<rect x="440.75" y="423.95" width="9.5" height="16.3" rx="3" ry="3"/>
<text transform="translate(448.3 439.3) rotate(-90) scale(1 1.13)" font-size="5.8" text-anchor="start" class="t m">DFC3</text>
<rect x="452.95" y="432.25" width="26.3" height="22.5"/>
<text transform="translate(460.2 454.0) rotate(-90) scale(1 1.13)" font-size="8.12" text-anchor="start" class="t">DFQ1</text>
<rect class="tb" x="479.95" y="433.25" width="6.8" height="12.5"/>
<text transform="translate(484.9 445.3) rotate(-90)" font-size="4.2" textLength="11.9" lengthAdjust="spacingAndGlyphs" class="s">NR1</text>
<rect x="443.75" y="440.75" width="7.5" height="16.5"/>
<text transform="translate(450.5 456.8) rotate(-90)" font-size="3.4" textLength="15.9" lengthAdjust="spacingAndGlyphs" class="s">DFQMD3</text>
<rect x="443.75" y="461.95" width="7.5" height="16.3"/>
<text transform="translate(450.5 477.8) rotate(-90)" font-size="3.4" textLength="15.7" lengthAdjust="spacingAndGlyphs" class="s">DFQMD2</text>
<text transform="translate(456.5 470.8) rotate(-90)" font-size="3.7" textLength="15.4" lengthAdjust="spacingAndGlyphs" class="s">DFR1DFR2</text>
<rect x="457.25" y="455.95" width="16.5" height="15.3"/>
<text transform="translate(457.6 460.2)" font-size="5.6" text-anchor="start" class="t m">DFQ2</text>
<rect class="tb" x="475.75" y="455.25" width="9.2" height="3.7"/>
<text x="476.2" y="458.3" font-size="3.1" textLength="8.6" lengthAdjust="spacingAndGlyphs" class="s">DFR5</text>
<rect x="452.95" y="473.25" width="15.8" height="16.0"/>
<text transform="translate(453.3 477.5)" font-size="5.6" text-anchor="start" class="t m">DFQ3</text>
<rect class="tb" x="469.25" y="472.75" width="4.5" height="8.2"/>
<text transform="translate(472.9 480.5) rotate(-90)" font-size="3.8" textLength="7.6" lengthAdjust="spacingAndGlyphs" class="s">DR3</text>
<rect class="tb" x="418.75" y="467.75" width="4.5" height="8.2"/>
<text transform="translate(422.4 475.5) rotate(-90)" font-size="3.8" textLength="7.6" lengthAdjust="spacingAndGlyphs" class="s">BC4</text>
<text transform="translate(765.0 202.7) rotate(180)" font-size="5" text-anchor="start" class="t m">DC_DL1</text>
<rect x="766.25" y="203.95" width="37.0" height="25.3"/>
<text transform="translate(773.8 228.9) rotate(-90) scale(1 1.04)" font-size="6.15" text-anchor="start" class="t m">DC_DQ2</text>
<rect class="tb" x="796.75" y="186.25" width="3.5" height="16.5"/>
<text transform="translate(799.6 202.3) rotate(-90)" font-size="3.0" textLength="15.9" lengthAdjust="spacingAndGlyphs" class="s">DCR1</text>
<rect x="802.25" y="185.75" width="18.0" height="8.5" rx="3" ry="3"/>
<text transform="translate(819.5 189.7) rotate(180)" font-size="4.6" text-anchor="start" class="t m">DC_DC1</text>
<rect class="tb" x="802.25" y="194.75" width="16.0" height="3.6"/>
<text x="802.7" y="197.7" font-size="3.1" textLength="15.4" lengthAdjust="spacingAndGlyphs" class="s">DCBC1</text>
<rect class="tb" x="802.25" y="200.75" width="16.0" height="3.6"/>
<text x="802.7" y="203.7" font-size="3.1" textLength="15.4" lengthAdjust="spacingAndGlyphs" class="s">DCBC1</text>
<rect class="tb" x="813.25" y="210.25" width="5.0" height="8.0"/>
<text transform="translate(817.3 217.8) rotate(-90)" font-size="4.2" textLength="7.4" lengthAdjust="spacingAndGlyphs" class="s">DR4</text>
<rect x="696.75" y="209.75" width="13.5" height="5.5"/>
<text transform="translate(697.1 214.4)" font-size="3.6" text-anchor="start" class="t b">DC_BR1</text>
<rect class="tb" x="676.25" y="220.25" width="6.3" height="12.5"/>
<text transform="translate(681.0 232.3) rotate(-90)" font-size="4.2" textLength="11.9" lengthAdjust="spacingAndGlyphs" class="s">DBC12</text>
<rect class="tb" x="682.95" y="220.25" width="6.3" height="12.5"/>
<text transform="translate(687.7 232.3) rotate(-90)" font-size="4.2" textLength="11.9" lengthAdjust="spacingAndGlyphs" class="s">DBC12</text>
<rect x="691.75" y="218.25" width="13.0" height="13.0"/>
<text x="692.7" y="230.3" font-size="3.1" textLength="11.4" lengthAdjust="spacingAndGlyphs" class="s">DCR2</text>
<rect class="tb" x="704.75" y="217.75" width="6.2" height="12.5"/>
<text transform="translate(709.4 229.8) rotate(-90)" font-size="4.2" textLength="11.9" lengthAdjust="spacingAndGlyphs" class="s">DCC1</text>
<rect x="692.25" y="233.95" width="14.5" height="5.3"/>
<text transform="translate(705.9 235.5) rotate(180)" font-size="4" text-anchor="start" class="t b">DCR5</text>
<ellipse cx="728.1" cy="243.5" rx="15.5" ry="13.5"/>
<line x1="727.85" y1="230.25" x2="727.85" y2="256.75"/>
<text transform="translate(713.0 238.3)" font-size="9.03" text-anchor="start" class="t">DAEC3</text>
<ellipse cx="766.8" cy="243.5" rx="15.6" ry="13.5"/>
<text transform="translate(751.7 238.3)" font-size="9.03" text-anchor="start" class="t">DAEC4</text>
<rect class="tb" x="658.95" y="257.75" width="4.3" height="8.5"/>
<text transform="translate(662.5 265.8) rotate(-90)" font-size="3.7" textLength="7.9" lengthAdjust="spacingAndGlyphs" class="s">DBC1</text>
<rect class="tb" x="663.75" y="257.75" width="4.3" height="8.5"/>
<text transform="translate(667.3 265.8) rotate(-90)" font-size="3.7" textLength="7.9" lengthAdjust="spacingAndGlyphs" class="s">DBC1</text>
<path d="M580.5 286.5 H770.7 L784.5 290.5 V308.5 L794.5 315.5 V319 H784.5 V462.5 L770.7 467.5 H580.5 Z" />
<text transform="translate(580.7 295.2)" font-size="9.64" text-anchor="start" class="t">LGA1151</text>
<rect x="634.25" y="350.75" width="97.0" height="52.5"/>
<rect class="tb" x="634.95" y="351.25" width="4.5" height="9.0"/>
<text transform="translate(638.6 359.8) rotate(-90)" font-size="3.8" textLength="8.4" lengthAdjust="spacingAndGlyphs" class="s">WBC12</text>
<rect class="tb" x="639.75" y="351.25" width="4.5" height="9.0"/>
<text transform="translate(643.4 359.8) rotate(-90)" font-size="3.8" textLength="8.4" lengthAdjust="spacingAndGlyphs" class="s">WBC12</text>
<rect class="tb" x="644.75" y="351.25" width="4.5" height="9.0"/>
<text transform="translate(648.4 359.8) rotate(-90)" font-size="3.8" textLength="8.4" lengthAdjust="spacingAndGlyphs" class="s">WBC12</text>
<rect x="654.75" y="354.25" width="19.2" height="9.2" rx="3.5" ry="3.5"/>
<text transform="translate(655.0 361.0)" font-size="6.2" text-anchor="start" class="t m">WBC7</text>
<rect x="654.75" y="364.00" width="19.2" height="9.2" rx="3.5" ry="3.5"/>
<text transform="translate(655.0 370.8)" font-size="6.2" text-anchor="start" class="t m">WBC8</text>
<rect x="654.75" y="373.75" width="19.2" height="9.2" rx="3.5" ry="3.5"/>
<text transform="translate(655.0 380.5)" font-size="6.2" text-anchor="start" class="t m">WBC1</text>
<rect x="654.75" y="383.50" width="19.2" height="9.2" rx="3.5" ry="3.5"/>
<text transform="translate(655.0 390.2)" font-size="6.2" text-anchor="start" class="t m">WBC9</text>
<rect x="654.75" y="393.25" width="19.2" height="9.2" rx="3.5" ry="3.5"/>
<text transform="translate(655.0 400.0)" font-size="5.2" text-anchor="start" class="t m">WBC10</text>
<rect x="635.25" y="364.25" width="18.7" height="9.2" rx="3.5" ry="3.5"/>
<text transform="translate(635.3 370.0)" font-size="4.8" text-anchor="start" class="t m">WBC60</text>
<rect x="635.25" y="383.25" width="18.7" height="9.2" rx="3.5" ry="3.5"/>
<text transform="translate(635.3 389.0)" font-size="4.8" text-anchor="start" class="t m">WBC59</text>
<rect x="690.25" y="354.25" width="18.7" height="9.2" rx="3.5" ry="3.5"/>
<text transform="translate(708.3 358.9) rotate(180)" font-size="5.2" text-anchor="start" class="t m">WBC11</text>
<rect x="690.25" y="364.00" width="18.7" height="9.2" rx="3.5" ry="3.5"/>
<text transform="translate(708.3 367.9) rotate(180)" font-size="6.2" text-anchor="start" class="t m">WBC2</text>
<rect x="690.25" y="373.75" width="18.7" height="9.2" rx="3.5" ry="3.5"/>
<text transform="translate(708.3 377.7) rotate(180)" font-size="6.2" text-anchor="start" class="t m">WBC3</text>
<rect x="690.25" y="383.50" width="18.7" height="9.2" rx="3.5" ry="3.5"/>
<text transform="translate(708.3 387.4) rotate(180)" font-size="6.2" text-anchor="start" class="t m">WBC4</text>
<rect x="690.25" y="393.25" width="18.7" height="9.2" rx="3.5" ry="3.5"/>
<text transform="translate(708.3 397.2) rotate(180)" font-size="6.2" text-anchor="start" class="t m">WBC5</text>
<rect x="710.25" y="354.25" width="19.0" height="9.0" rx="3.5" ry="3.5"/>
<text transform="translate(710.5 360.3)" font-size="5.2" text-anchor="start" class="t m">WBC23</text>
<rect x="710.25" y="373.95" width="19.0" height="9.3" rx="3.5" ry="3.5"/>
<text transform="translate(710.5 380.0)" font-size="5.2" text-anchor="start" class="t m">WBC24</text>
<rect x="710.25" y="393.95" width="19.0" height="9.0" rx="3.5" ry="3.5"/>
<text transform="translate(728.7 398.6) rotate(180)" font-size="4.8" text-anchor="start" class="t m">WBC48</text>
<ellipse cx="930.6" cy="203.7" rx="20.5" ry="18.5"/>
<line x1="930.35" y1="185.45" x2="930.35" y2="221.95"/>
<text transform="translate(910.0 193.8)" font-size="9.64" text-anchor="start" class="t">DAEC15</text>
<rect class="tb" x="985.25" y="202.25" width="10.0" height="3.5"/>
<text x="985.7" y="205.1" font-size="3.0" textLength="9.4" lengthAdjust="spacingAndGlyphs" class="s">DAR1</text>
<rect x="996.95" y="201.25" width="15.0" height="5.0"/>
<text transform="translate(997.3 205.4)" font-size="3.8" text-anchor="start" class="t b">DAC38</text>
<rect x="965.75" y="207.75" width="48.0" height="45.5"/>
<rect x="1013.75" y="219.75" width="7.0" height="20.5"/>
<line x1="1014.25" y1="232.25" x2="1020.25" y2="222.25"/>
<line x1="1014.25" y1="240.25" x2="1020.25" y2="230.25"/>
<text transform="translate(975.5 252.0) rotate(-90) scale(1 1.13)" font-size="9.74" text-anchor="start" class="t">ATX_12V</text>
<ellipse cx="891.6" cy="258.7" rx="15.6" ry="13.5"/>
<line x1="891.25" y1="245.25" x2="891.25" y2="271.95"/>
<line x1="880.25" y1="243.25" x2="880.25" y2="249.25"/>
<line x1="877.25" y1="246.25" x2="883.25" y2="246.25"/>
<text transform="translate(876.2 252.5)" font-size="9.03" text-anchor="start" class="t">DAEC2</text>
<ellipse cx="891.6" cy="297.2" rx="15.6" ry="13.5"/>
<line x1="891.25" y1="283.75" x2="891.25" y2="310.45"/>
<line x1="880.25" y1="281.75" x2="880.25" y2="287.75"/>
<line x1="877.25" y1="284.75" x2="883.25" y2="284.75"/>
<text transform="translate(876.2 292.0)" font-size="9.03" text-anchor="start" class="t">DAEC1</text>
<ellipse cx="891.6" cy="336.7" rx="15.6" ry="13.5"/>
<line x1="891.25" y1="323.25" x2="891.25" y2="349.95"/>
<line x1="880.25" y1="321.25" x2="880.25" y2="327.25"/>
<line x1="877.25" y1="324.25" x2="883.25" y2="324.25"/>
<text transform="translate(876.2 331.0)" font-size="9.03" text-anchor="start" class="t">DAEC9</text>
<ellipse cx="891.6" cy="374.7" rx="15.6" ry="13.5"/>
<line x1="891.25" y1="361.25" x2="891.25" y2="387.95"/>
<line x1="880.25" y1="359.25" x2="880.25" y2="365.25"/>
<line x1="877.25" y1="362.25" x2="883.25" y2="362.25"/>
<text transform="translate(876.2 368.0) scale(1 1.2)" font-size="7.51" text-anchor="start" class="t">DAEC10</text>
<rect x="908.25" y="247.75" width="51.7" height="45.5"/>
<text transform="translate(938.0 292.5) rotate(-90) scale(1 1.13)" font-size="5" text-anchor="start" class="t m">DB_DL1</text>
<rect x="908.25" y="303.25" width="51.7" height="45.0"/>
<text transform="translate(938.0 347.5) rotate(-90) scale(1 1.13)" font-size="5" text-anchor="start" class="t m">DA_DL1</text>
<rect x="908.25" y="357.25" width="51.7" height="45.5"/>
<text transform="translate(938.0 402.0) rotate(-90) scale(1 1.13)" font-size="5" text-anchor="start" class="t m">DM_DL1</text>
<rect class="tb" x="909.25" y="298.95" width="10.0" height="3.3"/>
<text x="909.7" y="301.7" font-size="2.8" textLength="9.4" lengthAdjust="spacingAndGlyphs" class="s">DBR1</text>
<rect class="tb" x="909.25" y="403.75" width="10.0" height="4.0"/>
<text x="909.7" y="407.0" font-size="3.4" textLength="9.4" lengthAdjust="spacingAndGlyphs" class="s">DMR1</text>
<rect class="tb" x="863.25" y="301.25" width="10.5" height="3.6"/>
<text x="863.7" y="304.2" font-size="3.1" textLength="9.9" lengthAdjust="spacingAndGlyphs" class="s">DBC1</text>
<rect class="tb" x="863.25" y="305.55" width="10.5" height="3.6"/>
<text x="863.7" y="308.5" font-size="3.1" textLength="9.9" lengthAdjust="spacingAndGlyphs" class="s">DBC1</text>
<rect class="tb" x="863.25" y="309.85" width="10.5" height="3.6"/>
<text x="863.7" y="312.8" font-size="3.1" textLength="9.9" lengthAdjust="spacingAndGlyphs" class="s">DBC1</text>
<rect class="tb" x="863.25" y="314.25" width="10.5" height="3.6"/>
<text x="863.7" y="317.2" font-size="3.1" textLength="9.9" lengthAdjust="spacingAndGlyphs" class="s">DBC1</text>
<rect x="960.75" y="271.25" width="28.5" height="31.5"/>
<text transform="translate(988.3 295.5) rotate(180)" font-size="6.8" text-anchor="start" class="t m">DB_DQ2</text>
<rect x="989.95" y="277.75" width="35.3" height="25.0"/>
<text transform="translate(1018.7 278.0) rotate(90) scale(1 1.13)" font-size="6.6" text-anchor="start" class="t m">DB_DQ1</text>
<rect class="tb" x="979.25" y="263.25" width="10.0" height="4.0"/>
<text x="979.7" y="266.5" font-size="3.4" textLength="9.4" lengthAdjust="spacingAndGlyphs" class="s">DBR2</text>
<rect class="tb" x="990.25" y="262.55" width="7.3" height="13.7"/>
<text transform="translate(995.5 275.8) rotate(-90)" font-size="4.2" textLength="13.1" lengthAdjust="spacingAndGlyphs" class="s">DB_R4</text>
<rect x="1026.95" y="273.75" width="18.8" height="8.2" rx="3" ry="3"/>
<text transform="translate(1027.7 279.3)" font-size="4.4" text-anchor="start" class="t b">DB_DC1</text>
<rect class="tb" x="974.25" y="304.25" width="10.0" height="4.5"/>
<text x="974.7" y="307.9" font-size="3.8" textLength="9.4" lengthAdjust="spacingAndGlyphs" class="s">DBR3</text>
<rect x="984.25" y="303.75" width="15.0" height="5.5"/>
<text transform="translate(984.6 308.4)" font-size="3.4" text-anchor="start" class="t b">DB_BR1</text>
<rect x="960.75" y="327.55" width="28.5" height="31.5"/>
<text transform="translate(988.3 351.8) rotate(180)" font-size="6.8" text-anchor="start" class="t m">DA_DQ2</text>
<rect x="989.95" y="334.05" width="35.3" height="25.0"/>
<text transform="translate(1018.7 334.3) rotate(90) scale(1 1.13)" font-size="6.6" text-anchor="start" class="t m">DA_DQ1</text>
<rect class="tb" x="979.25" y="319.55" width="10.0" height="4.0"/>
<text x="979.7" y="322.8" font-size="3.4" textLength="9.4" lengthAdjust="spacingAndGlyphs" class="s">DBR2</text>
<rect class="tb" x="990.25" y="318.85" width="7.3" height="13.7"/>
<text transform="translate(995.5 332.1) rotate(-90)" font-size="4.2" textLength="13.1" lengthAdjust="spacingAndGlyphs" class="s">DB_R4</text>
<rect x="1026.95" y="330.05" width="18.8" height="8.2" rx="3" ry="3"/>
<text transform="translate(1027.7 335.6)" font-size="4.4" text-anchor="start" class="t b">DA_DC1</text>
<rect class="tb" x="974.25" y="360.55" width="10.0" height="4.5"/>
<text x="974.7" y="364.2" font-size="3.8" textLength="9.4" lengthAdjust="spacingAndGlyphs" class="s">DBR3</text>
<rect x="984.25" y="360.05" width="15.0" height="5.5"/>
<text transform="translate(984.6 364.7)" font-size="3.4" text-anchor="start" class="t b">DB_BR1</text>
<rect x="960.75" y="384.25" width="28.5" height="31.5"/>
<text transform="translate(988.3 408.5) rotate(180)" font-size="6.8" text-anchor="start" class="t m">DM_DQ2</text>
<rect x="989.95" y="390.75" width="35.3" height="25.0"/>
<text transform="translate(1018.7 391.0) rotate(90) scale(1 1.13)" font-size="6.6" text-anchor="start" class="t m">DM_DQ1</text>
<rect class="tb" x="979.25" y="376.25" width="10.0" height="4.0"/>
<text x="979.7" y="379.5" font-size="3.4" textLength="9.4" lengthAdjust="spacingAndGlyphs" class="s">DBR2</text>
<rect class="tb" x="990.25" y="375.55" width="7.3" height="13.7"/>
<text transform="translate(995.5 388.8) rotate(-90)" font-size="4.2" textLength="13.1" lengthAdjust="spacingAndGlyphs" class="s">DB_R4</text>
<rect x="1026.95" y="386.75" width="18.8" height="8.2" rx="3" ry="3"/>
<text transform="translate(1027.7 392.3)" font-size="4.4" text-anchor="start" class="t b">DM_DC1</text>
<rect class="tb" x="974.25" y="417.25" width="10.0" height="4.5"/>
<text x="974.7" y="420.9" font-size="3.8" textLength="9.4" lengthAdjust="spacingAndGlyphs" class="s">DBR3</text>
<rect x="984.25" y="416.75" width="15.0" height="5.5"/>
<text transform="translate(984.6 421.4)" font-size="3.4" text-anchor="start" class="t b">DB_BR1</text>
<rect class="tb" x="998.25" y="328.95" width="10.0" height="3.8"/>
<text x="998.7" y="332.1" font-size="3.2" textLength="9.4" lengthAdjust="spacingAndGlyphs" class="s">DAR5</text>
<rect class="tb" x="999.25" y="385.25" width="10.0" height="4.0"/>
<text x="999.7" y="388.5" font-size="3.4" textLength="9.4" lengthAdjust="spacingAndGlyphs" class="s">DMR5</text>
<rect class="tb" x="1010.75" y="417.25" width="10.5" height="4.0"/>
<text x="1011.2" y="420.5" font-size="3.4" textLength="9.9" lengthAdjust="spacingAndGlyphs" class="s">DMR6</text>
<ellipse cx="1048.6" cy="301.4" rx="20.6" ry="18.6"/>
<text transform="translate(1027.5 292.2)" font-size="9.64" text-anchor="start" class="t">DAEC14</text>
<line x1="1040.25" y1="290.25" x2="1040.25" y2="296.25"/>
<line x1="1037.25" y1="293.25" x2="1043.25" y2="293.25"/>
<ellipse cx="1048.6" cy="357.4" rx="20.6" ry="18.8"/>
<text transform="translate(1027.5 347.7)" font-size="9.64" text-anchor="start" class="t">DAEC16</text>
<line x1="1047.75" y1="349.25" x2="1047.75" y2="375.25"/>
<rect x="16.25" y="417.75" width="25.0" height="53.5"/>
<rect x="28.25" y="460.95" width="13.0" height="10.3"/>
<text transform="translate(22.6 470.8) rotate(-90)" font-size="3.0" textLength="9.4" lengthAdjust="spacingAndGlyphs" class="s">FU2</text>
<rect x="41.95" y="377.25" width="20.8" height="13.7"/>
<line x1="41.95" y1="381.25" x2="51.25" y2="381.25" stroke-dasharray="2.4 1.8"/>
<line x1="51.25" y1="377.25" x2="51.25" y2="385.25" stroke-dasharray="2.4 1.8"/>
<text transform="translate(62.0 387.0) rotate(180)" font-size="4.6" text-anchor="start" class="t m">FRUSD1</text>
<rect class="tb" x="42.75" y="394.75" width="8.5" height="3.5"/>
<text x="43.2" y="397.6" font-size="3.0" textLength="7.9" lengthAdjust="spacingAndGlyphs" class="s">FBC1</text>
<rect x="45.95" y="398.95" width="16.8" height="8.3" rx="3" ry="3"/>
<text transform="translate(62.0 401.6) rotate(180)" font-size="6.2" text-anchor="start" class="t m">UAF3</text>
<rect class="tb" x="66.25" y="397.25" width="4.0" height="9.0"/>
<text transform="translate(69.5 405.8) rotate(-90)" font-size="3.4" textLength="8.4" lengthAdjust="spacingAndGlyphs" class="s">UR1</text>
<ellipse cx="59.3" cy="420.0" rx="13.3" ry="11.6"/>
<line x1="59.05" y1="408.65" x2="59.05" y2="431.35"/>
<line x1="49.37" y1="406.45" x2="49.37" y2="410.45"/>
<line x1="47.37" y1="408.45" x2="51.37" y2="408.45"/>
<text transform="translate(45.5 413.2)" font-size="5.6" text-anchor="start" class="t m">FAUSEC1</text>
<rect x="71.95" y="382.25" width="56.3" height="29.0"/>
<text transform="translate(117.8 382.5) rotate(90) scale(1 1.13)" font-size="9.54" text-anchor="start" class="t">Q4</text>
<path d="M127.5 372.5 H113 Q108.7 372.5 108.7 376.5 Q108.7 380.8 113 380.8 H127.5 Z" />
<text transform="translate(127.3 373.9) rotate(180)" font-size="8.32" text-anchor="start" class="t">C9</text>
<rect class="tb" x="73.25" y="376.25" width="8.0" height="4.0"/>
<text x="73.7" y="379.5" font-size="3.4" textLength="7.4" lengthAdjust="spacingAndGlyphs" class="s">CR1</text>
<rect class="tb" x="82.75" y="376.25" width="9.5" height="4.0"/>
<text x="83.2" y="379.5" font-size="3.4" textLength="8.9" lengthAdjust="spacingAndGlyphs" class="s">CR2</text>
<rect class="tb" x="94.25" y="376.25" width="9.0" height="4.0"/>
<text x="94.7" y="379.5" font-size="3.4" textLength="8.4" lengthAdjust="spacingAndGlyphs" class="s">CR3</text>
<rect x="41.95" y="438.25" width="20.8" height="13.0"/>
<line x1="41.95" y1="436.25" x2="51.25" y2="436.25" stroke-dasharray="2.4 1.8"/>
<line x1="51.25" y1="436.25" x2="51.25" y2="446.25" stroke-dasharray="2.4 1.8"/>
<text transform="translate(62.0 447.3) rotate(180)" font-size="4.6" text-anchor="start" class="t m">FAUSD1</text>
<rect class="tb" x="42.75" y="454.75" width="3.5" height="9.2"/>
<text transform="translate(45.6 463.5) rotate(-90)" font-size="3.0" textLength="8.6" lengthAdjust="spacingAndGlyphs" class="s">UR2</text>
<rect x="47.75" y="453.95" width="15.0" height="15.3"/>
<text transform="translate(62.0 465.4) rotate(180)" font-size="4.4" text-anchor="start" class="t b">UADC1</text>
<rect x="113.25" y="421.95" width="19.0" height="39.3"/>
<line x1="116.25" y1="461.25" x2="116.25" y2="469.25"/>
<line x1="128.95" y1="461.25" x2="128.95" y2="469.25"/>
<text x="114.7" y="470.7" font-size="2.5" textLength="5.4" lengthAdjust="spacingAndGlyphs" class="s">X1</text>
<rect class="tb" x="101.25" y="461.25" width="4.0" height="9.0"/>
<text transform="translate(104.5 469.8) rotate(-90)" font-size="3.4" textLength="8.4" lengthAdjust="spacingAndGlyphs" class="s">XC1</text>
<rect class="tb" x="106.25" y="456.25" width="4.7" height="17.7"/>
<text transform="translate(110.1 473.5) rotate(-90)" font-size="4.0" textLength="17.1" lengthAdjust="spacingAndGlyphs" class="s">XTALC2</text>
<rect x="232.75" y="448.25" width="23.5" height="50.0" rx="11.7" ry="11.7"/>
<text transform="translate(246.5 449.5) rotate(90) scale(1 1.13)" font-size="9.54" text-anchor="start" class="t">NX1</text>
<rect class="tb" x="221.25" y="465.25" width="10.0" height="3.6"/>
<text x="221.7" y="468.2" font-size="3.1" textLength="9.4" lengthAdjust="spacingAndGlyphs" class="s">NXR1</text>
<rect class="tb" x="221.25" y="469.55" width="10.0" height="3.6"/>
<text x="221.7" y="472.5" font-size="3.1" textLength="9.4" lengthAdjust="spacingAndGlyphs" class="s">NXR1</text>
<rect class="tb" x="221.25" y="473.85" width="10.0" height="3.6"/>
<text x="221.7" y="476.8" font-size="3.1" textLength="9.4" lengthAdjust="spacingAndGlyphs" class="s">NXR1</text>
<rect class="tb" x="221.25" y="478.25" width="10.0" height="3.6"/>
<text x="221.7" y="481.2" font-size="3.1" textLength="9.4" lengthAdjust="spacingAndGlyphs" class="s">NXR1</text>
<rect x="201.25" y="480.25" width="19.5" height="7.7" rx="3.5" ry="3.5"/>
<text transform="translate(202.0 486.0)" font-size="4.6" text-anchor="start" class="t m">NBC121</text>
<rect x="201.25" y="488.95" width="19.5" height="8.8" rx="3.5" ry="3.5"/>
<text transform="translate(202.0 495.2)" font-size="4.6" text-anchor="start" class="t m">NBC120</text>
<rect class="tb" x="185.25" y="458.25" width="4.5" height="8.0"/>
<text transform="translate(188.9 465.8) rotate(-90)" font-size="3.8" textLength="7.4" lengthAdjust="spacingAndGlyphs" class="s">NR2</text>
<rect class="tb" x="180.25" y="467.75" width="4.6" height="8.5"/>
<text transform="translate(184.0 475.8) rotate(-90)" font-size="3.9" textLength="7.9" lengthAdjust="spacingAndGlyphs" class="s">NR3</text>
<rect class="tb" x="185.05" y="467.75" width="4.6" height="8.5"/>
<text transform="translate(188.8 475.8) rotate(-90)" font-size="3.9" textLength="7.9" lengthAdjust="spacingAndGlyphs" class="s">NR3</text>
<path d="M79.5 653.5 H216.5 V668 A16.5 13 0 0 0 249.5 668 V503.5 H112.5 V490 A16.5 14.5 0 0 0 79.5 490 Z" />
<rect x="103.75" y="524.25" width="121.0" height="108.0"/>
<rect x="108.25" y="528.25" width="112.0" height="99.5"/>
<text transform="translate(103.7 534.0)" font-size="9.64" text-anchor="start" class="t">PCH</text>
<rect class="tb" x="122.25" y="489.75" width="4.4" height="8.5"/>
<text transform="translate(125.8 497.8) rotate(-90)" font-size="3.7" textLength="7.9" lengthAdjust="spacingAndGlyphs" class="s">NC1</text>
<rect class="tb" x="126.95" y="489.75" width="4.4" height="8.5"/>
<text transform="translate(130.5 497.8) rotate(-90)" font-size="3.7" textLength="7.9" lengthAdjust="spacingAndGlyphs" class="s">NC1</text>
<rect class="tb" x="138.25" y="489.75" width="4.4" height="8.5"/>
<text transform="translate(141.8 497.8) rotate(-90)" font-size="3.7" textLength="7.9" lengthAdjust="spacingAndGlyphs" class="s">NC2</text>
<rect class="tb" x="142.95" y="489.75" width="4.4" height="8.5"/>
<text transform="translate(146.5 497.8) rotate(-90)" font-size="3.7" textLength="7.9" lengthAdjust="spacingAndGlyphs" class="s">NC2</text>
<rect class="tb" x="147.65" y="489.75" width="4.4" height="8.5"/>
<text transform="translate(151.2 497.8) rotate(-90)" font-size="3.7" textLength="7.9" lengthAdjust="spacingAndGlyphs" class="s">NC2</text>
<rect class="tb" x="164.25" y="489.75" width="4.4" height="8.5"/>
<text transform="translate(167.8 497.8) rotate(-90)" font-size="3.7" textLength="7.9" lengthAdjust="spacingAndGlyphs" class="s">NC3</text>
<rect class="tb" x="168.95" y="489.75" width="4.4" height="8.5"/>
<text transform="translate(172.5 497.8) rotate(-90)" font-size="3.7" textLength="7.9" lengthAdjust="spacingAndGlyphs" class="s">NC3</text>
<rect x="123.25" y="504.75" width="11.5" height="9.2"/>
<text transform="translate(123.6 507.4)" font-size="3.6" text-anchor="start" class="t b">NRN7</text>
<rect class="tb" x="116.25" y="507.25" width="4.0" height="8.0"/>
<text transform="translate(119.5 514.8) rotate(-90)" font-size="3.4" textLength="7.4" lengthAdjust="spacingAndGlyphs" class="s">NR5</text>
<rect class="tb" x="152.25" y="504.75" width="4.3" height="8.0"/>
<text transform="translate(155.8 512.3) rotate(-90)" font-size="3.7" textLength="7.4" lengthAdjust="spacingAndGlyphs" class="s">NC4</text>
<rect class="tb" x="156.85" y="504.75" width="4.3" height="8.0"/>
<text transform="translate(160.4 512.3) rotate(-90)" font-size="3.7" textLength="7.4" lengthAdjust="spacingAndGlyphs" class="s">NC4</text>
<rect class="tb" x="177.75" y="503.95" width="4.5" height="9.3"/>
<text transform="translate(181.4 512.8) rotate(-90)" font-size="3.8" textLength="8.7" lengthAdjust="spacingAndGlyphs" class="s">NC5</text>
<rect class="tb" x="209.75" y="514.75" width="4.2" height="8.0"/>
<text transform="translate(213.2 522.3) rotate(-90)" font-size="3.6" textLength="7.4" lengthAdjust="spacingAndGlyphs" class="s">NC6</text>
<rect x="94.75" y="507.25" width="14.2" height="8.5"/>
<rect class="tb" x="95.25" y="507.25" width="4.3" height="8.5"/>
<text transform="translate(98.8 515.3) rotate(-90)" font-size="3.7" textLength="7.9" lengthAdjust="spacingAndGlyphs" class="s">NC7</text>
<rect class="tb" x="99.75" y="507.25" width="4.3" height="8.5"/>
<text transform="translate(103.3 515.3) rotate(-90)" font-size="3.7" textLength="7.9" lengthAdjust="spacingAndGlyphs" class="s">NC7</text>
<rect class="tb" x="104.25" y="507.25" width="4.3" height="8.5"/>
<text transform="translate(107.8 515.3) rotate(-90)" font-size="3.7" textLength="7.9" lengthAdjust="spacingAndGlyphs" class="s">NC7</text>
<rect class="tb" x="80.25" y="508.95" width="8.7" height="3.3"/>
<text x="80.7" y="511.7" font-size="2.8" textLength="8.1" lengthAdjust="spacingAndGlyphs" class="s">NR6</text>
<rect x="59.25" y="495.95" width="14.7" height="8.6"/>
<rect class="tb" x="59.75" y="495.95" width="4.3" height="8.6"/>
<text transform="translate(63.3 504.1) rotate(-90)" font-size="3.7" textLength="8.0" lengthAdjust="spacingAndGlyphs" class="s">NC8</text>
<rect class="tb" x="64.25" y="495.95" width="4.3" height="8.6"/>
<text transform="translate(67.8 504.1) rotate(-90)" font-size="3.7" textLength="8.0" lengthAdjust="spacingAndGlyphs" class="s">NC8</text>
<rect class="tb" x="69.25" y="495.95" width="4.3" height="8.6"/>
<text transform="translate(72.8 504.1) rotate(-90)" font-size="3.7" textLength="8.0" lengthAdjust="spacingAndGlyphs" class="s">NC8</text>
<rect x="59.25" y="505.95" width="14.7" height="8.6"/>
<rect class="tb" x="59.75" y="505.95" width="4.3" height="8.6"/>
<text transform="translate(63.3 514.1) rotate(-90)" font-size="3.7" textLength="8.0" lengthAdjust="spacingAndGlyphs" class="s">NC8</text>
<rect class="tb" x="64.25" y="505.95" width="4.3" height="8.6"/>
<text transform="translate(67.8 514.1) rotate(-90)" font-size="3.7" textLength="8.0" lengthAdjust="spacingAndGlyphs" class="s">NC8</text>
<rect class="tb" x="69.25" y="505.95" width="4.3" height="8.6"/>
<text transform="translate(72.8 514.1) rotate(-90)" font-size="3.7" textLength="8.0" lengthAdjust="spacingAndGlyphs" class="s">NC8</text>
<rect class="tb" x="32.25" y="521.25" width="9.7" height="3.4"/>
<text x="32.7" y="524.0" font-size="2.9" textLength="9.1" lengthAdjust="spacingAndGlyphs" class="s">NR7</text>
<rect class="tb" x="32.25" y="525.25" width="9.7" height="3.4"/>
<text x="32.7" y="528.0" font-size="2.9" textLength="9.1" lengthAdjust="spacingAndGlyphs" class="s">NR7</text>
<rect class="tb" x="32.25" y="537.75" width="9.7" height="3.5"/>
<text x="32.7" y="540.6" font-size="3.0" textLength="9.1" lengthAdjust="spacingAndGlyphs" class="s">NR8</text>
<rect x="42.75" y="524.75" width="18.5" height="15.0"/>
<text transform="translate(54.2 525.0) rotate(90) scale(1 1.4)" font-size="6.8" text-anchor="start" class="t m">NQ1</text>
<rect class="tb" x="62.25" y="527.75" width="9.0" height="3.5"/>
<text x="62.7" y="530.6" font-size="3.0" textLength="8.4" lengthAdjust="spacingAndGlyphs" class="s">NR9</text>
<rect class="tb" x="62.25" y="532.05" width="9.0" height="3.5"/>
<text x="62.7" y="534.9" font-size="3.0" textLength="8.4" lengthAdjust="spacingAndGlyphs" class="s">NR9</text>
<rect class="tb" x="62.25" y="536.25" width="9.0" height="3.5"/>
<text x="62.7" y="539.1" font-size="3.0" textLength="8.4" lengthAdjust="spacingAndGlyphs" class="s">NR9</text>
<rect class="tb" x="79.75" y="524.75" width="9.2" height="3.4"/>
<text x="80.2" y="527.5" font-size="2.9" textLength="8.6" lengthAdjust="spacingAndGlyphs" class="s">NR10</text>
<rect class="tb" x="79.75" y="528.75" width="9.2" height="3.4"/>
<text x="80.2" y="531.5" font-size="2.9" textLength="8.6" lengthAdjust="spacingAndGlyphs" class="s">NR10</text>
<rect class="tb" x="92.25" y="518.95" width="10.0" height="3.6"/>
<text x="92.7" y="521.9" font-size="3.1" textLength="9.4" lengthAdjust="spacingAndGlyphs" class="s">NR11</text>
<rect class="tb" x="92.25" y="523.75" width="10.0" height="3.6"/>
<text x="92.7" y="526.7" font-size="3.1" textLength="9.4" lengthAdjust="spacingAndGlyphs" class="s">NR11</text>
<rect class="tb" x="92.25" y="531.25" width="10.0" height="3.6"/>
<text x="92.7" y="534.2" font-size="3.1" textLength="9.4" lengthAdjust="spacingAndGlyphs" class="s">NR11</text>
<rect class="tb" x="92.25" y="537.25" width="10.0" height="3.6"/>
<text x="92.7" y="540.2" font-size="3.1" textLength="9.4" lengthAdjust="spacingAndGlyphs" class="s">NR11</text>
<rect x="80.25" y="535.25" width="11.0" height="10.0"/>
<text transform="translate(83.5 544.8) rotate(-90)" font-size="3.4" textLength="9.4" lengthAdjust="spacingAndGlyphs" class="s">NC9</text>
<rect class="tb" x="43.95" y="547.25" width="8.8" height="3.5"/>
<text x="44.4" y="550.1" font-size="3.0" textLength="8.2" lengthAdjust="spacingAndGlyphs" class="s">NR12</text>
<rect class="tb" x="61.25" y="547.75" width="10.0" height="3.5"/>
<text x="61.7" y="550.6" font-size="3.0" textLength="9.4" lengthAdjust="spacingAndGlyphs" class="s">NR13</text>
<rect class="tb" x="979.25" y="417.05" width="10.0" height="4.2"/>
<text x="979.7" y="420.5" font-size="3.6" textLength="9.4" lengthAdjust="spacingAndGlyphs" class="s">DMR3</text>
<rect x="989.25" y="416.75" width="14.5" height="5.0"/>
<text transform="translate(989.6 420.9)" font-size="3.4" text-anchor="start" class="t b">DM_BR1</text>
<rect x="1034.75" y="410.55" width="18.5" height="13.2"/>
<text transform="translate(1034.8 411.0) rotate(90) scale(1 1.13)" font-size="5" text-anchor="start" class="t m">DAQ4</text>
<rect class="tb" x="1029.95" y="414.05" width="4.3" height="7.8"/>
<text transform="translate(1033.5 421.4) rotate(-90)" font-size="3.7" textLength="7.2" lengthAdjust="spacingAndGlyphs" class="s">DR5</text>
<rect class="tb" x="1054.25" y="415.85" width="5.0" height="8.4"/>
<text transform="translate(1058.3 423.8) rotate(-90)" font-size="4.2" textLength="7.8" lengthAdjust="spacingAndGlyphs" class="s">DR6</text>
<rect x="1043.55" y="427.65" width="18.2" height="13.9"/>
<text transform="translate(1055.5 428.0) rotate(90) scale(1 1.13)" font-size="5" text-anchor="start" class="t m">DAQ5</text>
<rect class="tb" x="1037.95" y="433.25" width="5.3" height="8.0"/>
<text transform="translate(1042.2 440.8) rotate(-90)" font-size="4.2" textLength="7.4" lengthAdjust="spacingAndGlyphs" class="s">DR7</text>
<rect class="tb" x="973.95" y="424.75" width="9.8" height="3.6"/>
<text x="974.4" y="427.7" font-size="3.1" textLength="9.2" lengthAdjust="spacingAndGlyphs" class="s">DAR10</text>
<rect class="tb" x="973.95" y="429.25" width="9.8" height="3.6"/>
<text x="974.4" y="432.2" font-size="3.1" textLength="9.2" lengthAdjust="spacingAndGlyphs" class="s">DAR10</text>
<rect class="tb" x="984.75" y="425.25" width="3.5" height="8.0"/>
<text transform="translate(987.6 432.8) rotate(-90)" font-size="3.0" textLength="7.4" lengthAdjust="spacingAndGlyphs" class="s">DC1</text>
<rect x="986.75" y="424.75" width="11.5" height="4.5"/>
<text transform="translate(987.1 428.4)" font-size="3.4" text-anchor="start" class="t b">DAR11</text>
<rect class="tb" x="998.25" y="425.25" width="10.0" height="4.0"/>
<text x="998.7" y="428.5" font-size="3.4" textLength="9.4" lengthAdjust="spacingAndGlyphs" class="s">DAR12</text>
<rect class="tb" x="1009.25" y="425.25" width="4.2" height="8.0"/>
<text transform="translate(1012.7 432.8) rotate(-90)" font-size="3.6" textLength="7.4" lengthAdjust="spacingAndGlyphs" class="s">DAC4</text>
<rect class="tb" x="1014.25" y="425.25" width="4.2" height="8.0"/>
<text transform="translate(1017.7 432.8) rotate(-90)" font-size="3.6" textLength="7.4" lengthAdjust="spacingAndGlyphs" class="s">DAC4</text>
<rect class="tb" x="1018.55" y="427.25" width="6.1" height="12.0"/>
<text transform="translate(1023.2 438.8) rotate(-90)" font-size="4.2" textLength="11.4" lengthAdjust="spacingAndGlyphs" class="s">DAR20</text>
<rect class="tb" x="978.25" y="433.25" width="4.2" height="7.5"/>
<text transform="translate(981.7 440.3) rotate(-90)" font-size="3.6" textLength="6.9" lengthAdjust="spacingAndGlyphs" class="s">DAC5</text>
<rect class="tb" x="984.25" y="433.25" width="4.2" height="7.5"/>
<text transform="translate(987.7 440.3) rotate(-90)" font-size="3.6" textLength="6.9" lengthAdjust="spacingAndGlyphs" class="s">DAC5</text>
<rect class="tb" x="989.25" y="433.25" width="4.2" height="7.5"/>
<text transform="translate(992.7 440.3) rotate(-90)" font-size="3.6" textLength="6.9" lengthAdjust="spacingAndGlyphs" class="s">DAC5</text>
<rect class="tb" x="993.25" y="429.75" width="20.0" height="3.5"/>
<text x="993.7" y="432.6" font-size="3.0" textLength="19.4" lengthAdjust="spacingAndGlyphs" class="s">DAR13DAR14</text>
<rect class="tb" x="993.25" y="433.75" width="20.0" height="3.5"/>
<text x="993.7" y="436.6" font-size="3.0" textLength="19.4" lengthAdjust="spacingAndGlyphs" class="s">DAR13DAR14</text>
<rect class="tb" x="993.25" y="437.75" width="20.0" height="3.5"/>
<text x="993.7" y="440.6" font-size="3.0" textLength="19.4" lengthAdjust="spacingAndGlyphs" class="s">DAR13DAR14</text>
<rect class="tb" x="1013.25" y="433.25" width="4.0" height="7.5"/>
<text transform="translate(1016.5 440.3) rotate(-90)" font-size="3.4" textLength="6.9" lengthAdjust="spacingAndGlyphs" class="s">DC2</text>
<rect class="tb" x="939.65" y="441.55" width="4.0" height="8.3"/>
<text transform="translate(942.9 449.4) rotate(-90)" font-size="3.4" textLength="7.7" lengthAdjust="spacingAndGlyphs" class="s">DAC6</text>
<rect class="tb" x="944.75" y="441.55" width="4.0" height="8.3"/>
<text transform="translate(948.0 449.4) rotate(-90)" font-size="3.4" textLength="7.7" lengthAdjust="spacingAndGlyphs" class="s">DAC6</text>
<rect class="tb" x="950.25" y="441.55" width="4.0" height="8.3"/>
<text transform="translate(953.5 449.4) rotate(-90)" font-size="3.4" textLength="7.7" lengthAdjust="spacingAndGlyphs" class="s">DAC6</text>
<rect class="tb" x="957.75" y="441.55" width="4.0" height="8.3"/>
<text transform="translate(961.0 449.4) rotate(-90)" font-size="3.4" textLength="7.7" lengthAdjust="spacingAndGlyphs" class="s">DAC6</text>
<rect class="tb" x="962.75" y="441.55" width="4.0" height="8.3"/>
<text transform="translate(966.0 449.4) rotate(-90)" font-size="3.4" textLength="7.7" lengthAdjust="spacingAndGlyphs" class="s">DAC6</text>
<rect class="tb" x="967.75" y="441.55" width="4.0" height="8.3"/>
<text transform="translate(971.0 449.4) rotate(-90)" font-size="3.4" textLength="7.7" lengthAdjust="spacingAndGlyphs" class="s">DAC6</text>
<rect class="tb" x="974.25" y="441.55" width="4.0" height="8.3"/>
<text transform="translate(977.5 449.4) rotate(-90)" font-size="3.4" textLength="7.7" lengthAdjust="spacingAndGlyphs" class="s">DAC6</text>
<rect class="tb" x="978.25" y="441.75" width="10.0" height="3.6"/>
<text x="978.7" y="444.7" font-size="3.1" textLength="9.4" lengthAdjust="spacingAndGlyphs" class="s">DAR15</text>
<rect class="tb" x="978.25" y="446.25" width="10.0" height="3.6"/>
<text x="978.7" y="449.2" font-size="3.1" textLength="9.4" lengthAdjust="spacingAndGlyphs" class="s">DAR15</text>
<rect class="tb" x="989.25" y="441.55" width="4.0" height="8.3"/>
<text transform="translate(992.5 449.4) rotate(-90)" font-size="3.4" textLength="7.7" lengthAdjust="spacingAndGlyphs" class="s">DC3</text>
<rect x="933.55" y="452.95" width="15.4" height="16.6"/>
<text transform="translate(933.9 456.7)" font-size="5" text-anchor="start" class="t m">DAQ3</text>
<rect class="tb" x="922.95" y="465.05" width="9.7" height="3.6"/>
<text x="923.4" y="468.0" font-size="3.1" textLength="9.1" lengthAdjust="spacingAndGlyphs" class="s">DAR16</text>
<rect class="tb" x="922.95" y="470.25" width="9.7" height="3.6"/>
<text x="923.4" y="473.2" font-size="3.1" textLength="9.1" lengthAdjust="spacingAndGlyphs" class="s">DAR16</text>
<rect class="tb" x="951.55" y="451.85" width="9.5" height="3.5"/>
<text x="952.0" y="454.7" font-size="3.0" textLength="8.9" lengthAdjust="spacingAndGlyphs" class="s">DAR17</text>
<rect class="tb" x="951.55" y="456.85" width="9.5" height="3.5"/>
<text x="952.0" y="459.7" font-size="3.0" textLength="8.9" lengthAdjust="spacingAndGlyphs" class="s">DAR17</text>
<rect class="tb" x="951.55" y="464.85" width="9.5" height="3.5"/>
<text x="952.0" y="467.7" font-size="3.0" textLength="8.9" lengthAdjust="spacingAndGlyphs" class="s">DAR17</text>
<rect class="tb" x="951.55" y="470.25" width="9.5" height="3.5"/>
<text x="952.0" y="473.1" font-size="3.0" textLength="8.9" lengthAdjust="spacingAndGlyphs" class="s">DAR17</text>
<rect class="tb" x="951.55" y="474.75" width="9.5" height="3.5"/>
<text x="952.0" y="477.6" font-size="3.0" textLength="8.9" lengthAdjust="spacingAndGlyphs" class="s">DAR17</text>
<rect class="tb" x="951.55" y="478.75" width="9.5" height="3.5"/>
<text x="952.0" y="481.6" font-size="3.0" textLength="8.9" lengthAdjust="spacingAndGlyphs" class="s">DAR17</text>
<rect class="tb" x="951.55" y="482.85" width="9.5" height="3.5"/>
<text x="952.0" y="485.7" font-size="3.0" textLength="8.9" lengthAdjust="spacingAndGlyphs" class="s">DAR17</text>
<rect class="tb" x="951.55" y="486.95" width="9.5" height="3.5"/>
<text x="952.0" y="489.8" font-size="3.0" textLength="8.9" lengthAdjust="spacingAndGlyphs" class="s">DAR17</text>
<rect class="tb" x="951.55" y="493.95" width="9.5" height="3.5"/>
<text x="952.0" y="496.8" font-size="3.0" textLength="8.9" lengthAdjust="spacingAndGlyphs" class="s">DAR17</text>
<rect class="tb" x="951.55" y="497.85" width="9.5" height="3.5"/>
<text x="952.0" y="500.7" font-size="3.0" textLength="8.9" lengthAdjust="spacingAndGlyphs" class="s">DAR17</text>
<rect class="tb" x="962.95" y="451.85" width="9.5" height="3.5"/>
<text x="963.4" y="454.7" font-size="3.0" textLength="8.9" lengthAdjust="spacingAndGlyphs" class="s">DAR18</text>
<rect class="tb" x="962.95" y="456.25" width="9.5" height="3.5"/>
<text x="963.4" y="459.1" font-size="3.0" textLength="8.9" lengthAdjust="spacingAndGlyphs" class="s">DAR18</text>
<rect class="tb" x="962.95" y="461.25" width="9.5" height="3.5"/>
<text x="963.4" y="464.1" font-size="3.0" textLength="8.9" lengthAdjust="spacingAndGlyphs" class="s">DAR18</text>
<rect class="tb" x="962.95" y="465.25" width="9.5" height="3.5"/>
<text x="963.4" y="468.1" font-size="3.0" textLength="8.9" lengthAdjust="spacingAndGlyphs" class="s">DAR18</text>
<rect class="tb" x="962.95" y="474.25" width="9.5" height="3.5"/>
<text x="963.4" y="477.1" font-size="3.0" textLength="8.9" lengthAdjust="spacingAndGlyphs" class="s">DAR18</text>
<rect class="tb" x="962.95" y="482.25" width="9.5" height="3.5"/>
<text x="963.4" y="485.1" font-size="3.0" textLength="8.9" lengthAdjust="spacingAndGlyphs" class="s">DAR18</text>
<rect class="tb" x="962.95" y="486.95" width="9.5" height="3.5"/>
<text x="963.4" y="489.8" font-size="3.0" textLength="8.9" lengthAdjust="spacingAndGlyphs" class="s">DAR18</text>
<rect class="tb" x="962.95" y="493.95" width="9.5" height="3.5"/>
<text x="963.4" y="496.8" font-size="3.0" textLength="8.9" lengthAdjust="spacingAndGlyphs" class="s">DAR18</text>
<rect class="tb" x="962.95" y="497.85" width="9.5" height="3.5"/>
<text x="963.4" y="500.7" font-size="3.0" textLength="8.9" lengthAdjust="spacingAndGlyphs" class="s">DAR18</text>
<rect class="tb" x="962.95" y="503.75" width="9.5" height="3.5"/>
<text x="963.4" y="506.6" font-size="3.0" textLength="8.9" lengthAdjust="spacingAndGlyphs" class="s">DAR18</text>
<rect class="tb" x="940.25" y="474.85" width="9.5" height="3.5"/>
<text x="940.7" y="477.7" font-size="3.0" textLength="8.9" lengthAdjust="spacingAndGlyphs" class="s">DAC7</text>
<rect class="tb" x="940.25" y="478.85" width="9.5" height="3.5"/>
<text x="940.7" y="481.7" font-size="3.0" textLength="8.9" lengthAdjust="spacingAndGlyphs" class="s">DAC7</text>
<rect class="tb" x="940.25" y="482.85" width="9.5" height="3.5"/>
<text x="940.7" y="485.7" font-size="3.0" textLength="8.9" lengthAdjust="spacingAndGlyphs" class="s">DAC7</text>
<rect class="tb" x="940.25" y="487.55" width="9.5" height="3.5"/>
<text x="940.7" y="490.4" font-size="3.0" textLength="8.9" lengthAdjust="spacingAndGlyphs" class="s">DAC7</text>
<rect x="983.45" y="452.45" width="35.8" height="31.5"/>
<text transform="translate(983.7 460.8)" font-size="9.24" text-anchor="start" class="t">DAU1</text>
<rect x="1025.25" y="444.85" width="14.5" height="4.6"/>
<text transform="translate(1025.6 448.6)" font-size="3.8" text-anchor="start" class="t b">DAC30</text>
<rect x="1025.25" y="450.25" width="14.5" height="5.0"/>
<text transform="translate(1025.6 454.4)" font-size="3.8" text-anchor="start" class="t b">DAC31</text>
<rect x="1040.55" y="443.25" width="5.3" height="12.7"/>
<text transform="translate(1044.7 455.3) rotate(-90) scale(1 1.13)" font-size="4.6" text-anchor="start" class="t m">DAC3</text>
<rect x="1046.55" y="444.25" width="15.2" height="5.6"/>
<text transform="translate(1046.9 449.0)" font-size="4.6" text-anchor="start" class="t m">DAR9</text>
<rect x="1046.55" y="450.65" width="15.2" height="5.6"/>
<text transform="translate(1046.9 455.4)" font-size="4.6" text-anchor="start" class="t m">DAR8</text>
<rect x="1041.25" y="458.65" width="5.8" height="12.4"/>
<text transform="translate(1046.0 470.4) rotate(-90) scale(1 1.13)" font-size="4.6" text-anchor="start" class="t m">DAC1</text>
<rect class="tb" x="1050.65" y="458.65" width="4.6" height="12.4"/>
<text transform="translate(1054.4 470.6) rotate(-90)" font-size="3.9" textLength="11.8" lengthAdjust="spacingAndGlyphs" class="s">DAR21</text>
<rect class="tb" x="1055.85" y="458.65" width="5.9" height="12.4"/>
<text transform="translate(1060.4 470.6) rotate(-90)" font-size="4.2" textLength="11.8" lengthAdjust="spacingAndGlyphs" class="s">DAR22</text>
<rect x="1039.75" y="471.85" width="14.5" height="4.8"/>
<text transform="translate(1040.1 475.8)" font-size="4.4" text-anchor="start" class="t b">DAC2</text>
<rect class="tb" x="1054.55" y="473.25" width="4.2" height="8.4"/>
<text transform="translate(1058.0 481.2) rotate(-90)" font-size="3.6" textLength="7.8" lengthAdjust="spacingAndGlyphs" class="s">DC4</text>
<rect x="1039.75" y="480.25" width="14.5" height="4.4"/>
<text transform="translate(1040.1 483.8)" font-size="3.6" text-anchor="start" class="t b">DAR23</text>
<rect class="tb" x="1039.05" y="487.25" width="9.8" height="3.5"/>
<text x="1039.5" y="490.1" font-size="3.0" textLength="9.2" lengthAdjust="spacingAndGlyphs" class="s">DAR24</text>
<rect class="tb" x="1050.65" y="487.25" width="9.6" height="3.5"/>
<text x="1051.1" y="490.1" font-size="3.0" textLength="9.0" lengthAdjust="spacingAndGlyphs" class="s">DAR25</text>
<rect class="tb" x="979.75" y="492.25" width="3.8" height="8.3"/>
<text transform="translate(982.9 500.1) rotate(-90)" font-size="3.2" textLength="7.7" lengthAdjust="spacingAndGlyphs" class="s">DAC8</text>
<rect class="tb" x="985.75" y="492.25" width="3.8" height="8.3"/>
<text transform="translate(988.9 500.1) rotate(-90)" font-size="3.2" textLength="7.7" lengthAdjust="spacingAndGlyphs" class="s">DAC8</text>
<rect class="tb" x="990.75" y="492.25" width="3.8" height="8.3"/>
<text transform="translate(993.9 500.1) rotate(-90)" font-size="3.2" textLength="7.7" lengthAdjust="spacingAndGlyphs" class="s">DAC8</text>
<rect class="tb" x="995.75" y="492.25" width="3.8" height="8.3"/>
<text transform="translate(998.9 500.1) rotate(-90)" font-size="3.2" textLength="7.7" lengthAdjust="spacingAndGlyphs" class="s">DAC8</text>
<rect class="tb" x="1000.25" y="492.25" width="3.8" height="8.3"/>
<text transform="translate(1003.4 500.1) rotate(-90)" font-size="3.2" textLength="7.7" lengthAdjust="spacingAndGlyphs" class="s">DAC8</text>
<rect class="tb" x="1004.75" y="492.25" width="3.8" height="8.3"/>
<text transform="translate(1007.9 500.1) rotate(-90)" font-size="3.2" textLength="7.7" lengthAdjust="spacingAndGlyphs" class="s">DAC8</text>
<rect class="tb" x="1009.25" y="492.25" width="3.8" height="8.3"/>
<text transform="translate(1012.4 500.1) rotate(-90)" font-size="3.2" textLength="7.7" lengthAdjust="spacingAndGlyphs" class="s">DAC8</text>
<rect class="tb" x="1012.85" y="492.25" width="10.1" height="3.6"/>
<text x="1013.3" y="495.2" font-size="3.1" textLength="9.5" lengthAdjust="spacingAndGlyphs" class="s">DAR26</text>
<rect class="tb" x="1012.85" y="496.55" width="10.1" height="3.6"/>
<text x="1013.3" y="499.5" font-size="3.1" textLength="9.5" lengthAdjust="spacingAndGlyphs" class="s">DAR26</text>
<rect class="tb" x="1024.65" y="492.25" width="3.8" height="8.3"/>
<text transform="translate(1027.8 500.1) rotate(-90)" font-size="3.2" textLength="7.7" lengthAdjust="spacingAndGlyphs" class="s">DAC9</text>
<rect class="tb" x="1030.75" y="492.25" width="3.8" height="8.3"/>
<text transform="translate(1033.9 500.1) rotate(-90)" font-size="3.2" textLength="7.7" lengthAdjust="spacingAndGlyphs" class="s">DAC9</text>
<rect class="tb" x="1037.25" y="492.25" width="3.8" height="8.3"/>
<text transform="translate(1040.4 500.1) rotate(-90)" font-size="3.2" textLength="7.7" lengthAdjust="spacingAndGlyphs" class="s">DAC9</text>
<rect class="tb" x="1041.25" y="492.25" width="3.8" height="8.3"/>
<text transform="translate(1044.4 500.1) rotate(-90)" font-size="3.2" textLength="7.7" lengthAdjust="spacingAndGlyphs" class="s">DAC9</text>
<rect class="tb" x="1045.25" y="492.25" width="3.8" height="8.3"/>
<text transform="translate(1048.4 500.1) rotate(-90)" font-size="3.2" textLength="7.7" lengthAdjust="spacingAndGlyphs" class="s">DAC9</text>
<rect class="tb" x="1052.25" y="492.25" width="3.8" height="8.3"/>
<text transform="translate(1055.4 500.1) rotate(-90)" font-size="3.2" textLength="7.7" lengthAdjust="spacingAndGlyphs" class="s">DAC9</text>
<rect class="tb" x="1056.55" y="492.25" width="3.8" height="8.3"/>
<text transform="translate(1059.7 500.1) rotate(-90)" font-size="3.2" textLength="7.7" lengthAdjust="spacingAndGlyphs" class="s">DAC9</text>
<rect class="tb" x="980.05" y="502.85" width="10.0" height="3.6"/>
<text x="980.5" y="505.8" font-size="3.1" textLength="9.4" lengthAdjust="spacingAndGlyphs" class="s">DAR27</text>
<rect class="tb" x="980.05" y="507.25" width="10.0" height="3.6"/>
<text x="980.5" y="510.2" font-size="3.1" textLength="9.4" lengthAdjust="spacingAndGlyphs" class="s">DAR27</text>
<rect class="tb" x="980.05" y="511.55" width="10.0" height="3.6"/>
<text x="980.5" y="514.5" font-size="3.1" textLength="9.4" lengthAdjust="spacingAndGlyphs" class="s">DAR27</text>
<rect class="tb" x="980.05" y="515.85" width="10.0" height="3.6"/>
<text x="980.5" y="518.8" font-size="3.1" textLength="9.4" lengthAdjust="spacingAndGlyphs" class="s">DAR27</text>
<rect class="tb" x="990.55" y="502.85" width="10.0" height="3.6"/>
<text x="991.0" y="505.8" font-size="3.1" textLength="9.4" lengthAdjust="spacingAndGlyphs" class="s">DAR27</text>
<rect class="tb" x="990.55" y="507.25" width="10.0" height="3.6"/>
<text x="991.0" y="510.2" font-size="3.1" textLength="9.4" lengthAdjust="spacingAndGlyphs" class="s">DAR27</text>
<rect class="tb" x="990.55" y="511.55" width="10.0" height="3.6"/>
<text x="991.0" y="514.5" font-size="3.1" textLength="9.4" lengthAdjust="spacingAndGlyphs" class="s">DAR27</text>
<rect class="tb" x="990.55" y="515.85" width="10.0" height="3.6"/>
<text x="991.0" y="518.8" font-size="3.1" textLength="9.4" lengthAdjust="spacingAndGlyphs" class="s">DAR27</text>
<rect class="tb" x="1001.25" y="502.85" width="10.0" height="3.6"/>
<text x="1001.7" y="505.8" font-size="3.1" textLength="9.4" lengthAdjust="spacingAndGlyphs" class="s">DAR27</text>
<rect class="tb" x="1001.25" y="507.25" width="10.0" height="3.6"/>
<text x="1001.7" y="510.2" font-size="3.1" textLength="9.4" lengthAdjust="spacingAndGlyphs" class="s">DAR27</text>
<rect class="tb" x="1001.25" y="511.55" width="10.0" height="3.6"/>
<text x="1001.7" y="514.5" font-size="3.1" textLength="9.4" lengthAdjust="spacingAndGlyphs" class="s">DAR27</text>
<rect class="tb" x="1001.25" y="515.85" width="10.0" height="3.6"/>
<text x="1001.7" y="518.8" font-size="3.1" textLength="9.4" lengthAdjust="spacingAndGlyphs" class="s">DAR27</text>
<rect class="tb" x="1012.25" y="502.85" width="10.0" height="3.6"/>
<text x="1012.7" y="505.8" font-size="3.1" textLength="9.4" lengthAdjust="spacingAndGlyphs" class="s">DAR27</text>
<rect class="tb" x="1012.25" y="507.25" width="10.0" height="3.6"/>
<text x="1012.7" y="510.2" font-size="3.1" textLength="9.4" lengthAdjust="spacingAndGlyphs" class="s">DAR27</text>
<rect class="tb" x="1012.25" y="511.55" width="10.0" height="3.6"/>
<text x="1012.7" y="514.5" font-size="3.1" textLength="9.4" lengthAdjust="spacingAndGlyphs" class="s">DAR27</text>
<rect class="tb" x="1012.25" y="515.85" width="10.0" height="3.6"/>
<text x="1012.7" y="518.8" font-size="3.1" textLength="9.4" lengthAdjust="spacingAndGlyphs" class="s">DAR27</text>
<rect class="tb" x="1023.25" y="502.85" width="10.0" height="3.6"/>
<text x="1023.7" y="505.8" font-size="3.1" textLength="9.4" lengthAdjust="spacingAndGlyphs" class="s">DAR27</text>
<rect class="tb" x="1023.25" y="507.25" width="10.0" height="3.6"/>
<text x="1023.7" y="510.2" font-size="3.1" textLength="9.4" lengthAdjust="spacingAndGlyphs" class="s">DAR27</text>
<rect class="tb" x="1023.25" y="511.55" width="10.0" height="3.6"/>
<text x="1023.7" y="514.5" font-size="3.1" textLength="9.4" lengthAdjust="spacingAndGlyphs" class="s">DAR27</text>
<rect class="tb" x="1023.25" y="515.85" width="10.0" height="3.6"/>
<text x="1023.7" y="518.8" font-size="3.1" textLength="9.4" lengthAdjust="spacingAndGlyphs" class="s">DAR27</text>
<rect class="tb" x="1012.25" y="519.65" width="10.0" height="3.6"/>
<text x="1012.7" y="522.6" font-size="3.1" textLength="9.4" lengthAdjust="spacingAndGlyphs" class="s">DAR28</text>
<rect class="tb" x="1035.75" y="501.25" width="3.8" height="8.0"/>
<text transform="translate(1038.9 508.8) rotate(-90)" font-size="3.2" textLength="7.4" lengthAdjust="spacingAndGlyphs" class="s">DAC10</text>
<rect class="tb" x="1040.25" y="501.25" width="3.8" height="8.0"/>
<text transform="translate(1043.4 508.8) rotate(-90)" font-size="3.2" textLength="7.4" lengthAdjust="spacingAndGlyphs" class="s">DAC10</text>
<rect class="tb" x="1044.75" y="501.25" width="3.8" height="8.0"/>
<text transform="translate(1047.9 508.8) rotate(-90)" font-size="3.2" textLength="7.4" lengthAdjust="spacingAndGlyphs" class="s">DAC10</text>
<rect class="tb" x="1049.25" y="501.25" width="3.8" height="8.0"/>
<text transform="translate(1052.4 508.8) rotate(-90)" font-size="3.2" textLength="7.4" lengthAdjust="spacingAndGlyphs" class="s">DAC10</text>
<rect class="tb" x="1053.75" y="501.25" width="3.8" height="8.0"/>
<text transform="translate(1056.9 508.8) rotate(-90)" font-size="3.2" textLength="7.4" lengthAdjust="spacingAndGlyphs" class="s">DAC10</text>
<rect class="tb" x="1057.95" y="501.25" width="3.8" height="8.0"/>
<text transform="translate(1061.1 508.8) rotate(-90)" font-size="3.2" textLength="7.4" lengthAdjust="spacingAndGlyphs" class="s">DAC10</text>
<rect class="tb" x="1035.75" y="510.25" width="3.8" height="8.8"/>
<text transform="translate(1038.9 518.6) rotate(-90)" font-size="3.2" textLength="8.2" lengthAdjust="spacingAndGlyphs" class="s">DAC11</text>
<rect class="tb" x="1040.25" y="510.25" width="3.8" height="8.8"/>
<text transform="translate(1043.4 518.6) rotate(-90)" font-size="3.2" textLength="8.2" lengthAdjust="spacingAndGlyphs" class="s">DAC11</text>
<rect class="tb" x="1044.75" y="510.25" width="3.8" height="8.8"/>
<text transform="translate(1047.9 518.6) rotate(-90)" font-size="3.2" textLength="8.2" lengthAdjust="spacingAndGlyphs" class="s">DAC11</text>
<rect class="tb" x="1049.25" y="510.25" width="3.8" height="8.8"/>
<text transform="translate(1052.4 518.6) rotate(-90)" font-size="3.2" textLength="8.2" lengthAdjust="spacingAndGlyphs" class="s">DAC11</text>
<rect class="tb" x="1053.75" y="510.25" width="3.8" height="8.8"/>
<text transform="translate(1056.9 518.6) rotate(-90)" font-size="3.2" textLength="8.2" lengthAdjust="spacingAndGlyphs" class="s">DAC11</text>
<rect class="tb" x="1057.95" y="510.25" width="3.8" height="8.8"/>
<text transform="translate(1061.1 518.6) rotate(-90)" font-size="3.2" textLength="8.2" lengthAdjust="spacingAndGlyphs" class="s">DAC11</text>
<rect x="990.55" y="520.05" width="20.9" height="16.1"/>
<text transform="translate(995.5 524.3)" font-size="5" text-anchor="start" class="t m">DAQ1</text>
<text transform="translate(994.0 535.3) rotate(-90)" font-size="3.4" textLength="14.9" lengthAdjust="spacingAndGlyphs" class="s">DAR29</text>
<rect x="1040.65" y="520.05" width="18.8" height="13.6"/>
<text transform="translate(1054.5 520.3) rotate(90) scale(1 1.13)" font-size="5" text-anchor="start" class="t m">DAQ2</text>
<rect class="tb" x="1028.95" y="522.25" width="4.4" height="9.0"/>
<text transform="translate(1032.5 530.8) rotate(-90)" font-size="3.7" textLength="8.4" lengthAdjust="spacingAndGlyphs" class="s">DAC12</text>
<rect class="tb" x="1033.95" y="522.25" width="4.4" height="9.0"/>
<text transform="translate(1037.5 530.8) rotate(-90)" font-size="3.7" textLength="8.4" lengthAdjust="spacingAndGlyphs" class="s">DAC12</text>
<rect class="tb" x="1028.75" y="532.55" width="9.8" height="3.7"/>
<text x="1029.2" y="535.6" font-size="3.1" textLength="9.2" lengthAdjust="spacingAndGlyphs" class="s">DAR30</text>
<rect class="tb" x="1028.75" y="537.05" width="9.8" height="3.7"/>
<text x="1029.2" y="540.1" font-size="3.1" textLength="9.2" lengthAdjust="spacingAndGlyphs" class="s">DAR30</text>
<rect class="tb" x="1028.75" y="541.45" width="9.8" height="3.7"/>
<text x="1029.2" y="544.5" font-size="3.1" textLength="9.2" lengthAdjust="spacingAndGlyphs" class="s">DAR30</text>
<rect class="tb" x="1028.75" y="545.85" width="9.8" height="3.7"/>
<text x="1029.2" y="548.9" font-size="3.1" textLength="9.2" lengthAdjust="spacingAndGlyphs" class="s">DAR30</text>
<rect class="tb" x="1028.75" y="550.25" width="9.8" height="3.7"/>
<text x="1029.2" y="553.3" font-size="3.1" textLength="9.2" lengthAdjust="spacingAndGlyphs" class="s">DAR30</text>
<rect class="tb" x="1027.05" y="556.25" width="6.2" height="13.4"/>
<text transform="translate(1031.7 569.2) rotate(-90)" font-size="4.2" textLength="12.8" lengthAdjust="spacingAndGlyphs" class="s">FNR16</text>
<rect x="1033.25" y="554.85" width="5.0" height="8.0"/>
<text transform="translate(1037.1 562.1) rotate(-90)" font-size="3.7" textLength="6.7" lengthAdjust="spacingAndGlyphs" class="s">FR1</text>
<rect x="1032.25" y="570.25" width="6.0" height="11.7"/>
<text transform="translate(1037.5 581.3) rotate(-90) scale(1 1.13)" font-size="4.2" text-anchor="start" class="t b">RN3</text>
<rect x="1038.55" y="533.65" width="30.2" height="47.9"/>
<text transform="translate(1059.8 534.4) rotate(90) scale(1 1.13)" font-size="9.85" text-anchor="start" class="t">CPU_FAN</text>
<rect class="tb" x="952.05" y="498.25" width="9.7" height="4.0"/>
<text x="952.5" y="501.5" font-size="3.4" textLength="9.1" lengthAdjust="spacingAndGlyphs" class="s">DAR31</text>
<rect class="tb" x="962.45" y="503.75" width="9.8" height="3.6"/>
<text x="962.9" y="506.7" font-size="3.1" textLength="9.2" lengthAdjust="spacingAndGlyphs" class="s">DAR32</text>
<rect x="386.25" y="589.55" width="682.5" height="29.2"/>
<rect x="386.25" y="627.45" width="682.5" height="29.0"/>
<line x1="1053.25" y1="617.05" x2="1068.75" y2="617.05"/>
<line x1="1053.25" y1="654.75" x2="1068.75" y2="654.75"/>
<text transform="translate(1068.0 590.3) rotate(180)" font-size="5.3" text-anchor="start" class="t m">DDR4_1</text>
<text transform="translate(1068.0 628.2) rotate(180)" font-size="5.3" text-anchor="start" class="t m">DDR4_2</text>
<rect class="tb" x="416.25" y="584.55" width="9.0" height="3.7"/>
<text x="416.7" y="587.6" font-size="3.1" textLength="8.4" lengthAdjust="spacingAndGlyphs" class="s">MR1</text>
<rect class="tb" x="426.95" y="584.55" width="9.3" height="3.7"/>
<text x="427.4" y="587.6" font-size="3.1" textLength="8.7" lengthAdjust="spacingAndGlyphs" class="s">MR2</text>
<rect class="tb" x="412.05" y="621.75" width="9.7" height="3.8"/>
<text x="412.5" y="624.9" font-size="3.2" textLength="9.1" lengthAdjust="spacingAndGlyphs" class="s">MR3</text>
<rect class="tb" x="433.65" y="621.75" width="9.6" height="3.8"/>
<text x="434.1" y="624.9" font-size="3.2" textLength="9.0" lengthAdjust="spacingAndGlyphs" class="s">MR4</text>
<rect class="tb" x="663.75" y="579.85" width="3.7" height="9.4"/>
<text transform="translate(666.8 588.8) rotate(-90)" font-size="3.1" textLength="8.8" lengthAdjust="spacingAndGlyphs" class="s">MC1</text>
<rect class="tb" x="670.05" y="579.85" width="3.7" height="9.4"/>
<text transform="translate(673.1 588.8) rotate(-90)" font-size="3.1" textLength="8.8" lengthAdjust="spacingAndGlyphs" class="s">MC1</text>
<rect class="tb" x="690.45" y="579.85" width="3.7" height="9.4"/>
<text transform="translate(693.5 588.8) rotate(-90)" font-size="3.1" textLength="8.8" lengthAdjust="spacingAndGlyphs" class="s">MC1</text>
<rect class="tb" x="735.95" y="579.85" width="3.7" height="9.4"/>
<text transform="translate(739.0 588.8) rotate(-90)" font-size="3.1" textLength="8.8" lengthAdjust="spacingAndGlyphs" class="s">MC1</text>
<rect class="tb" x="760.05" y="579.85" width="3.7" height="9.4"/>
<text transform="translate(763.1 588.8) rotate(-90)" font-size="3.1" textLength="8.8" lengthAdjust="spacingAndGlyphs" class="s">MC1</text>
<rect class="tb" x="784.55" y="579.85" width="3.7" height="9.4"/>
<text transform="translate(787.6 588.8) rotate(-90)" font-size="3.1" textLength="8.8" lengthAdjust="spacingAndGlyphs" class="s">MC1</text>
<rect class="tb" x="792.25" y="579.85" width="3.7" height="9.4"/>
<text transform="translate(795.3 588.8) rotate(-90)" font-size="3.1" textLength="8.8" lengthAdjust="spacingAndGlyphs" class="s">MC1</text>
<rect class="tb" x="628.65" y="620.85" width="10.2" height="3.9"/>
<text x="629.1" y="624.0" font-size="3.3" textLength="9.6" lengthAdjust="spacingAndGlyphs" class="s">MR5</text>
<rect class="tb" x="656.55" y="620.85" width="10.2" height="3.9"/>
<text x="657.0" y="624.0" font-size="3.3" textLength="9.6" lengthAdjust="spacingAndGlyphs" class="s">MR5</text>
<rect class="tb" x="670.05" y="620.85" width="10.2" height="3.9"/>
<text x="670.5" y="624.0" font-size="3.3" textLength="9.6" lengthAdjust="spacingAndGlyphs" class="s">MR5</text>
<rect class="tb" x="686.65" y="620.85" width="10.2" height="3.9"/>
<text x="687.1" y="624.0" font-size="3.3" textLength="9.6" lengthAdjust="spacingAndGlyphs" class="s">MR5</text>
<rect class="tb" x="717.05" y="620.85" width="10.2" height="3.9"/>
<text x="717.5" y="624.0" font-size="3.3" textLength="9.6" lengthAdjust="spacingAndGlyphs" class="s">MR5</text>
<rect class="tb" x="729.65" y="620.85" width="10.2" height="3.9"/>
<text x="730.1" y="624.0" font-size="3.3" textLength="9.6" lengthAdjust="spacingAndGlyphs" class="s">MR5</text>
<rect class="tb" x="749.25" y="620.85" width="10.2" height="3.9"/>
<text x="749.7" y="624.0" font-size="3.3" textLength="9.6" lengthAdjust="spacingAndGlyphs" class="s">MR5</text>
<rect class="tb" x="760.95" y="620.85" width="10.2" height="3.9"/>
<text x="761.4" y="624.0" font-size="3.3" textLength="9.6" lengthAdjust="spacingAndGlyphs" class="s">MR5</text>
<rect class="tb" x="776.65" y="620.85" width="10.2" height="3.9"/>
<text x="777.1" y="624.0" font-size="3.3" textLength="9.6" lengthAdjust="spacingAndGlyphs" class="s">MR5</text>
<rect class="tb" x="789.25" y="620.85" width="10.2" height="3.9"/>
<text x="789.7" y="624.0" font-size="3.3" textLength="9.6" lengthAdjust="spacingAndGlyphs" class="s">MR5</text>
<rect class="tb" x="992.65" y="621.25" width="10.5" height="3.5"/>
<text x="993.1" y="624.1" font-size="3.0" textLength="9.9" lengthAdjust="spacingAndGlyphs" class="s">MR6</text>
<rect x="1003.25" y="620.75" width="19.7" height="4.5"/>
<text transform="translate(1003.6 623.1)" font-size="3.2" text-anchor="start" class="t b">MRN1</text>
<rect class="tb" x="1024.25" y="621.25" width="10.0" height="3.5"/>
<text x="1024.7" y="624.1" font-size="3.0" textLength="9.4" lengthAdjust="spacingAndGlyphs" class="s">MR7</text>
<rect class="tb" x="1042.75" y="621.25" width="9.0" height="3.5"/>
<text x="1043.2" y="624.1" font-size="3.0" textLength="8.4" lengthAdjust="spacingAndGlyphs" class="s">MR8</text>
<rect class="tb" x="1052.25" y="621.25" width="9.0" height="3.5"/>
<text x="1052.7" y="624.1" font-size="3.0" textLength="8.4" lengthAdjust="spacingAndGlyphs" class="s">MR9</text>
<rect x="406.65" y="657.95" width="18.9" height="8.9" rx="3.5" ry="3.5"/>
<text transform="translate(424.8 662.6) rotate(180)" font-size="4.2" text-anchor="start" class="t b">MA_DC3</text>
<ellipse cx="675.1" cy="549.3" rx="15.4" ry="13.4"/>
<line x1="674.85" y1="536.15" x2="674.85" y2="562.45"/>
<line x1="663.66" y1="533.95" x2="663.66" y2="537.95"/>
<line x1="661.66" y1="535.95" x2="665.66" y2="535.95"/>
<text transform="translate(659.7 544.2)" font-size="9.13" text-anchor="start" class="t">MAEC3</text>
<rect class="tb" x="80.25" y="557.25" width="9.4" height="3.5"/>
<text x="80.7" y="560.1" font-size="3.0" textLength="8.8" lengthAdjust="spacingAndGlyphs" class="s">NR20</text>
<rect class="tb" x="80.25" y="571.75" width="9.4" height="3.5"/>
<text x="80.7" y="574.6" font-size="3.0" textLength="8.8" lengthAdjust="spacingAndGlyphs" class="s">NR20</text>
<rect class="tb" x="80.25" y="576.55" width="9.4" height="3.5"/>
<text x="80.7" y="579.4" font-size="3.0" textLength="8.8" lengthAdjust="spacingAndGlyphs" class="s">NR20</text>
<rect class="tb" x="80.25" y="588.75" width="9.4" height="3.5"/>
<text x="80.7" y="591.6" font-size="3.0" textLength="8.8" lengthAdjust="spacingAndGlyphs" class="s">NR20</text>
<rect class="tb" x="80.25" y="609.25" width="9.4" height="3.5"/>
<text x="80.7" y="612.1" font-size="3.0" textLength="8.8" lengthAdjust="spacingAndGlyphs" class="s">NR20</text>
<rect class="tb" x="80.25" y="615.25" width="9.4" height="3.5"/>
<text x="80.7" y="618.1" font-size="3.0" textLength="8.8" lengthAdjust="spacingAndGlyphs" class="s">NR20</text>
<rect class="tb" x="80.25" y="625.25" width="9.4" height="3.5"/>
<text x="80.7" y="628.1" font-size="3.0" textLength="8.8" lengthAdjust="spacingAndGlyphs" class="s">NR20</text>
<rect class="tb" x="80.25" y="633.55" width="9.4" height="3.5"/>
<text x="80.7" y="636.4" font-size="3.0" textLength="8.8" lengthAdjust="spacingAndGlyphs" class="s">NR20</text>
<rect class="tb" x="80.25" y="637.65" width="9.4" height="3.5"/>
<text x="80.7" y="640.5" font-size="3.0" textLength="8.8" lengthAdjust="spacingAndGlyphs" class="s">NR20</text>
<rect class="tb" x="80.25" y="641.65" width="9.4" height="3.5"/>
<text x="80.7" y="644.5" font-size="3.0" textLength="8.8" lengthAdjust="spacingAndGlyphs" class="s">NR20</text>
<rect class="tb" x="80.25" y="645.55" width="9.4" height="3.5"/>
<text x="80.7" y="648.4" font-size="3.0" textLength="8.8" lengthAdjust="spacingAndGlyphs" class="s">NR20</text>
<rect class="tb" x="80.25" y="649.45" width="9.4" height="3.5"/>
<text x="80.7" y="652.3" font-size="3.0" textLength="8.8" lengthAdjust="spacingAndGlyphs" class="s">NR20</text>
<rect class="tb" x="94.25" y="551.75" width="9.0" height="3.5"/>
<text x="94.7" y="554.6" font-size="3.0" textLength="8.4" lengthAdjust="spacingAndGlyphs" class="s">NR21</text>
<rect class="tb" x="94.25" y="572.25" width="9.0" height="3.5"/>
<text x="94.7" y="575.1" font-size="3.0" textLength="8.4" lengthAdjust="spacingAndGlyphs" class="s">NR21</text>
<rect class="tb" x="94.25" y="576.25" width="9.0" height="3.5"/>
<text x="94.7" y="579.1" font-size="3.0" textLength="8.4" lengthAdjust="spacingAndGlyphs" class="s">NR21</text>
<rect class="tb" x="94.25" y="580.25" width="9.0" height="3.5"/>
<text x="94.7" y="583.1" font-size="3.0" textLength="8.4" lengthAdjust="spacingAndGlyphs" class="s">NR21</text>
<rect class="tb" x="94.25" y="592.65" width="9.0" height="3.5"/>
<text x="94.7" y="595.5" font-size="3.0" textLength="8.4" lengthAdjust="spacingAndGlyphs" class="s">NR21</text>
<rect class="tb" x="94.25" y="598.75" width="9.0" height="3.5"/>
<text x="94.7" y="601.6" font-size="3.0" textLength="8.4" lengthAdjust="spacingAndGlyphs" class="s">NR21</text>
<rect class="tb" x="94.25" y="603.25" width="9.0" height="3.5"/>
<text x="94.7" y="606.1" font-size="3.0" textLength="8.4" lengthAdjust="spacingAndGlyphs" class="s">NR21</text>
<rect class="tb" x="94.25" y="608.75" width="9.0" height="3.5"/>
<text x="94.7" y="611.6" font-size="3.0" textLength="8.4" lengthAdjust="spacingAndGlyphs" class="s">NR21</text>
<rect class="tb" x="94.25" y="635.25" width="9.0" height="3.5"/>
<text x="94.7" y="638.1" font-size="3.0" textLength="8.4" lengthAdjust="spacingAndGlyphs" class="s">NR21</text>
<rect class="tb" x="94.25" y="639.45" width="9.0" height="3.5"/>
<text x="94.7" y="642.3" font-size="3.0" textLength="8.4" lengthAdjust="spacingAndGlyphs" class="s">NR21</text>
<rect class="tb" x="94.25" y="643.75" width="9.0" height="3.5"/>
<text x="94.7" y="646.6" font-size="3.0" textLength="8.4" lengthAdjust="spacingAndGlyphs" class="s">NR21</text>
<rect x="80.25" y="597.65" width="9.4" height="9.3"/>
<text transform="translate(92.1 606.5) rotate(-90)" font-size="2.5" textLength="8.7" lengthAdjust="spacingAndGlyphs" class="s">NC1</text>
<rect x="92.85" y="613.05" width="9.8" height="9.6"/>
<text transform="translate(95.6 622.2) rotate(-90)" font-size="2.9" textLength="9.0" lengthAdjust="spacingAndGlyphs" class="s">NC2</text>
<rect class="tb" x="98.25" y="623.55" width="4.0" height="8.4"/>
<text transform="translate(101.5 631.5) rotate(-90)" font-size="3.4" textLength="7.8" lengthAdjust="spacingAndGlyphs" class="s">NC3</text>
<rect x="110.95" y="642.25" width="10.8" height="10.6"/>
<text x="111.7" y="651.9" font-size="3.0" textLength="9.6" lengthAdjust="spacingAndGlyphs" class="s">NRN0</text>
<rect x="124.02" y="642.25" width="10.8" height="10.6"/>
<text x="124.8" y="651.9" font-size="3.0" textLength="9.6" lengthAdjust="spacingAndGlyphs" class="s">NRN1</text>
<rect x="137.09" y="642.25" width="10.8" height="10.6"/>
<text x="137.8" y="651.9" font-size="3.0" textLength="9.6" lengthAdjust="spacingAndGlyphs" class="s">NRN2</text>
<rect x="150.16" y="642.25" width="10.8" height="10.6"/>
<text x="150.9" y="651.9" font-size="3.0" textLength="9.6" lengthAdjust="spacingAndGlyphs" class="s">NRN3</text>
<rect x="163.23" y="642.25" width="10.8" height="10.6"/>
<text x="164.0" y="651.9" font-size="3.0" textLength="9.6" lengthAdjust="spacingAndGlyphs" class="s">NRN4</text>
<rect x="176.30" y="642.25" width="10.8" height="10.6"/>
<text x="177.1" y="651.9" font-size="3.0" textLength="9.6" lengthAdjust="spacingAndGlyphs" class="s">NRN5</text>
<rect class="tb" x="105.75" y="634.65" width="3.5" height="8.6"/>
<text transform="translate(108.6 642.8) rotate(-90)" font-size="3.0" textLength="8.0" lengthAdjust="spacingAndGlyphs" class="s">NC4</text>
<rect class="tb" x="105.75" y="643.55" width="3.5" height="8.7"/>
<text transform="translate(108.6 651.8) rotate(-90)" font-size="3.0" textLength="8.1" lengthAdjust="spacingAndGlyphs" class="s">NC5</text>
<rect class="tb" x="190.65" y="635.65" width="3.8" height="8.2"/>
<text transform="translate(193.8 643.4) rotate(-90)" font-size="3.2" textLength="7.6" lengthAdjust="spacingAndGlyphs" class="s">NC6</text>
<rect class="tb" x="195.65" y="635.65" width="3.8" height="8.2"/>
<text transform="translate(198.8 643.4) rotate(-90)" font-size="3.2" textLength="7.6" lengthAdjust="spacingAndGlyphs" class="s">NC6</text>
<rect class="tb" x="190.65" y="644.25" width="3.8" height="8.0"/>
<text transform="translate(193.8 651.8) rotate(-90)" font-size="3.2" textLength="7.4" lengthAdjust="spacingAndGlyphs" class="s">NC7</text>
<rect class="tb" x="195.65" y="644.25" width="3.8" height="8.0"/>
<text transform="translate(198.8 651.8) rotate(-90)" font-size="3.2" textLength="7.4" lengthAdjust="spacingAndGlyphs" class="s">NC7</text>
<rect class="tb" x="43.75" y="547.25" width="9.8" height="3.6"/>
<text x="44.2" y="550.2" font-size="3.1" textLength="9.2" lengthAdjust="spacingAndGlyphs" class="s">NR30</text>
<rect class="tb" x="43.75" y="557.85" width="9.8" height="3.6"/>
<text x="44.2" y="560.8" font-size="3.1" textLength="9.2" lengthAdjust="spacingAndGlyphs" class="s">NR30</text>
<rect class="tb" x="43.75" y="574.55" width="9.8" height="3.6"/>
<text x="44.2" y="577.5" font-size="3.1" textLength="9.2" lengthAdjust="spacingAndGlyphs" class="s">NR30</text>
<rect class="tb" x="48.75" y="566.25" width="3.9" height="7.0"/>
<text transform="translate(51.9 572.8) rotate(-90)" font-size="3.3" textLength="6.4" lengthAdjust="spacingAndGlyphs" class="s">NC8</text>
<rect class="tb" x="62.65" y="548.05" width="9.3" height="3.5"/>
<text x="63.1" y="550.9" font-size="3.0" textLength="8.7" lengthAdjust="spacingAndGlyphs" class="s">NR31</text>
<rect x="59.85" y="551.25" width="12.1" height="10.3"/>
<text transform="translate(62.9 561.1) rotate(-90)" font-size="3.1" textLength="9.7" lengthAdjust="spacingAndGlyphs" class="s">NC9</text>
<rect class="tb" x="60.25" y="565.75" width="9.4" height="3.8"/>
<text x="60.7" y="568.9" font-size="3.2" textLength="8.8" lengthAdjust="spacingAndGlyphs" class="s">NR32</text>
<rect x="61.95" y="571.25" width="11.8" height="9.7"/>
<text transform="translate(64.9 580.5) rotate(-90)" font-size="3.1" textLength="9.1" lengthAdjust="spacingAndGlyphs" class="s">NC10</text>
<rect x="50.25" y="580.65" width="12.0" height="10.0"/>
<rect x="50.25" y="590.65" width="12.0" height="10.1"/>
<text transform="translate(53.2 590.2) rotate(-90)" font-size="3.1" textLength="9.4" lengthAdjust="spacingAndGlyphs" class="s">NQ2</text>
<text transform="translate(53.2 600.3) rotate(-90)" font-size="3.1" textLength="9.5" lengthAdjust="spacingAndGlyphs" class="s">NQ3</text>
<rect class="tb" x="65.05" y="587.05" width="9.2" height="3.5"/>
<text x="65.5" y="589.9" font-size="3.0" textLength="8.6" lengthAdjust="spacingAndGlyphs" class="s">NR33</text>
<rect class="tb" x="65.05" y="591.25" width="9.2" height="3.5"/>
<text x="65.5" y="594.1" font-size="3.0" textLength="8.6" lengthAdjust="spacingAndGlyphs" class="s">NR33</text>
<rect class="tb" x="65.05" y="602.25" width="9.2" height="3.5"/>
<text x="65.5" y="605.1" font-size="3.0" textLength="8.6" lengthAdjust="spacingAndGlyphs" class="s">NR33</text>
<rect class="tb" x="65.05" y="610.25" width="9.2" height="3.5"/>
<text x="65.5" y="613.1" font-size="3.0" textLength="8.6" lengthAdjust="spacingAndGlyphs" class="s">NR33</text>
<rect class="tb" x="51.75" y="606.55" width="9.5" height="3.5"/>
<text x="52.2" y="609.4" font-size="3.0" textLength="8.9" lengthAdjust="spacingAndGlyphs" class="s">NR34</text>
<rect class="tb" x="51.75" y="611.65" width="9.5" height="3.5"/>
<text x="52.2" y="614.5" font-size="3.0" textLength="8.9" lengthAdjust="spacingAndGlyphs" class="s">NR34</text>
<rect class="tb" x="51.75" y="616.75" width="9.5" height="3.5"/>
<text x="52.2" y="619.6" font-size="3.0" textLength="8.9" lengthAdjust="spacingAndGlyphs" class="s">NR34</text>
<rect class="tb" x="64.15" y="625.25" width="9.6" height="3.5"/>
<text x="64.6" y="628.1" font-size="3.0" textLength="9.0" lengthAdjust="spacingAndGlyphs" class="s">NR35</text>
<rect class="tb" x="64.15" y="629.75" width="9.6" height="3.5"/>
<text x="64.6" y="632.6" font-size="3.0" textLength="9.0" lengthAdjust="spacingAndGlyphs" class="s">NR35</text>
<rect class="tb" x="64.15" y="637.25" width="9.6" height="3.5"/>
<text x="64.6" y="640.1" font-size="3.0" textLength="9.0" lengthAdjust="spacingAndGlyphs" class="s">NR35</text>
<rect x="17.45" y="630.05" width="25.4" height="11.2"/>
<text x="30.7" y="640.5" font-size="2.5" textLength="11.4" lengthAdjust="spacingAndGlyphs" class="s">SPKR_C</text>
<text transform="translate(4.6 652.2)" font-size="8.42" text-anchor="start" class="t">F_PANEL</text>
<line x1="8.55" y1="644.65" x2="8.55" y2="753.95"/>
<line x1="15.45" y1="644.65" x2="15.45" y2="753.95"/>
<line x1="0.25" y1="644.65" x2="15.45" y2="644.65"/>
<line x1="0.25" y1="666.95" x2="15.45" y2="666.95"/>
<line x1="0.25" y1="687.85" x2="15.45" y2="687.85"/>
<line x1="0.25" y1="709.55" x2="15.45" y2="709.55"/>
<line x1="0.25" y1="720.65" x2="15.45" y2="720.65"/>
<line x1="0.25" y1="753.95" x2="15.45" y2="753.95"/>
<rect x="16.95" y="649.25" width="26.8" height="110.3"/>
<rect x="16.95" y="649.25" width="13.3" height="11.0"/>
<rect x="32.65" y="641.75" width="27.6" height="5.9"/>
<text transform="translate(47.0 646.8)" font-size="5.2" text-anchor="start" class="t m">FPR1</text>
<text x="33.7" y="645.5" font-size="3.4" textLength="12.4" lengthAdjust="spacingAndGlyphs" class="s">FPR2R</text>
<text x="22.7" y="646.0" font-size="2.8" textLength="8.9" lengthAdjust="spacingAndGlyphs" class="s">FPC</text>
<rect class="tb" x="44.65" y="650.75" width="19.6" height="3.5"/>
<text x="45.1" y="653.6" font-size="3.0" textLength="19.0" lengthAdjust="spacingAndGlyphs" class="s">FPR3FPR4</text>
<rect class="tb" x="65.25" y="650.25" width="9.4" height="3.5"/>
<text x="65.7" y="653.1" font-size="3.0" textLength="8.8" lengthAdjust="spacingAndGlyphs" class="s">FPR5</text>
<rect class="tb" x="65.25" y="653.95" width="9.4" height="3.5"/>
<text x="65.7" y="656.8" font-size="3.0" textLength="8.8" lengthAdjust="spacingAndGlyphs" class="s">FPR5</text>
<rect x="44.65" y="655.95" width="19.9" height="13.0"/>
<text transform="translate(45.0 659.8)" font-size="5.1" text-anchor="start" class="t m">FPESD1</text>
<rect class="tb" x="65.25" y="661.55" width="9.4" height="3.5"/>
<text x="65.7" y="664.4" font-size="3.0" textLength="8.8" lengthAdjust="spacingAndGlyphs" class="s">FPR6</text>
<rect class="tb" x="65.25" y="666.05" width="9.4" height="3.5"/>
<text x="65.7" y="668.9" font-size="3.0" textLength="8.8" lengthAdjust="spacingAndGlyphs" class="s">FPR6</text>
<rect x="76.25" y="659.25" width="10.0" height="9.7"/>
<text x="77.0" y="662.2" font-size="2.7" textLength="8.8" lengthAdjust="spacingAndGlyphs" class="s">FPR7</text>
<rect class="tb" x="44.65" y="669.85" width="19.6" height="3.7"/>
<text x="45.1" y="672.9" font-size="3.1" textLength="19.0" lengthAdjust="spacingAndGlyphs" class="s">FPR8FPR9</text>
<rect class="tb" x="65.25" y="669.85" width="9.4" height="3.7"/>
<text x="65.7" y="672.9" font-size="3.1" textLength="8.8" lengthAdjust="spacingAndGlyphs" class="s">FPR10</text>
<rect class="tb" x="76.25" y="669.85" width="6.5" height="3.4"/>
<text x="76.7" y="672.6" font-size="2.9" textLength="5.9" lengthAdjust="spacingAndGlyphs" class="s">FP1</text>
<rect x="44.65" y="674.85" width="17.6" height="13.4"/>
<text transform="translate(48.8 687.6) rotate(-90) scale(1 1.13)" font-size="5" text-anchor="start" class="t m">FPQ6</text>
<rect x="44.65" y="689.65" width="17.6" height="13.4"/>
<text transform="translate(48.8 702.4) rotate(-90) scale(1 1.13)" font-size="5" text-anchor="start" class="t m">FPQ5</text>
<rect x="63.25" y="689.65" width="18.5" height="13.4"/>
<text transform="translate(67.4 702.4) rotate(-90) scale(1 1.13)" font-size="5" text-anchor="start" class="t m">FPQ7</text>
<rect x="44.65" y="703.05" width="25.0" height="9.8"/>
<text transform="translate(45.4 711.0)" font-size="8.12" text-anchor="start" class="t">FPD1</text>
<rect class="tb" x="71.55" y="703.95" width="3.7" height="7.3"/>
<text transform="translate(74.6 710.8) rotate(-90)" font-size="3.1" textLength="6.7" lengthAdjust="spacingAndGlyphs" class="s">FC1</text>
<rect class="tb" x="76.25" y="703.95" width="3.7" height="7.3"/>
<text transform="translate(79.3 710.8) rotate(-90)" font-size="3.1" textLength="6.7" lengthAdjust="spacingAndGlyphs" class="s">FC1</text>
<rect x="81.75" y="682.65" width="10.2" height="16.6" rx="3.5" ry="3.5"/>
<text transform="translate(89.3 698.0) rotate(-90) scale(1 1.13)" font-size="4.8" text-anchor="start" class="t m">NBC8</text>
<rect class="tb" x="82.25" y="701.75" width="9.3" height="3.5"/>
<text x="82.7" y="704.6" font-size="3.0" textLength="8.7" lengthAdjust="spacingAndGlyphs" class="s">NR40</text>
<rect class="tb" x="82.25" y="706.75" width="9.3" height="3.5"/>
<text x="82.7" y="709.6" font-size="3.0" textLength="8.7" lengthAdjust="spacingAndGlyphs" class="s">NR40</text>
<rect x="92.25" y="675.65" width="34.9" height="38.9"/>
<text transform="translate(92.6 685.8)" font-size="9.54" text-anchor="start" class="t">NQ9</text>
<rect class="tb" x="98.25" y="715.65" width="9.4" height="3.6"/>
<text x="98.7" y="718.6" font-size="3.1" textLength="8.8" lengthAdjust="spacingAndGlyphs" class="s">NR41</text>
<rect class="tb" x="110.85" y="715.65" width="9.2" height="3.6"/>
<text x="111.3" y="718.6" font-size="3.1" textLength="8.6" lengthAdjust="spacingAndGlyphs" class="s">NR42</text>
<rect x="128.05" y="682.65" width="43.5" height="38.0"/>
<text transform="translate(162.8 683.3) rotate(90) scale(1 1.13)" font-size="9.03" text-anchor="start" class="t">NPL2</text>
<rect class="tb" x="163.25" y="673.75" width="3.4" height="7.1"/>
<text transform="translate(166.0 680.4) rotate(-90)" font-size="2.9" textLength="6.5" lengthAdjust="spacingAndGlyphs" class="s">NC12</text>
<rect class="tb" x="167.45" y="673.75" width="3.4" height="7.1"/>
<text transform="translate(170.2 680.4) rotate(-90)" font-size="2.9" textLength="6.5" lengthAdjust="spacingAndGlyphs" class="s">NC12</text>
<rect x="118.75" y="658.75" width="9.8" height="10.5"/>
<text x="119.5" y="668.3" font-size="2.9" textLength="8.6" lengthAdjust="spacingAndGlyphs" class="s">NRN8</text>
<rect x="130.75" y="657.85" width="17.5" height="13.9"/>
<text transform="translate(135.0 671.0) rotate(-90) scale(1 1.13)" font-size="4.8" text-anchor="start" class="t m">UXQ8</text>
<rect class="tb" x="149.85" y="659.65" width="4.2" height="10.2"/>
<text transform="translate(153.3 669.4) rotate(-90)" font-size="3.6" textLength="9.6" lengthAdjust="spacingAndGlyphs" class="s">NRC1</text>
<rect class="tb" x="154.25" y="659.65" width="4.2" height="10.2"/>
<text transform="translate(157.7 669.4) rotate(-90)" font-size="3.6" textLength="9.6" lengthAdjust="spacingAndGlyphs" class="s">NRC1</text>
<rect x="161.75" y="658.75" width="9.8" height="10.8"/>
<text x="162.5" y="668.6" font-size="3.0" textLength="8.6" lengthAdjust="spacingAndGlyphs" class="s">NRN9</text>
<rect x="135.25" y="672.25" width="18.7" height="7.0" rx="3.5" ry="3.5"/>
<text transform="translate(136.0 677.7)" font-size="5.2" text-anchor="start" class="t m">NPC10</text>
<ellipse cx="79.5" cy="737.0" rx="27.3" ry="24.7"/>
<ellipse cx="111.2" cy="738.1" rx="8.2" ry="7.2"/>
<rect class="tb" x="44.65" y="714.25" width="4.1" height="13.0"/>
<text transform="translate(48.0 726.8) rotate(-90)" font-size="3.5" textLength="12.4" lengthAdjust="spacingAndGlyphs" class="s">FPRN1</text>
<rect class="tb" x="44.65" y="727.25" width="4.1" height="13.0"/>
<text transform="translate(48.0 739.8) rotate(-90)" font-size="3.5" textLength="12.4" lengthAdjust="spacingAndGlyphs" class="s">FPRN2</text>
<rect class="tb" x="44.65" y="745.95" width="8.4" height="3.6"/>
<text x="45.1" y="748.9" font-size="3.1" textLength="7.8" lengthAdjust="spacingAndGlyphs" class="s">FR11</text>
<rect class="tb" x="44.65" y="751.25" width="8.4" height="3.6"/>
<text x="45.1" y="754.2" font-size="3.1" textLength="7.8" lengthAdjust="spacingAndGlyphs" class="s">FR11</text>
<rect class="tb" x="128.05" y="722.45" width="2.9" height="7.4"/>
<text transform="translate(130.4 729.4) rotate(-90)" font-size="2.5" textLength="6.8" lengthAdjust="spacingAndGlyphs" class="s">NC13</text>
<rect class="tb" x="134.25" y="722.45" width="2.9" height="7.4"/>
<text transform="translate(136.6 729.4) rotate(-90)" font-size="2.5" textLength="6.8" lengthAdjust="spacingAndGlyphs" class="s">NC13</text>
<rect class="tb" x="138.25" y="722.45" width="2.9" height="7.4"/>
<text transform="translate(140.6 729.4) rotate(-90)" font-size="2.5" textLength="6.8" lengthAdjust="spacingAndGlyphs" class="s">NC13</text>
<rect class="tb" x="142.85" y="722.45" width="2.9" height="7.4"/>
<text transform="translate(145.2 729.4) rotate(-90)" font-size="2.5" textLength="6.8" lengthAdjust="spacingAndGlyphs" class="s">NC13</text>
<rect x="147.85" y="721.95" width="13.4" height="4.8"/>
<text transform="translate(148.2 725.9)" font-size="4.6" text-anchor="start" class="t m">NPR6</text>
<rect class="tb" x="163.25" y="722.25" width="2.8" height="8.0"/>
<text transform="translate(165.6 729.8) rotate(-90)" font-size="2.4" textLength="7.4" lengthAdjust="spacingAndGlyphs" class="s">NC14</text>
<rect x="128.05" y="731.75" width="15.2" height="15.7"/>
<rect x="143.25" y="731.75" width="16.3" height="15.7"/>
<text transform="translate(142.7 743.0) rotate(180)" font-size="5" text-anchor="start" class="t m">NPQP3</text>
<text transform="translate(159.0 743.0) rotate(180)" font-size="5" text-anchor="start" class="t m">NPQP2</text>
<rect class="tb" x="161.25" y="739.65" width="3.4" height="7.6"/>
<text transform="translate(164.0 746.8) rotate(-90)" font-size="2.9" textLength="7.0" lengthAdjust="spacingAndGlyphs" class="s">NC15</text>
<rect class="tb" x="226.25" y="566.95" width="10.0" height="3.8"/>
<text x="226.7" y="570.1" font-size="3.2" textLength="9.4" lengthAdjust="spacingAndGlyphs" class="s">NR50</text>
<rect x="255.55" y="611.55" width="10.0" height="16.7" rx="3.5" ry="3.5"/>
<text transform="translate(262.8 627.3) rotate(-90) scale(1 1.13)" font-size="4" text-anchor="start" class="t b">NBC134</text>
<rect x="267.25" y="611.55" width="10.0" height="16.7" rx="3.5" ry="3.5"/>
<text transform="translate(274.5 627.3) rotate(-90) scale(1 1.13)" font-size="4" text-anchor="start" class="t b">NBC135</text>
<rect x="271.25" y="636.65" width="10.5" height="16.6" rx="3.5" ry="3.5"/>
<text transform="translate(278.7 652.3) rotate(-90) scale(1 1.13)" font-size="4" text-anchor="start" class="t b">NBC132</text>
<path d="M273.5 660.9 H259 Q255.5 660.9 255.5 656 Q255.5 650.9 259 650.9 H271.5" />
<text transform="translate(273.0 657.1) rotate(180)" font-size="4" text-anchor="start" class="t b">NBC133</text>
<rect x="161.65" y="642.55" width="11.6" height="10.7"/>
<text x="162.4" y="652.3" font-size="2.9" textLength="10.4" lengthAdjust="spacingAndGlyphs" class="s">NRN6</text>
<rect x="176.25" y="642.55" width="11.0" height="10.7"/>
<text x="177.0" y="652.3" font-size="2.9" textLength="9.8" lengthAdjust="spacingAndGlyphs" class="s">NRN7</text>
<rect x="202.05" y="636.65" width="11.2" height="10.6"/>
<text transform="translate(202.4 646.4)" font-size="3.4" text-anchor="start" class="t b">NRN5</text>
<rect class="tb" x="216.25" y="639.85" width="4.4" height="7.4"/>
<text transform="translate(219.8 646.8) rotate(-90)" font-size="3.7" textLength="6.8" lengthAdjust="spacingAndGlyphs" class="s">NC20</text>
<rect class="tb" x="221.75" y="639.85" width="4.4" height="7.4"/>
<text transform="translate(225.3 646.8) rotate(-90)" font-size="3.7" textLength="6.8" lengthAdjust="spacingAndGlyphs" class="s">NC20</text>
<rect class="tb" x="227.25" y="639.85" width="4.4" height="7.4"/>
<text transform="translate(230.8 646.8) rotate(-90)" font-size="3.7" textLength="6.8" lengthAdjust="spacingAndGlyphs" class="s">NC20</text>
<rect class="tb" x="232.95" y="639.85" width="4.4" height="7.4"/>
<text transform="translate(236.5 646.8) rotate(-90)" font-size="3.7" textLength="6.8" lengthAdjust="spacingAndGlyphs" class="s">NC20</text>
<rect x="161.65" y="658.75" width="10.6" height="10.8"/>
<ellipse cx="192.5" cy="677.4" rx="21.0" ry="18.2"/>
<line x1="192.25" y1="659.45" x2="192.25" y2="695.35"/>
<text transform="translate(172.2 666.8)" font-size="9.34" text-anchor="start" class="t">NPEC2</text>
<rect x="172.25" y="694.25" width="28.5" height="32.0"/>
<text transform="translate(172.6 704.5)" font-size="9.54" text-anchor="start" class="t">NPQ2</text>
<rect x="202.05" y="693.25" width="35.7" height="25.7"/>
<text transform="translate(229.0 694.0) rotate(90) scale(1 1.13)" font-size="9.13" text-anchor="start" class="t">NPQ1</text>
<ellipse cx="255.1" cy="706.3" rx="15.5" ry="13.0"/>
<text transform="translate(239.0 700.2)" font-size="8.98" text-anchor="start" class="t">NPEC1</text>
<rect x="271.75" y="686.25" width="36.5" height="18.0"/>
<line x1="293.25" y1="686.25" x2="293.25" y2="704.25"/>
<text transform="translate(273.4 695.9)" font-size="9.64" text-anchor="start" class="t">NPD2</text>
<rect x="316.05" y="686.25" width="14.8" height="30.0"/>
<line x1="316.05" y1="699.25" x2="330.85" y2="699.25"/>
<text transform="translate(324.8 716.0) rotate(-90) scale(1 1.13)" font-size="9.39" text-anchor="start" class="t">NPD1</text>
<ellipse cx="299.2" cy="737.1" rx="28.0" ry="24.7"/>
<polyline points="252.25,721.75 256.65,721.75 256.65,742.25 252.25,742.25"/>
<text transform="translate(246.4 742.0) rotate(-90) scale(1 1.13)" font-size="7.51" text-anchor="start" class="t">NPL1</text>
<rect class="tb" x="257.25" y="735.25" width="5.0" height="8.6"/>
<text transform="translate(261.3 743.4) rotate(-90)" font-size="4.2" textLength="8.0" lengthAdjust="spacingAndGlyphs" class="s">NC21</text>
<rect x="229.05" y="745.95" width="14.2" height="6.5"/>
<text transform="translate(242.4 748.2) rotate(180)" font-size="4.8" text-anchor="start" class="t m">NPS1</text>
<rect x="243.95" y="745.95" width="17.3" height="6.5"/>
<text transform="translate(260.4 748.2) rotate(180)" font-size="4.8" text-anchor="start" class="t m">NPR22</text>
<rect x="231.75" y="720.25" width="6.0" height="12.8"/>
<text transform="translate(236.7 732.4) rotate(-90) scale(1 1.13)" font-size="4.4" text-anchor="start" class="t b">NPQ4</text>
<rect x="231.75" y="733.55" width="6.0" height="12.2"/>
<text transform="translate(236.7 745.2) rotate(-90) scale(1 1.13)" font-size="4.4" text-anchor="start" class="t b">NPQ3</text>
<rect x="213.25" y="720.85" width="13.0" height="4.4"/>
<text transform="translate(213.6 724.4)" font-size="3.8" text-anchor="start" class="t b">NPQP1</text>
<rect x="212.25" y="726.25" width="12.8" height="6.0"/>
<text transform="translate(212.6 730.0)" font-size="5" text-anchor="start" class="t m">NPC</text>
<rect x="205.65" y="732.25" width="20.6" height="14.3"/>
<text transform="translate(220.8 732.5) rotate(90) scale(1 1.13)" font-size="5" text-anchor="start" class="t m">NPU1</text>
<rect class="tb" x="202.05" y="720.25" width="9.5" height="4.0"/>
<text x="202.5" y="723.5" font-size="3.4" textLength="8.9" lengthAdjust="spacingAndGlyphs" class="s">NPR1</text>
<rect class="tb" x="194.55" y="728.25" width="9.7" height="3.8"/>
<text x="195.0" y="731.4" font-size="3.2" textLength="9.1" lengthAdjust="spacingAndGlyphs" class="s">NPR2</text>
<rect class="tb" x="194.55" y="733.85" width="9.7" height="3.8"/>
<text x="195.0" y="737.0" font-size="3.2" textLength="9.1" lengthAdjust="spacingAndGlyphs" class="s">NPR2</text>
<rect class="tb" x="194.55" y="741.95" width="9.7" height="3.8"/>
<text x="195.0" y="745.1" font-size="3.2" textLength="9.1" lengthAdjust="spacingAndGlyphs" class="s">NPR2</text>
<rect class="tb" x="188.05" y="740.55" width="4.6" height="9.5"/>
<text transform="translate(191.8 749.6) rotate(-90)" font-size="3.9" textLength="8.9" lengthAdjust="spacingAndGlyphs" class="s">NPC5</text>
<rect class="tb" x="193.95" y="748.25" width="18.9" height="4.0"/>
<text x="194.4" y="751.5" font-size="3.4" textLength="18.3" lengthAdjust="spacingAndGlyphs" class="s">NPRNPR3</text>
<rect class="tb" x="213.25" y="746.55" width="11.0" height="3.7"/>
<text x="213.7" y="749.6" font-size="3.1" textLength="10.4" lengthAdjust="spacingAndGlyphs" class="s">NPR4</text>
<rect class="tb" x="161.65" y="721.25" width="4.6" height="8.5"/>
<text transform="translate(165.4 729.3) rotate(-90)" font-size="3.9" textLength="7.9" lengthAdjust="spacingAndGlyphs" class="s">NC22</text>
<rect class="tb" x="161.65" y="739.75" width="4.6" height="8.5"/>
<text transform="translate(165.4 747.8) rotate(-90)" font-size="3.9" textLength="7.9" lengthAdjust="spacingAndGlyphs" class="s">NC23</text>
<rect class="tb" x="162.95" y="673.65" width="3.6" height="7.6"/>
<text transform="translate(165.9 680.8) rotate(-90)" font-size="3.1" textLength="7.0" lengthAdjust="spacingAndGlyphs" class="s">NC24</text>
<rect class="tb" x="166.75" y="673.65" width="3.6" height="7.6"/>
<text transform="translate(169.7 680.8) rotate(-90)" font-size="3.1" textLength="7.0" lengthAdjust="spacingAndGlyphs" class="s">NC24</text>
<line x1="343.25" y1="683.85" x2="424.25" y2="683.85" stroke-dasharray="2.4 1.8"/>
<line x1="343.25" y1="683.85" x2="343.25" y2="722.85" stroke-dasharray="2.4 1.8"/>
<polyline points="343.75,693.35 347.25,693.35 349.25,689.85 423.75,689.85"/>
<polyline points="343.75,712.85 349.75,712.85 349.75,716.15 354.25,716.15 354.25,719.55 416.75,719.55 416.75,716.15 421.75,716.15 421.75,712.85 423.75,712.85"/>
<text transform="translate(423.0 699.1) rotate(180)" font-size="9.74" text-anchor="start" class="t">SATA3_1</text>
<line x1="424.75" y1="683.85" x2="505.75" y2="683.85" stroke-dasharray="2.4 1.8"/>
<line x1="424.75" y1="683.85" x2="424.75" y2="722.85" stroke-dasharray="2.4 1.8"/>
<polyline points="425.25,693.35 428.75,693.35 430.75,689.85 505.25,689.85"/>
<polyline points="425.25,712.85 431.25,712.85 431.25,716.15 435.75,716.15 435.75,719.55 498.25,719.55 498.25,716.15 503.25,716.15 503.25,712.85 505.25,712.85"/>
<text transform="translate(504.5 699.1) rotate(180)" font-size="9.74" text-anchor="start" class="t">SATA3_3</text>
<line x1="343.25" y1="724.75" x2="424.25" y2="724.75" stroke-dasharray="2.4 1.8"/>
<line x1="343.25" y1="724.75" x2="343.25" y2="763.75" stroke-dasharray="2.4 1.8"/>
<polyline points="343.75,734.25 347.25,734.25 349.25,730.75 423.75,730.75"/>
<polyline points="343.75,753.75 349.75,753.75 349.75,757.05 354.25,757.05 354.25,760.45 416.75,760.45 416.75,757.05 421.75,757.05 421.75,753.75 423.75,753.75"/>
<text transform="translate(423.0 740.0) rotate(180)" font-size="9.74" text-anchor="start" class="t">SATA3_0</text>
<line x1="424.75" y1="724.75" x2="505.75" y2="724.75" stroke-dasharray="2.4 1.8"/>
<line x1="424.75" y1="724.75" x2="424.75" y2="763.75" stroke-dasharray="2.4 1.8"/>
<polyline points="425.25,734.25 428.75,734.25 430.75,730.75 505.25,730.75"/>
<polyline points="425.25,753.75 431.25,753.75 431.25,757.05 435.75,757.05 435.75,760.45 498.25,760.45 498.25,757.05 503.25,757.05 503.25,753.75 505.25,753.75"/>
<text transform="translate(504.5 740.0) rotate(180)" font-size="9.74" text-anchor="start" class="t">SATA3_2</text>
<line x1="343.25" y1="722.85" x2="505.75" y2="722.85" stroke-dasharray="2.4 1.8"/>
<line x1="423.75" y1="683.85" x2="423.75" y2="766.25"/>
<line x1="425.25" y1="683.85" x2="425.25" y2="766.25"/>
<line x1="505.75" y1="683.85" x2="505.75" y2="766.25"/>
<line x1="343.25" y1="764.55" x2="505.75" y2="764.55" stroke-dasharray="2.4 1.8"/>
<rect class="tb" x="325.75" y="556.25" width="9.5" height="3.6"/>
<text x="326.2" y="559.2" font-size="3.1" textLength="8.9" lengthAdjust="spacingAndGlyphs" class="s">PBC6</text>
<rect class="tb" x="325.75" y="560.55" width="9.5" height="3.6"/>
<text x="326.2" y="563.5" font-size="3.1" textLength="8.9" lengthAdjust="spacingAndGlyphs" class="s">PBC6</text>
<rect x="506.25" y="662.05" width="44.8" height="38.6"/>
<text transform="translate(541.0 662.6) rotate(90) scale(1 1.13)" font-size="9.74" text-anchor="start" class="t">MA_L3</text>
<rect class="tb" x="497.65" y="670.95" width="3.7" height="8.1"/>
<text transform="translate(500.7 678.6) rotate(-90)" font-size="3.1" textLength="7.5" lengthAdjust="spacingAndGlyphs" class="s">MC2</text>
<rect class="tb" x="501.65" y="670.95" width="3.7" height="8.1"/>
<text transform="translate(504.7 678.6) rotate(-90)" font-size="3.1" textLength="7.5" lengthAdjust="spacingAndGlyphs" class="s">MC2</text>
<rect x="551.65" y="680.95" width="19.6" height="14.3"/>
<text transform="translate(566.3 681.2) rotate(90) scale(1 1.13)" font-size="4.6" text-anchor="start" class="t m">FAQ3</text>
<rect class="tb" x="551.25" y="695.25" width="4.6" height="9.0"/>
<text transform="translate(555.0 703.8) rotate(-90)" font-size="3.9" textLength="8.4" lengthAdjust="spacingAndGlyphs" class="s">MC3</text>
<rect class="tb" x="557.25" y="695.25" width="4.6" height="9.0"/>
<text transform="translate(561.0 703.8) rotate(-90)" font-size="3.9" textLength="8.4" lengthAdjust="spacingAndGlyphs" class="s">MC3</text>
<rect class="tb" x="563.25" y="695.25" width="4.6" height="9.0"/>
<text transform="translate(567.0 703.8) rotate(-90)" font-size="3.9" textLength="8.4" lengthAdjust="spacingAndGlyphs" class="s">MC3</text>
<rect class="tb" x="569.75" y="695.25" width="4.6" height="9.0"/>
<text transform="translate(573.5 703.8) rotate(-90)" font-size="3.9" textLength="8.4" lengthAdjust="spacingAndGlyphs" class="s">MC3</text>
<rect x="576.75" y="675.55" width="7.3" height="13.5"/>
<text transform="translate(582.8 688.4) rotate(-90) scale(1 1.13)" font-size="4.4" text-anchor="start" class="t b">MAC6</text>
<rect x="576.75" y="689.65" width="7.9" height="16.9"/>
<text transform="translate(583.2 706.0) rotate(-90) scale(1 1.13)" font-size="4.4" text-anchor="start" class="t b">MA_C01</text>
<rect class="tb" x="584.05" y="660.95" width="5.4" height="14.0"/>
<text transform="translate(588.3 674.5) rotate(-90)" font-size="4.2" textLength="13.4" lengthAdjust="spacingAndGlyphs" class="s">MAQ7</text>
<rect class="tb" x="585.15" y="676.25" width="4.1" height="12.0"/>
<text transform="translate(588.5 687.8) rotate(-90)" font-size="3.5" textLength="11.4" lengthAdjust="spacingAndGlyphs" class="s">MAR1</text>
<rect class="tb" x="595.45" y="678.65" width="4.8" height="9.6"/>
<text transform="translate(599.4 687.8) rotate(-90)" font-size="4.1" textLength="9.0" lengthAdjust="spacingAndGlyphs" class="s">MAR2</text>
<rect x="588.25" y="661.25" width="72.0" height="29.4"/>
<line x1="602.65" y1="661.25" x2="602.65" y2="690.65"/>
<line x1="621.85" y1="661.25" x2="621.85" y2="690.65"/>
<line x1="641.05" y1="661.25" x2="641.05" y2="690.65"/>
<line x1="602.65" y1="675.75" x2="660.25" y2="675.75"/>
<text transform="translate(607.2 675.0) rotate(-90) scale(1 1.13)" font-size="4.6" text-anchor="start" class="t m">MAQ6</text>
<text transform="translate(607.2 690.0) rotate(-90) scale(1 1.13)" font-size="4.6" text-anchor="start" class="t m">MAQ5</text>
<text transform="translate(626.4 675.0) rotate(-90) scale(1 1.13)" font-size="4.6" text-anchor="start" class="t m">MAQ1</text>
<text transform="translate(626.4 690.0) rotate(-90) scale(1 1.13)" font-size="4.6" text-anchor="start" class="t m">MAQ4</text>
<text transform="translate(645.6 675.0) rotate(-90) scale(1 1.13)" font-size="4.6" text-anchor="start" class="t m">MAQ2</text>
<text transform="translate(645.6 690.0) rotate(-90) scale(1 1.13)" font-size="4.6" text-anchor="start" class="t m">MAQ3</text>
<rect x="597.25" y="691.25" width="41.4" height="4.2"/>
<text transform="translate(597.6 694.6)" font-size="3.2" text-anchor="start" class="t b">MAR3 MAR4 MAR5 MAR6</text>
<rect class="tb" x="639.85" y="691.25" width="21.1" height="4.2"/>
<text x="640.3" y="694.7" font-size="3.6" textLength="20.5" lengthAdjust="spacingAndGlyphs" class="s">MAR7MAR8</text>
<rect x="660.95" y="657.55" width="19.2" height="7.9" rx="3.5" ry="3.5"/>
<text transform="translate(661.7 663.8)" font-size="5.8" text-anchor="start" class="t m">MAC4</text>
<rect class="tb" x="666.25" y="667.85" width="9.0" height="3.7"/>
<text x="666.7" y="670.9" font-size="3.1" textLength="8.4" lengthAdjust="spacingAndGlyphs" class="s">MAC7</text>
<rect class="tb" x="666.25" y="671.95" width="9.0" height="3.7"/>
<text x="666.7" y="675.0" font-size="3.1" textLength="8.4" lengthAdjust="spacingAndGlyphs" class="s">MAC7</text>
<rect class="tb" x="666.25" y="676.05" width="9.0" height="3.7"/>
<text x="666.7" y="679.1" font-size="3.1" textLength="8.4" lengthAdjust="spacingAndGlyphs" class="s">MAC7</text>
<rect class="tb" x="666.25" y="680.15" width="9.0" height="3.7"/>
<text x="666.7" y="683.2" font-size="3.1" textLength="8.4" lengthAdjust="spacingAndGlyphs" class="s">MAC7</text>
<rect class="tb" x="666.25" y="684.25" width="9.0" height="3.7"/>
<text x="666.7" y="687.3" font-size="3.1" textLength="8.4" lengthAdjust="spacingAndGlyphs" class="s">MAC7</text>
<rect class="tb" x="666.25" y="688.35" width="9.0" height="3.7"/>
<text x="666.7" y="691.4" font-size="3.1" textLength="8.4" lengthAdjust="spacingAndGlyphs" class="s">MAC7</text>
<rect class="tb" x="666.25" y="692.45" width="9.0" height="3.7"/>
<text x="666.7" y="695.5" font-size="3.1" textLength="8.4" lengthAdjust="spacingAndGlyphs" class="s">MAC7</text>
<text transform="translate(700.8 682.4) rotate(180) scale(1 1.05)" font-size="8.73" text-anchor="start" class="t">MAU1</text>
<line x1="678.25" y1="672.25" x2="678.25" y2="690.25"/>
<polyline points="701.75,672.25 701.75,679.25 698.65,679.25 698.65,682.25"/>
<line x1="701.75" y1="683.25" x2="701.75" y2="690.25"/>
<rect class="tb" x="703.45" y="667.45" width="3.2" height="8.5"/>
<text transform="translate(706.1 675.5) rotate(-90)" font-size="2.7" textLength="7.9" lengthAdjust="spacingAndGlyphs" class="s">MC4</text>
<rect x="705.25" y="676.75" width="56.2" height="28.7"/>
<text transform="translate(714.4 704.8) rotate(-90) scale(1 1.13)" font-size="9.03" text-anchor="start" class="t">Q31</text>
<ellipse cx="776.4" cy="680.5" rx="13.2" ry="11.3"/>
<line x1="776.15" y1="669.45" x2="776.15" y2="691.55"/>
<line x1="766.55" y1="667.25" x2="766.55" y2="671.25"/>
<line x1="764.55" y1="669.25" x2="768.55" y2="669.25"/>
<text transform="translate(763.0 676.2)" font-size="9.54" text-anchor="start" class="t">EC10</text>
<ellipse cx="806.4" cy="676.1" rx="15.3" ry="13.3"/>
<line x1="806.15" y1="663.05" x2="806.15" y2="689.15"/>
<line x1="795.03" y1="660.85" x2="795.03" y2="664.85"/>
<line x1="793.03" y1="662.85" x2="797.03" y2="662.85"/>
<text transform="translate(790.7 670.2)" font-size="9.13" text-anchor="start" class="t">MAEC4</text>
<rect class="tb" x="788.05" y="657.55" width="9.6" height="3.7"/>
<text x="788.5" y="660.6" font-size="3.1" textLength="9.0" lengthAdjust="spacingAndGlyphs" class="s">MAR9</text>
<rect x="800.55" y="689.45" width="19.2" height="8.4" rx="3.5" ry="3.5"/>
<text transform="translate(801.0 695.5)" font-size="4.8" text-anchor="start" class="t m">MAC60</text>
<rect x="766.45" y="692.55" width="8.4" height="17.3"/>
<text transform="translate(768.0 693.5) rotate(90) scale(1 1.13)" font-size="6" text-anchor="start" class="t m">AD1</text>
<rect x="775.85" y="701.45" width="16.8" height="15.1"/>
<text transform="translate(791.6 708.4) rotate(180)" font-size="8.53" text-anchor="start" class="t">RN8</text>
<rect class="tb" x="793.25" y="706.95" width="3.2" height="7.7"/>
<text transform="translate(795.9 714.2) rotate(-90)" font-size="2.7" textLength="7.1" lengthAdjust="spacingAndGlyphs" class="s">BC8</text>
<rect x="798.15" y="710.25" width="13.1" height="4.8"/>
<text transform="translate(798.5 714.2)" font-size="4" text-anchor="start" class="t b">BC49</text>
<rect x="811.25" y="710.25" width="13.3" height="4.8"/>
<text transform="translate(811.6 714.2)" font-size="4" text-anchor="start" class="t b">BC9</text>
<rect x="702.85" y="707.85" width="19.0" height="8.2" rx="3" ry="3"/>
<text transform="translate(703.4 714.4)" font-size="6.8" text-anchor="start" class="t m">BC35</text>
<rect class="tb" x="723.25" y="711.05" width="11.3" height="3.7"/>
<text x="723.7" y="714.1" font-size="3.1" textLength="10.7" lengthAdjust="spacingAndGlyphs" class="s">BR35</text>
<rect class="tb" x="736.95" y="707.45" width="4.2" height="7.6"/>
<text transform="translate(740.4 714.6) rotate(-90)" font-size="3.6" textLength="7.0" lengthAdjust="spacingAndGlyphs" class="s">BC36</text>
<rect class="tb" x="741.85" y="707.45" width="4.2" height="7.6"/>
<text transform="translate(745.3 714.6) rotate(-90)" font-size="3.6" textLength="7.0" lengthAdjust="spacingAndGlyphs" class="s">BC36</text>
<rect class="tb" x="746.75" y="707.45" width="4.2" height="7.6"/>
<text transform="translate(750.2 714.6) rotate(-90)" font-size="3.6" textLength="7.0" lengthAdjust="spacingAndGlyphs" class="s">BC36</text>
<rect class="tb" x="751.65" y="707.45" width="4.2" height="7.6"/>
<text transform="translate(755.1 714.6) rotate(-90)" font-size="3.6" textLength="7.0" lengthAdjust="spacingAndGlyphs" class="s">BC36</text>
<rect class="tb" x="756.55" y="707.45" width="4.2" height="7.6"/>
<text transform="translate(760.0 714.6) rotate(-90)" font-size="3.6" textLength="7.0" lengthAdjust="spacingAndGlyphs" class="s">BC36</text>
<rect x="687.05" y="699.05" width="9.6" height="16.8" rx="3.5" ry="3.5"/>
<text transform="translate(689.0 699.6) rotate(90) scale(1 1.13)" font-size="5" text-anchor="start" class="t m">BC28</text>
<rect class="tb" x="680.15" y="702.65" width="4.5" height="12.4"/>
<text transform="translate(683.8 714.6) rotate(-90)" font-size="3.8" textLength="11.8" lengthAdjust="spacingAndGlyphs" class="s">CAR5</text>
<rect x="681.75" y="716.55" width="251.5" height="43.0"/>
<rect x="933.25" y="740.05" width="16.8" height="15.7"/>
<rect x="664.55" y="717.45" width="16.5" height="14.0"/>
<text transform="translate(665.2 725.2)" font-size="9.54" text-anchor="start" class="t">ATX</text>
<text transform="translate(673.8 718.0) rotate(90) scale(1 1.13)" font-size="5" text-anchor="start" class="t m">6N5</text>
<rect x="664.55" y="740.55" width="17.2" height="15.6"/>
<ellipse cx="649.8" cy="722.3" rx="13.2" ry="11.5"/>
<line x1="649.55" y1="711.05" x2="649.55" y2="733.55"/>
<line x1="639.95" y1="708.85" x2="639.95" y2="712.85"/>
<line x1="637.95" y1="710.85" x2="641.95" y2="710.85"/>
<text transform="translate(636.0 715.0)" font-size="5.6" text-anchor="start" class="t m">FAUSEC1</text>
<rect x="518.45" y="729.55" width="109.4" height="30.0"/>
<text transform="translate(604.3 743.2)" font-size="5.4" text-anchor="start" class="t m">F_USB30</text>
<line x1="617.05" y1="756.55" x2="627.85" y2="756.55"/>
<polyline points="567.05,759.55 567.05,756.55 578.65,756.55 578.65,759.55"/>
<rect x="528.65" y="710.65" width="15.4" height="18.3"/>
<text transform="translate(533.0 728.3) rotate(-90) scale(1 1.13)" font-size="4.6" text-anchor="start" class="t m">FAUSB4</text>
<rect class="tb" x="550.25" y="721.25" width="3.8" height="7.7"/>
<text transform="translate(553.4 728.5) rotate(-90)" font-size="3.2" textLength="7.1" lengthAdjust="spacingAndGlyphs" class="s">FC2</text>
<rect class="tb" x="554.25" y="721.25" width="3.8" height="7.7"/>
<text transform="translate(557.4 728.5) rotate(-90)" font-size="3.2" textLength="7.1" lengthAdjust="spacingAndGlyphs" class="s">FC2</text>
<rect class="tb" x="559.75" y="724.25" width="13.5" height="4.7"/>
<text x="560.2" y="728.1" font-size="4.0" textLength="12.9" lengthAdjust="spacingAndGlyphs" class="s">FAUSBV</text>
<rect class="tb" x="574.55" y="721.25" width="3.8" height="7.7"/>
<text transform="translate(577.7 728.5) rotate(-90)" font-size="3.2" textLength="7.1" lengthAdjust="spacingAndGlyphs" class="s">FC3</text>
<rect class="tb" x="578.65" y="721.25" width="3.8" height="7.7"/>
<text transform="translate(581.8 728.5) rotate(-90)" font-size="3.2" textLength="7.1" lengthAdjust="spacingAndGlyphs" class="s">FC3</text>
<rect class="tb" x="584.05" y="724.25" width="13.5" height="4.7"/>
<text x="584.5" y="728.1" font-size="4.0" textLength="12.9" lengthAdjust="spacingAndGlyphs" class="s">FAUSBV</text>
<rect class="tb" x="600.25" y="720.65" width="3.5" height="8.6"/>
<text transform="translate(603.1 728.8) rotate(-90)" font-size="3.0" textLength="8.0" lengthAdjust="spacingAndGlyphs" class="s">FC4</text>
<rect class="tb" x="601.25" y="715.85" width="8.6" height="3.4"/>
<text x="601.7" y="718.6" font-size="2.9" textLength="8.0" lengthAdjust="spacingAndGlyphs" class="s">FBR1</text>
<rect x="607.25" y="721.85" width="16.5" height="7.4"/>
<text transform="translate(607.6 728.4)" font-size="3.6" text-anchor="start" class="t b">FAUSB4</text>
<rect x="822.25" y="661.75" width="51.2" height="44.7"/>
<text transform="translate(872.4 678.0) rotate(180)" font-size="6.7" text-anchor="start" class="t m">MA_L1</text>
<rect x="881.75" y="660.95" width="27.8" height="31.6"/>
<text transform="translate(882.0 666.7)" font-size="6.5" text-anchor="start" class="t m">MA_DQ2</text>
<rect class="tb" x="875.45" y="678.65" width="4.3" height="11.4"/>
<text transform="translate(879.0 689.6) rotate(-90)" font-size="3.7" textLength="10.8" lengthAdjust="spacingAndGlyphs" class="s">MAR10</text>
<rect class="tb" x="875.45" y="690.85" width="4.3" height="8.8"/>
<text transform="translate(879.0 699.2) rotate(-90)" font-size="3.7" textLength="8.2" lengthAdjust="spacingAndGlyphs" class="s">MAR11</text>
<rect x="874.75" y="701.65" width="16.9" height="13.9"/>
<text transform="translate(890.6 708.1) rotate(180)" font-size="8.53" text-anchor="start" class="t">RN7</text>
<rect class="tb" x="895.65" y="707.25" width="4.2" height="8.3"/>
<text transform="translate(899.1 715.1) rotate(-90)" font-size="3.6" textLength="7.7" lengthAdjust="spacingAndGlyphs" class="s">BC40</text>
<rect class="tb" x="900.45" y="707.25" width="4.2" height="8.3"/>
<text transform="translate(903.9 715.1) rotate(-90)" font-size="3.6" textLength="7.7" lengthAdjust="spacingAndGlyphs" class="s">BC40</text>
<rect class="tb" x="905.25" y="707.25" width="4.2" height="8.3"/>
<text transform="translate(908.7 715.1) rotate(-90)" font-size="3.6" textLength="7.7" lengthAdjust="spacingAndGlyphs" class="s">BC40</text>
<rect x="810.25" y="709.75" width="15.2" height="5.5" rx="2.5" ry="2.5"/>
<text transform="translate(811.0 714.0)" font-size="4.2" text-anchor="start" class="t b">BC9</text>
<rect class="tb" x="826.65" y="711.05" width="19.6" height="4.2"/>
<text x="827.1" y="714.5" font-size="3.6" textLength="19.0" lengthAdjust="spacingAndGlyphs" class="s">CR46CR47</text>
<rect x="846.25" y="709.75" width="14.6" height="5.5" rx="2.5" ry="2.5"/>
<text transform="translate(847.0 714.0)" font-size="4.2" text-anchor="start" class="t b">BC47</text>
<rect x="806.25" y="689.55" width="13.6" height="8.7" rx="3.5" ry="3.5"/>
<rect x="918.45" y="660.95" width="35.8" height="24.8"/>
<text transform="translate(947.8 661.2) rotate(90) scale(1 1.13)" font-size="6.2" text-anchor="start" class="t m">MA_DQ1</text>
<rect class="tb" x="913.85" y="674.25" width="4.4" height="9.0"/>
<text transform="translate(917.4 682.8) rotate(-90)" font-size="3.7" textLength="8.4" lengthAdjust="spacingAndGlyphs" class="s">MR10</text>
<rect class="tb" x="910.65" y="685.75" width="5.3" height="12.5"/>
<text transform="translate(914.9 697.8) rotate(-90)" font-size="4.2" textLength="11.9" lengthAdjust="spacingAndGlyphs" class="s">MAR12</text>
<rect x="956.15" y="676.95" width="5.8" height="12.6" rx="2.5" ry="2.5"/>
<text transform="translate(960.6 688.8) rotate(-90)" font-size="4.2" textLength="11.4" lengthAdjust="spacingAndGlyphs" class="s">MAC9</text>
<ellipse cx="977.4" cy="676.0" rx="15.4" ry="13.2"/>
<line x1="977.15" y1="663.05" x2="977.15" y2="688.95"/>
<line x1="965.96" y1="660.85" x2="965.96" y2="664.85"/>
<line x1="963.96" y1="662.85" x2="967.96" y2="662.85"/>
<text transform="translate(962.4 669.9)" font-size="8.83" text-anchor="start" class="t">MAEC1</text>
<rect x="918.45" y="687.55" width="13.1" height="5.0"/>
<text transform="translate(918.8 691.7)" font-size="3.4" text-anchor="start" class="t b">MA_BR1</text>
<rect class="tb" x="919.45" y="694.05" width="10.3" height="4.2"/>
<text x="919.9" y="697.5" font-size="3.6" textLength="9.7" lengthAdjust="spacingAndGlyphs" class="s">MAR13</text>
<rect class="tb" x="932.25" y="694.05" width="9.4" height="3.7"/>
<text x="932.7" y="697.1" font-size="3.1" textLength="8.8" lengthAdjust="spacingAndGlyphs" class="s">MAR14</text>
<rect class="tb" x="932.25" y="698.65" width="9.4" height="3.7"/>
<text x="932.7" y="701.7" font-size="3.1" textLength="8.8" lengthAdjust="spacingAndGlyphs" class="s">MAR14</text>
<rect class="tb" x="932.25" y="703.25" width="9.4" height="3.7"/>
<text x="932.7" y="706.3" font-size="3.1" textLength="8.8" lengthAdjust="spacingAndGlyphs" class="s">MAR14</text>
<rect class="tb" x="932.25" y="707.85" width="9.4" height="3.7"/>
<text x="932.7" y="710.9" font-size="3.1" textLength="8.8" lengthAdjust="spacingAndGlyphs" class="s">MAR14</text>
<rect class="tb" x="943.75" y="694.05" width="9.3" height="3.7"/>
<text x="944.2" y="697.1" font-size="3.1" textLength="8.7" lengthAdjust="spacingAndGlyphs" class="s">MAR15</text>
<rect class="tb" x="943.75" y="698.65" width="9.3" height="3.7"/>
<text x="944.2" y="701.7" font-size="3.1" textLength="8.7" lengthAdjust="spacingAndGlyphs" class="s">MAR15</text>
<rect class="tb" x="943.75" y="703.25" width="9.3" height="3.7"/>
<text x="944.2" y="706.3" font-size="3.1" textLength="8.7" lengthAdjust="spacingAndGlyphs" class="s">MAR15</text>
<rect class="tb" x="920.25" y="703.45" width="8.8" height="3.6"/>
<text x="920.7" y="706.4" font-size="3.1" textLength="8.2" lengthAdjust="spacingAndGlyphs" class="s">MAR16</text>
<rect class="tb" x="920.25" y="707.75" width="8.8" height="3.6"/>
<text x="920.7" y="710.7" font-size="3.1" textLength="8.2" lengthAdjust="spacingAndGlyphs" class="s">MAR16</text>
<polygon points="953.55,693.25 958.25,693.25 958.25,694.75 963.25,694.75 963.25,693.25 968.75,693.25 968.75,707.25 953.55,707.25"/>
<text transform="translate(973.5 709.0) rotate(-90) scale(1 1.13)" font-size="4.6" text-anchor="start" class="t m">MAU2</text>
<rect class="tb" x="946.25" y="708.45" width="28.3" height="4.1"/>
<text x="946.7" y="711.8" font-size="3.5" textLength="27.7" lengthAdjust="spacingAndGlyphs" class="s">MAR17MAR18MAR19</text>
<rect class="tb" x="946.25" y="712.75" width="9.5" height="3.8"/>
<text x="946.7" y="715.9" font-size="3.2" textLength="8.9" lengthAdjust="spacingAndGlyphs" class="s">MAR20</text>
<rect x="976.25" y="689.05" width="14.7" height="5.5" rx="2.5" ry="2.5"/>
<text x="977.7" y="693.2" font-size="3.8" textLength="12.4" lengthAdjust="spacingAndGlyphs" class="s">MAC10</text>
<rect x="976.25" y="700.25" width="14.7" height="5.5" rx="2.5" ry="2.5"/>
<text x="977.7" y="704.4" font-size="3.8" textLength="12.4" lengthAdjust="spacingAndGlyphs" class="s">MAC10</text>
<rect x="976.25" y="706.75" width="14.7" height="5.5" rx="2.5" ry="2.5"/>
<text x="977.7" y="710.9" font-size="3.8" textLength="12.4" lengthAdjust="spacingAndGlyphs" class="s">MAC10</text>
<text transform="translate(999.0 694.3) rotate(-90) scale(1 1.13)" font-size="6.4" text-anchor="start" class="t m">MA_L2</text>
<polyline points="1007.25,674.25 1011.75,674.25 1011.75,694.05 1007.25,694.05"/>
<rect class="tb" x="1011.95" y="682.75" width="4.3" height="7.5"/>
<text transform="translate(1015.5 689.8) rotate(-90)" font-size="3.7" textLength="6.9" lengthAdjust="spacingAndGlyphs" class="s">MR11</text>
<rect x="1017.55" y="665.55" width="15.5" height="16.4"/>
<rect x="1017.55" y="681.95" width="15.5" height="17.7"/>
<text transform="translate(1032.5 677.9) rotate(180)" font-size="4.6" text-anchor="start" class="t m">MAQ9</text>
<text transform="translate(1032.5 695.7) rotate(180)" font-size="4.6" text-anchor="start" class="t m">MAQ8</text>
<rect x="1039.05" y="665.55" width="15.5" height="16.4"/>
<rect x="1039.05" y="681.95" width="15.5" height="17.7"/>
<text transform="translate(1054.0 677.9) rotate(180)" font-size="4.6" text-anchor="start" class="t m">MAQ11</text>
<text transform="translate(1054.0 695.7) rotate(180)" font-size="4.6" text-anchor="start" class="t m">MAQ10</text>
<rect class="tb" x="1033.45" y="665.55" width="4.3" height="16.4"/>
<text transform="translate(1037.0 681.5) rotate(-90)" font-size="3.7" textLength="15.8" lengthAdjust="spacingAndGlyphs" class="s">MAR21</text>
<rect class="tb" x="1033.45" y="683.25" width="4.3" height="16.0"/>
<text transform="translate(1037.0 698.8) rotate(-90)" font-size="3.7" textLength="15.4" lengthAdjust="spacingAndGlyphs" class="s">MAR22</text>
<rect class="tb" x="1055.95" y="662.45" width="5.8" height="13.2"/>
<text transform="translate(1060.4 675.2) rotate(-90)" font-size="4.2" textLength="12.6" lengthAdjust="spacingAndGlyphs" class="s">MAQ9</text>
<rect class="tb" x="1055.95" y="676.25" width="5.8" height="11.0"/>
<text transform="translate(1060.4 686.8) rotate(-90)" font-size="4.2" textLength="10.4" lengthAdjust="spacingAndGlyphs" class="s">MAR23</text>
<rect class="tb" x="1055.95" y="688.25" width="5.8" height="12.0"/>
<text transform="translate(1060.4 699.8) rotate(-90)" font-size="4.2" textLength="11.4" lengthAdjust="spacingAndGlyphs" class="s">MAR24</text>
<rect class="tb" x="994.25" y="657.95" width="9.4" height="3.8"/>
<text x="994.7" y="661.1" font-size="3.2" textLength="8.8" lengthAdjust="spacingAndGlyphs" class="s">MAR25</text>
<rect x="1003.65" y="657.45" width="18.6" height="4.5"/>
<text transform="translate(1004.0 659.8)" font-size="3.2" text-anchor="start" class="t b">MA_RN1</text>
<rect class="tb" x="1024.65" y="657.95" width="9.6" height="3.8"/>
<text x="1025.1" y="661.1" font-size="3.2" textLength="9.0" lengthAdjust="spacingAndGlyphs" class="s">MAR26</text>
<rect class="tb" x="1042.25" y="657.95" width="10.0" height="3.8"/>
<text x="1042.7" y="661.1" font-size="3.2" textLength="9.4" lengthAdjust="spacingAndGlyphs" class="s">MAR27</text>
<rect class="tb" x="1052.25" y="657.95" width="10.0" height="3.8"/>
<text x="1052.7" y="661.1" font-size="3.2" textLength="9.4" lengthAdjust="spacingAndGlyphs" class="s">MAR28</text>
<ellipse cx="1014.1" cy="714.0" rx="13.4" ry="11.4"/>
<line x1="1013.85" y1="702.85" x2="1013.85" y2="725.15"/>
<line x1="1004.10" y1="700.65" x2="1004.10" y2="704.65"/>
<line x1="1002.10" y1="702.65" x2="1006.10" y2="702.65"/>
<text transform="translate(1000.0 710.4)" font-size="9.54" text-anchor="start" class="t">EC11</text>
<rect x="981.25" y="719.85" width="19.0" height="7.6" rx="3" ry="3"/>
<text transform="translate(999.5 721.8) rotate(180)" font-size="6.4" text-anchor="start" class="t m">BC59</text>
<rect x="982.15" y="727.95" width="35.9" height="24.8"/>
<text transform="translate(1007.6 728.5) rotate(90) scale(1 1.13)" font-size="9.34" text-anchor="start" class="t">Q30</text>
<rect class="tb" x="976.55" y="744.25" width="3.7" height="8.5"/>
<text transform="translate(979.6 752.3) rotate(-90)" font-size="3.1" textLength="7.9" lengthAdjust="spacingAndGlyphs" class="s">BC60</text>
<rect x="952.55" y="719.25" width="15.7" height="17.0"/>
<rect x="952.55" y="736.25" width="15.7" height="17.0"/>
<text transform="translate(967.5 729.4) rotate(180)" font-size="7.71" text-anchor="start" class="t">Q54</text>
<text transform="translate(967.5 746.5) rotate(180)" font-size="7.71" text-anchor="start" class="t">Q32</text>
<rect class="tb" x="939.95" y="727.45" width="9.3" height="3.6"/>
<text x="940.4" y="730.4" font-size="3.1" textLength="8.7" lengthAdjust="spacingAndGlyphs" class="s">BR60</text>
<rect class="tb" x="939.95" y="731.75" width="9.3" height="3.6"/>
<text x="940.4" y="734.7" font-size="3.1" textLength="8.7" lengthAdjust="spacingAndGlyphs" class="s">BR60</text>
<rect class="tb" x="939.95" y="736.05" width="9.3" height="3.6"/>
<text x="940.4" y="739.0" font-size="3.1" textLength="8.7" lengthAdjust="spacingAndGlyphs" class="s">BR60</text>
<ellipse cx="1055.3" cy="736.7" rx="27.8" ry="24.9"/>
<rect x="0" y="765.7" width="1084" height="1.3" style="fill:#444;stroke:none"/>
<rect x="1082.7" y="0" width="1.3" height="767" style="fill:#444;stroke:none"/>
</svg>
</body></html>
